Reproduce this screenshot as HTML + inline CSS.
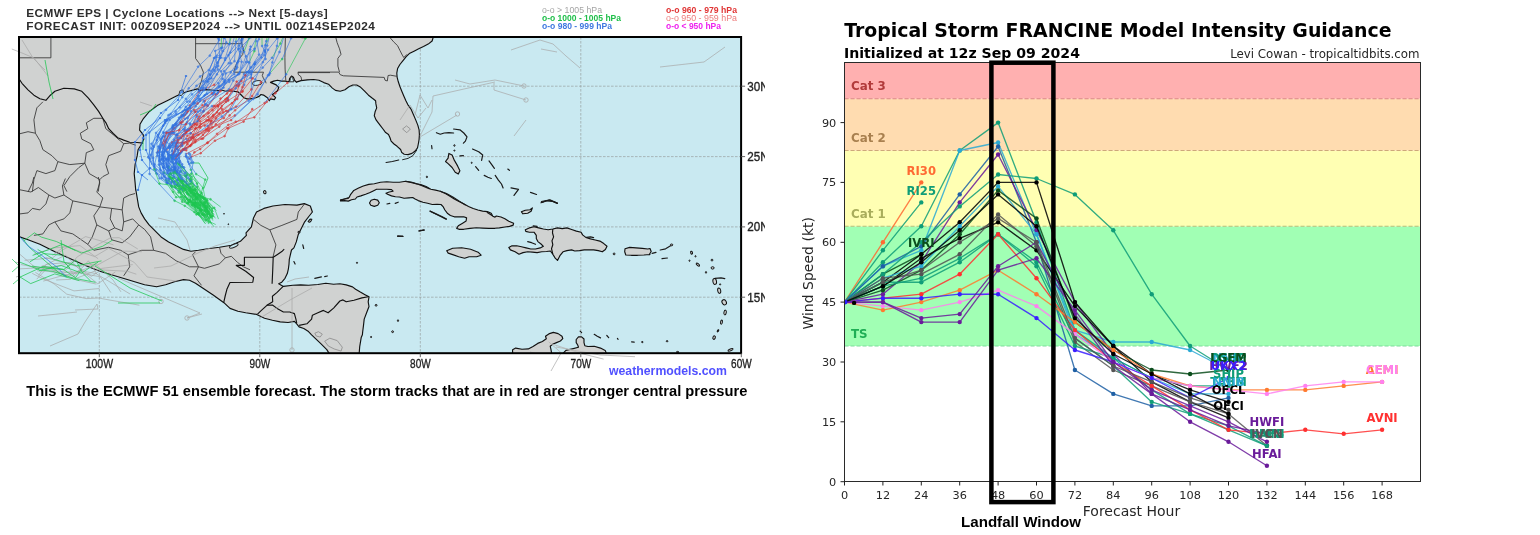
<!DOCTYPE html>
<html lang="en">
<head>
<meta charset="utf-8">
<title>Tropical Storm Francine - ECMWF ensemble tracks and model intensity guidance</title>
<style>
html,body{margin:0;padding:0;background:#fff;}
body{width:1540px;height:535px;overflow:hidden;position:relative;font-family:"Liberation Sans",sans-serif;}
.panel{position:absolute;top:0;margin:0;height:535px;overflow:hidden;}
#map-panel{left:0;width:765px;}
#chart-panel{left:0;width:1540px;pointer-events:none;}
svg{position:absolute;left:0;top:0;display:block;}
svg text{white-space:pre;}
</style>
</head>
<body>
<figure class="panel" id="map-panel">
<svg width="765" height="535" viewBox="0 0 765 535">
<clipPath id="mc"><rect x="19.0" y="37.0" width="722.1" height="316.2"/></clipPath>
<rect x="19.0" y="37.0" width="722.1" height="316.2" fill="#c9e9f1"/>
<g stroke="#959b9b" stroke-width="0.65" stroke-dasharray="2.6,1.4"><line x1="99.3" y1="37.0" x2="99.3" y2="353.2"/><line x1="259.8" y1="37.0" x2="259.8" y2="353.2"/><line x1="420.3" y1="37.0" x2="420.3" y2="353.2"/><line x1="580.8" y1="37.0" x2="580.8" y2="353.2"/><line x1="19.0" y1="86.2" x2="741.1" y2="86.2"/><line x1="19.0" y1="156.6" x2="741.1" y2="156.6"/><line x1="19.0" y1="226.9" x2="741.1" y2="226.9"/><line x1="19.0" y1="297.2" x2="741.1" y2="297.2"/></g>
<g clip-path="url(#mc)">
<g fill="#d0d2d1" stroke="#111" stroke-width="1.15" stroke-linejoin="round">
<path d="M17.0,35.0 L433.7,35.7 L432.1,41.0 L428.2,44.1 L423.5,46.5 L418.7,48.8 L414.0,51.2 L409.3,53.6 L406.2,56.7 L403.0,60.6 L399.9,64.5 L397.6,68.5 L396.8,73.2 L397.1,77.1 L398.3,81.8 L399.9,86.5 L401.8,91.2 L403.8,95.9 L405.9,100.7 L407.8,104.6 L411.2,109.4 L413.6,114.9 L415.9,120.4 L417.8,125.1 L419.1,129.8 L419.4,134.5 L419.1,139.3 L418.3,144.0 L417.5,147.9 L415.2,151.0 L412.0,153.4 L408.1,154.6 L404.2,154.2 L401.8,152.6 L400.6,149.5 L397.1,146.3 L394.0,144.0 L391.1,141.1 L390.0,137.7 L388.5,134.5 L385.3,132.2 L383.0,129.0 L380.6,125.9 L378.3,122.8 L375.9,119.6 L374.3,115.7 L375.1,111.8 L376.7,107.9 L375.9,103.9 L375.6,100.7 L372.4,98.3 L368.5,95.2 L364.6,91.2 L360.7,87.3 L356.7,85.0 L352.8,85.0 L348.9,86.8 L345.0,89.7 L340.2,91.2 L335.5,90.4 L332.4,88.1 L328.5,84.2 L323.8,82.6 L319.0,80.2 L313.6,79.5 L307.3,79.9 L301.0,80.6 L296.3,82.1 L296.6,82.4 L294.7,80.5 L293.4,77.3 L291.5,76.1 L289.6,78.6 L289.0,81.8 L285.1,81.1 L281.3,81.1 L277.5,80.2 L273.7,81.1 L270.5,82.4 L276.2,84.9 L278.8,87.5 L277.5,90.7 L274.3,93.2 L272.4,94.5 L275.6,97.7 L274.3,99.6 L270.5,98.9 L269.3,100.8 L267.4,97.7 L263.5,95.1 L261.0,94.5 L259.1,96.4 L255.9,97.7 L250.8,98.9 L247.0,98.9 L243.8,97.7 L240.7,94.5 L238.1,91.9 L233.0,91.3 L228.0,90.7 L225.4,91.3 L221.6,90.0 L216.5,90.7 L211.4,90.0 L206.4,89.6 L200.0,90.4 L197.5,88.9 L186.7,91.8 L176.9,95.8 L167.1,100.7 L157.3,105.6 L149.4,111.5 L143.6,118.3 L140.0,124.2 L139.6,130.1 L143.2,134.7 L143.8,139.2 L141.7,143.7 L138.1,149.7 L137.2,155.7 L135.1,164.6 L134.2,173.6 L135.1,182.6 L135.7,190.1 L135.7,189.0 L137.2,198.0 L138.7,206.9 L141.1,212.9 L144.6,218.9 L149.1,224.9 L155.1,230.9 L161.1,236.9 L168.6,241.9 L176.1,245.8 L183.5,249.4 L191.0,251.2 L198.5,250.3 L207.5,248.8 L219.5,247.3 L231.4,245.2 L240.4,241.3 L246.4,235.4 L246.0,232.9 L251.4,226.9 L253.5,218.0 L256.5,212.0 L263.9,208.4 L272.9,206.0 L284.9,204.5 L296.9,205.1 L304.3,203.6 L310.3,206.0 L312.4,212.0 L308.8,216.5 L304.3,222.4 L301.3,228.4 L298.3,234.4 L296.3,241.9 L293.9,247.9 L291.5,250.0 L290.4,254.7 L289.3,259.4 L289.0,264.1 L288.4,268.8 L287.3,273.6 L285.0,278.3 L281.8,282.2 L278.7,283.8 L283.4,286.4 L292.8,285.3 L300.7,284.9 L308.5,285.3 L317.9,284.5 L325.8,283.3 L333.6,284.2 L339.9,283.8 L346.2,284.9 L352.5,286.9 L355.6,289.3 L360.3,292.1 L365.0,294.7 L369.0,296.8 L368.2,301.8 L369.0,306.5 L366.6,312.8 L364.2,319.1 L363.5,325.4 L362.7,331.6 L362.4,334.8 L361.2,337.6 L359.7,346.6 L359.1,354.4 L329.8,354.4 L326.8,349.6 L320.8,343.6 L311.6,334.8 L308.5,331.6 L303.8,328.5 L299.1,326.9 L296.7,323.8 L294.4,321.4 L288.1,322.5 L280.2,321.9 L272.4,320.3 L264.5,318.3 L256.7,314.4 L245.7,312.8 L237.9,311.2 L230.0,308.4 L223.9,302.7 L213.5,295.2 L204.5,289.2 L195.5,283.2 L189.5,280.2 L183.5,279.6 L174.6,281.7 L165.6,284.7 L156.6,286.8 L144.6,284.7 L129.7,280.2 L114.7,275.8 L99.8,271.3 L84.8,265.3 L69.8,258.4 L54.9,251.8 L39.9,244.3 L28.0,239.8 L19.6,236.9 L17.0,236.5Z"/>
<path d="M340.5,200.1 L344.4,199.0 L349.1,197.5 L350.7,194.3 L353.8,190.4 L358.6,188.1 L363.3,186.0 L368.8,184.4 L374.3,183.8 L380.5,182.2 L386.8,181.8 L393.1,182.2 L399.4,182.2 L405.7,181.3 L411.9,182.2 L416.6,183.8 L421.4,184.9 L426.1,186.5 L430.8,189.2 L435.5,190.1 L440.2,191.2 L444.9,193.2 L449.6,195.9 L454.3,199.0 L459.0,201.4 L463.7,203.8 L468.5,206.4 L473.2,208.5 L477.9,210.0 L482.6,211.1 L487.3,211.6 L491.2,213.2 L492.8,216.3 L495.0,217.1 L496.3,216.0 L501.0,217.0 L504.9,218.8 L508.8,221.2 L513.6,223.2 L513.2,225.1 L509.6,226.4 L504.9,227.0 L499.4,227.9 L494.7,228.3 L495.0,228.4 L488.9,228.4 L482.6,228.1 L476.3,227.8 L470.0,228.4 L463.7,229.3 L459.0,229.3 L456.7,228.4 L458.3,225.7 L462.2,223.4 L466.1,221.0 L466.6,217.9 L463.7,216.8 L459.0,216.8 L454.3,216.8 L450.4,215.5 L447.3,213.2 L444.9,210.0 L443.3,206.9 L441.0,204.5 L437.1,204.2 L432.3,204.5 L427.6,203.3 L422.9,202.2 L418.2,200.6 L415.1,199.0 L412.7,197.5 L408.8,197.9 L404.1,198.3 L399.4,197.0 L395.4,196.7 L391.5,195.9 L387.6,194.3 L386.0,193.2 L389.2,192.0 L393.1,191.2 L391.5,189.6 L386.8,189.2 L382.1,189.2 L376.6,189.2 L372.7,191.2 L369.5,192.8 L365.6,194.3 L360.9,195.9 L357.0,197.0 L355.4,199.0 L351.5,199.8 L348.3,201.1 L344.4,200.6 L340.5,200.9Z"/>
<path d="M369.5,203.0 L371.1,200.3 L374.3,199.2 L377.7,200.1 L379.3,202.7 L377.7,205.3 L374.3,206.4 L370.8,205.3Z"/>
<path d="M446.7,250.7 L452.7,248.3 L461.7,247.7 L470.6,249.2 L478.1,252.2 L481.1,255.2 L476.6,256.7 L469.1,256.7 L464.6,258.2 L458.7,256.7 L452.7,254.6 L448.2,253.1Z"/>
<path d="M525.3,229.8 L529.3,227.9 L534.0,226.7 L538.7,227.9 L543.4,229.0 L548.1,229.8 L552.8,229.0 L557.5,227.9 L562.2,228.6 L566.9,227.9 L571.6,229.5 L576.4,231.1 L581.1,232.2 L582.6,234.9 L585.8,237.4 L590.5,238.9 L595.2,240.0 L599.9,241.1 L603.8,243.6 L607.0,246.3 L605.4,249.5 L602.3,251.8 L598.3,250.6 L593.6,249.9 L588.9,249.9 L584.2,249.9 L579.5,250.6 L574.8,251.0 L571.6,249.9 L566.9,250.6 L563.0,251.8 L559.9,255.7 L557.5,260.4 L555.2,258.1 L552.8,254.2 L550.4,251.0 L546.5,251.5 L541.8,251.8 L537.1,252.6 L532.4,252.1 L527.7,251.8 L523.0,252.6 L519.0,254.2 L515.1,251.8 L510.4,249.9 L508.8,247.4 L512.0,245.8 L516.7,245.8 L521.4,246.8 L526.1,247.9 L530.8,249.0 L535.5,249.0 L540.2,247.9 L543.4,246.3 L541.0,244.0 L537.9,241.6 L536.3,238.5 L536.3,235.3 L534.0,232.2 L529.3,232.2 L525.8,231.4Z"/>
<path d="M624.7,251.8 L625.0,248.7 L629.7,247.4 L636.0,247.9 L642.3,248.4 L647.8,249.0 L650.0,248.5 L651.2,251.5 L649.1,254.8 L650.0,254.5 L643.9,255.0 L637.6,255.3 L631.3,255.3 L625.8,255.0Z"/>
<path d="M512.6,354.4 L512.6,349.7 L515.7,348.1 L522.0,349.3 L528.3,348.9 L533.0,346.5 L537.7,343.4 L542.4,341.5 L546.3,338.7 L545.5,336.3 L549.5,333.6 L553.4,332.4 L558.1,333.6 L562.0,336.3 L562.8,338.7 L560.4,341.0 L556.5,342.6 L552.6,344.2 L550.2,346.2 L551.0,349.7 L551.8,354.4Z"/>
<path d="M562.0,354.4 L565.9,350.4 L572.2,348.9 L578.5,347.3 L577.7,345.0 L576.2,342.6 L576.2,339.5 L578.5,336.8 L581.6,336.8 L584.0,339.0 L584.0,342.6 L584.8,345.7 L587.9,346.5 L594.2,346.2 L600.5,348.1 L605.2,350.4 L606.8,354.4Z"/>
<path d="M448.9,153.4 L452.1,155.0 L454.4,160.4 L457.6,165.9 L459.9,170.7 L458.3,174.1 L455.2,172.2 L452.1,167.5 L448.1,163.6 L445.5,161.5 L448.1,158.1Z"/>
<path d="M521.4,211.8 L525.3,210.2 L530.0,209.7 L532.4,207.9 L531.1,211.3 L527.7,213.3 L523.0,213.8Z"/>
</g>
<g fill="none" stroke="#333" stroke-linejoin="round" stroke-width="0.85"><path d="M50.9,36.0 L50.9,57.8 L18.0,57.8"/><path d="M195.6,35.9 L195.6,58.5 L198.5,62.4 L200.5,65.3 L203.4,72.2 L202.4,77.1 L201.5,81.0 L198.5,88.9"/><path d="M195.6,43.7 L241.7,43.7"/><path d="M241.7,35.9 L241.3,41.8 L243.7,49.6 L242.7,54.5 L238.7,59.4 L235.8,65.3 L233.8,71.8"/><path d="M233.7,72.2 L263.5,72.2 L262.3,75.4 L263.5,78.6 L265.4,81.1 L266.1,83.3"/><path d="M285.4,36.0 L284.9,57.6 L285.1,69.1 L285.8,80.5"/><path d="M301.7,80.5 L301.0,76.7 L298.5,74.8 L297.9,72.6 L330.0,72.6"/><path d="M297.9,72.1 L338.7,72.1 L340.2,74.7 L343.4,75.8 L384.2,77.4 L385.0,80.2 L387.3,81.0 L388.1,75.5 L390.5,75.2 L396.8,76.3"/><path d="M335.5,36.3 L337.1,42.6 L339.5,48.8 L341.0,54.3 L337.9,58.3 L337.9,66.1 L339.5,72.1"/><path d="M388.9,36.3 L393.6,41.8 L397.6,45.7 L399.9,50.4 L402.3,55.1 L403.8,57.5 L407.0,54.3"/><path d="M16.0,134.7 L28.0,131.7 L35.4,133.2 L39.9,140.7 L42.9,149.7 L51.9,155.7 L57.9,161.7 L54.9,170.6 L45.9,173.6 L36.9,170.6 L33.9,179.6 L32.4,191.6"/><path d="M35.4,133.2 L33.9,119.8 L36.9,107.8 L42.9,101.8"/><path d="M57.9,161.7 L69.8,164.6 L84.8,163.2 L86.3,152.7 L93.8,149.7 L90.8,143.7 L81.8,139.2 L80.3,133.2 L87.8,128.7 L86.3,122.8 L93.8,118.3 L102.8,118.3"/><path d="M84.8,163.2 L78.8,167.6 L69.8,176.6 L63.9,185.6 L66.9,191.6"/><path d="M84.8,163.2 L89.3,173.6 L99.8,179.6 L98.3,191.6"/><path d="M102.8,118.3 L105.8,128.7 L113.2,134.7 L123.7,143.7 L120.7,151.2 L108.7,155.7 L105.8,164.6 L108.7,173.6 L102.8,176.6 L99.8,179.6"/><path d="M123.7,143.7 L129.7,143.1 L135.7,145.2"/><path d="M16.0,189.0 L30.9,192.0 L38.4,187.5 L48.9,195.0 L45.9,203.9 L39.9,209.9 L32.4,208.4 L28.0,212.9 L16.0,214.4"/><path d="M28.0,192.0 L32.4,183.0 L33.9,177.0"/><path d="M48.9,195.0 L54.9,198.0 L63.9,195.0 L72.8,200.9 L69.8,212.9 L63.9,218.9 L54.9,221.9 L48.9,224.9 L42.9,233.9 L33.9,235.4"/><path d="M63.9,195.0 L62.4,186.0 L65.4,178.5"/><path d="M72.8,200.9 L87.8,203.9 L99.8,206.9 L111.7,208.4 L122.2,209.9 L123.7,198.0 L129.7,195.0 L135.1,193.5"/><path d="M99.8,206.9 L93.8,215.9 L96.8,224.9 L92.3,236.9 L87.8,244.3 L93.8,250.3"/><path d="M99.8,206.9 L102.8,198.0 L96.8,192.0 L99.8,183.0 L98.3,177.0"/><path d="M122.2,209.9 L123.7,221.9 L132.7,218.9 L138.7,224.9 L144.6,229.4 L150.6,236.9 L153.6,250.3 L165.6,253.3 L176.1,260.8 L189.5,266.8 L198.5,266.8 L204.5,268.3"/><path d="M111.7,208.4 L110.2,218.9 L114.7,227.9 L122.2,230.9 L123.7,221.9"/><path d="M96.8,224.9 L108.7,230.9 L114.7,227.9"/><path d="M108.7,230.9 L111.7,239.8 L122.2,242.8 L129.7,236.9 L138.7,224.9"/><path d="M93.8,250.3 L108.7,247.3 L120.7,250.3 L128.2,254.8 L129.7,266.8 L123.7,275.8"/><path d="M54.9,221.9 L60.9,230.9 L72.8,233.9 L87.8,244.3"/><path d="M128.2,254.8 L141.7,250.3 L153.6,250.3"/><path d="M198.5,266.8 L192.5,254.8 L195.5,251.8"/><path d="M204.5,268.3 L219.5,263.8 L225.4,257.8 L231.4,256.3 L237.4,262.3 L243.4,266.8 L250.0,269.8"/><path d="M198.5,266.8 L194.0,275.8 L201.5,285.3"/><path d="M219.5,247.3 L221.0,253.3 L225.4,257.8"/><path d="M253.5,219.4 L260.9,225.4 L269.9,229.9 L281.9,225.4 L296.9,219.4"/><path d="M269.9,229.9 L273.5,238.9 L275.9,244.9 L272.9,257.5"/><path d="M296.9,219.4 L298.3,212.0 L304.3,204.2"/></g>
<g fill="none" stroke="#111" stroke-linejoin="round" stroke-width="1.15"><path d="M16.0,74.9 L18.4,77.9 L22.0,83.3 L28.0,89.8 L33.9,95.2 L39.9,98.8 L45.9,100.3 L50.4,95.2 L54.9,91.3 L63.9,88.3 L74.3,88.9 L81.8,91.3 L88.4,98.2 L93.8,104.8 L98.6,111.4 L102.8,118.3 L106.3,123.4 L108.7,128.7 L113.2,133.5 L117.7,137.7 L123.7,140.1 L129.7,142.2 L137.2,142.5 L143.2,143.1"/><path d="M223.7,302.6 L225.3,295.5 L226.9,289.3 L230.0,282.5 L252.8,282.2 L253.6,277.5 L245.7,271.2 L236.3,265.4 L244.4,265.4 L244.4,257.2 L273.2,257.2 L272.7,270.4 L272.1,283.8"/><path d="M273.2,257.2 L277.1,254.7 L281.8,251.6 L284.2,249.2"/><path d="M283.4,286.1 L277.1,292.4 L272.4,296.3 L272.7,301.8 L266.9,305.3 L261.4,310.4 L257.5,314.1"/><path d="M266.9,305.3 L272.4,305.0 L277.1,308.4 L283.4,312.0 L289.7,312.0 L294.4,313.6 L295.9,319.1 L296.7,323.0"/><path d="M299.1,325.4 L306.9,323.8 L311.6,319.1 L312.4,315.2 L317.9,312.8 L323.4,310.4 L328.1,312.8 L333.6,308.1 L339.9,301.0 L343.0,299.9 L346.2,301.8 L354.0,300.2 L361.9,297.9 L368.2,296.8"/><path d="M552.8,229.0 L552.5,233.0 L553.6,236.9 L552.0,240.8 L552.8,244.7 L551.5,248.7 L552.8,254.2"/></g>
<g fill="#c9e9f1" stroke="#222" stroke-width="0.9"><ellipse cx="257.2" cy="83.0" rx="4.8" ry="2.3" transform="rotate(-8 257.2 83.0)"/><path d="M289.6,81.8 L290.5,78.6 L291.5,76.1 L292.8,78.6 L293.8,81.8Z"/><path d="M178.9,94.8 L179.9,90.8 L182.8,89.9 L183.8,92.4 L181.2,95.8Z"/><ellipse cx="233.8" cy="245.9" rx="4.6" ry="1.5" transform="rotate(-22 233.8 245.9)"/></g>
<g fill="#d0d2d1" stroke="#8a8a8a" stroke-width="0.8"><path d="M324.7,341.2 L329.8,338.2 L337.2,340.6 L342.3,347.2 L341.1,351.1 L334.3,349.0 L328.3,346.0Z"/><path d="M314.8,333.2 L318.4,331.7 L322.3,334.1 L320.2,337.0 L316.3,336.1Z"/><path d="M402.6,129.0 L406.5,125.9 L410.4,129.0 L406.8,132.7Z"/></g>
<g fill="none" stroke="#1a1a1a" stroke-width="1.2" stroke-linecap="round" stroke-linejoin="round"><path d="M436.4,132.7 L440.3,134.2 L444.2,133.0 L448.9,132.7 L453.6,133.0"/><path d="M453.6,129.0 L459.9,129.8 L463.8,133.0 L467.0,136.9 L465.4,141.1 L463.4,143.2"/><path d="M472.5,149.0 L478.7,151.8 L482.7,155.0 L481.6,160.4"/><path d="M489.0,160.9 L492.1,165.2 L494.4,168.3"/><path d="M484.2,175.4 L487.9,177.2 L491.3,178.5"/><path d="M495.2,175.4 L498.4,180.1 L501.5,184.0 L503.1,187.9"/><path d="M459.9,155.9 L463.4,155.7"/><path d="M386.1,162.5 L392.4,161.5 L398.7,160.0"/><path d="M431.6,145.5 L432.0,148.7"/><path d="M475.6,166.7 L478.7,170.3"/><path d="M507.8,169.1 L509.4,170.3"/><path d="M511.0,187.9 L518.5,189.4 L514.0,195.4"/><path d="M530.5,192.4 L536.5,194.5"/><path d="M541.0,202.8 L549.9,199.8 L557.4,203.4"/><path d="M430.2,211.2 L436.2,214.2 L442.2,217.2 L446.1,219.3"/><path d="M386.9,204.0 L389.8,203.4"/><path d="M395.2,203.4 L398.2,202.2"/><path d="M419.2,231.0 L424.3,230.1"/><path d="M397.6,236.3 L402.7,236.1"/><path d="M397.7,235.9 L403.1,236.5"/><path d="M418.9,230.8 L424.0,229.9"/><path d="M308.2,221.5 L311.8,219.2"/><path d="M302.8,244.9 L303.7,248.5"/><path d="M293.9,261.6 L295.1,264.0"/><path d="M314.8,278.4 L321.4,276.9"/><path d="M324.7,276.6 L327.4,276.0"/><path d="M541.4,201.5 L548.9,200.0 L556.4,203.0"/><path d="M652.1,253.3 L656.0,252.4"/><path d="M660.2,250.0 L665.6,248.8 L671.0,245.5"/><path d="M662.0,258.6 L667.4,258.0"/><path d="M715.0,278.4 L721.0,277.8 L724.8,278.7"/><path d="M527.7,241.6 L531.6,242.7 L535.5,244.3"/><path d="M533.2,225.9 L537.1,226.4"/><path d="M586.6,237.4 L590.5,236.9 L593.6,237.7"/><path d="M541.8,202.4 L546.5,200.8 L552.8,201.3 L557.5,203.1"/><path d="M580.1,331.1 L581.6,332.7"/><path d="M594.2,334.3 L597.3,336.3 L600.5,337.9"/><path d="M606.8,335.5 L608.7,337.6"/><path d="M617.4,338.4 L618.1,339.3"/><path d="M631.6,341.8 L634.2,342.1"/><path d="M642.1,341.8 L642.6,342.0"/><path d="M405.7,181.3 L411.9,182.6 L416.6,183.8 L421.4,185.4 L429.2,188.8"/><path d="M440.2,191.2 L446.5,193.6 L452.8,197.0 L459.0,201.1 L465.3,204.9"/><path d="M430.0,211.1 L435.5,213.6 L441.8,216.5 L446.5,219.0"/><path d="M340.5,200.1 L344.4,199.0 L348.3,198.3"/><path d="M487.3,212.4 L492.0,215.5"/></g>
<g fill="none" stroke="#111" stroke-width="0.9" stroke-linecap="round" stroke-linejoin="round"><path d="M402.6,159.7 L408.1,158.4 L412.8,155.7 L416.7,150.2"/></g>
<g fill="#d0d2d1" stroke="#111" stroke-width="1"><ellipse cx="376.1" cy="305.3" rx="0.9" ry="0.9" transform="rotate(0 376.1 305.3)"/><ellipse cx="398.0" cy="320.6" rx="0.6" ry="0.9" transform="rotate(0 398.0 320.6)"/><ellipse cx="392.6" cy="331.7" rx="0.9" ry="0.9" transform="rotate(0 392.6 331.7)"/><ellipse cx="371.1" cy="337.0" rx="0.6" ry="0.6" transform="rotate(0 371.1 337.0)"/><ellipse cx="357.0" cy="262.8" rx="0.6" ry="0.6" transform="rotate(0 357.0 262.8)"/><ellipse cx="454.4" cy="145.5" rx="0.6" ry="0.8" transform="rotate(0 454.4 145.5)"/><ellipse cx="454.4" cy="150.6" rx="0.6" ry="0.5" transform="rotate(0 454.4 150.6)"/><ellipse cx="426.9" cy="176.9" rx="0.6" ry="0.8" transform="rotate(0 426.9 176.9)"/><ellipse cx="471.7" cy="162.8" rx="0.5" ry="0.6" transform="rotate(0 471.7 162.8)"/><ellipse cx="614.1" cy="253.9" rx="0.9" ry="0.9" transform="rotate(0 614.1 253.9)"/><ellipse cx="671.6" cy="244.9" rx="1.2" ry="0.9" transform="rotate(0 671.6 244.9)"/><ellipse cx="691.6" cy="252.7" rx="0.9" ry="1.5" transform="rotate(-20 691.6 252.7)"/><ellipse cx="695.5" cy="256.3" rx="0.6" ry="0.6" transform="rotate(0 695.5 256.3)"/><ellipse cx="697.9" cy="264.6" rx="2.1" ry="0.9" transform="rotate(40 697.9 264.6)"/><ellipse cx="706.0" cy="272.4" rx="0.6" ry="0.9" transform="rotate(0 706.0 272.4)"/><ellipse cx="712.0" cy="260.1" rx="0.9" ry="0.9" transform="rotate(0 712.0 260.1)"/><ellipse cx="712.6" cy="267.9" rx="1.5" ry="1.2" transform="rotate(0 712.6 267.9)"/><ellipse cx="714.7" cy="281.4" rx="1.8" ry="3.0" transform="rotate(-10 714.7 281.4)"/><ellipse cx="719.2" cy="290.7" rx="1.5" ry="2.7" transform="rotate(-10 719.2 290.7)"/><ellipse cx="720.1" cy="284.4" rx="0.6" ry="0.6" transform="rotate(0 720.1 284.4)"/><ellipse cx="724.2" cy="302.3" rx="2.1" ry="2.7" transform="rotate(-30 724.2 302.3)"/><ellipse cx="725.1" cy="312.5" rx="1.2" ry="2.4" transform="rotate(10 725.1 312.5)"/><ellipse cx="721.5" cy="322.1" rx="0.9" ry="2.1" transform="rotate(10 721.5 322.1)"/><ellipse cx="718.0" cy="330.8" rx="0.6" ry="1.2" transform="rotate(30 718.0 330.8)"/><ellipse cx="714.1" cy="337.6" rx="1.2" ry="1.8" transform="rotate(20 714.1 337.6)"/><ellipse cx="730.5" cy="349.9" rx="2.7" ry="0.9" transform="rotate(-20 730.5 349.9)"/><ellipse cx="689.5" cy="260.7" rx="0.6" ry="0.6" transform="rotate(0 689.5 260.7)"/><ellipse cx="642.3" cy="342.1" rx="0.6" ry="0.6" transform="rotate(0 642.3 342.1)"/><ellipse cx="667.1" cy="341.2" rx="0.9" ry="0.6" transform="rotate(0 667.1 341.2)"/><ellipse cx="677.6" cy="352.0" rx="1.2" ry="0.6" transform="rotate(0 677.6 352.0)"/><ellipse cx="264.8" cy="192.2" rx="1.2" ry="1.6" transform="rotate(-20 264.8 192.2)"/><ellipse cx="310.0" cy="220.7" rx="1.8" ry="1.0" transform="rotate(-50 310.0 220.7)"/><ellipse cx="299.0" cy="232.1" rx="1.2" ry="0.8" transform="rotate(0 299.0 232.1)"/><ellipse cx="224.0" cy="213.8" rx="0.4" ry="0.4" transform="rotate(0 224.0 213.8)"/><ellipse cx="228.3" cy="224.2" rx="0.4" ry="0.4" transform="rotate(0 228.3 224.2)"/></g>
<path d="M35.4,272.4L54.2,284.0L66.8,294.2L86.2,298.6L98.6,298.0L110.0,300.1L139.4,305.2M41.8,265.8L65.5,270.3L77.3,256.8L97.9,244.5L110.5,237.8L119.2,237.7L137.8,249.0M38.4,275.6L46.5,264.2L70.2,262.4L91.4,276.3L101.4,269.9L127.6,271.3L136.3,274.2M19.9,254.3L37.1,269.1L65.5,255.1L78.5,268.4L97.8,283.8L115.3,272.0M43.3,281.1L59.4,276.5L67.8,274.8L97.9,264.8L122.9,251.1L142.0,251.7M45.7,257.5L77.3,266.6L95.4,264.1L112.9,279.8L120.9,291.8M58.9,273.7L71.9,271.5L100.4,276.8L110.8,292.5M24.6,260.3L52.5,257.9L62.3,250.2L85.6,236.6L102.4,241.3L113.5,244.9M52.5,255.4L64.8,246.1L94.6,256.6L108.6,248.3L134.4,262.5L147.1,277.0L176.3,281.1M34.0,254.2L54.3,247.8L80.0,245.6L98.1,258.7M37.1,270.8L48.1,271.2L71.8,275.7L81.6,268.0M56.2,280.0L70.6,279.3L80.1,270.6L96.9,273.8M20.9,264.5L52.5,270.2L77.0,273.7L88.4,260.8L96.8,274.1L121.7,289.0L130.2,294.1M36.7,279.2L48.0,267.4L66.9,264.4L75.9,278.5L101.6,268.4L132.7,264.6M18.8,268.9L47.7,267.4L74.7,279.3L96.4,284.1M32.2,273.3L42.1,278.5L74.0,290.9L99.4,288.5M158,218L175,222L187,240L190,250M118,278L160,296L200,313L187,318L202,314M38,316L58,314L77,312M75,310L98,309L97,304L85,322L78,334L50,346M154,268L171,266L200,252L215,246L235,240M287,282L295,279L309,277M292,288L292,350M260,318L290,300L312,288M10,48L34,58L48,76M22,40L33,58L45,70M140,102L152,106M511,50L540,40L553,44L566,56L580,68M541,49L557,52M455,80L470,84L495,80L524,86M494,83L494,90L510,95L526,100M420,136L432,112L433,96L495,82M514,136L526,120M660,67L704,62L725,47M415,115L420,95L428,108L432,100M420,137L457,115M400,120L410,105L418,118L426,108M530,352L552,358L575,356M555,353L580,362L610,366M547,366L552,355" fill="none" stroke="#a9a9a9" stroke-width="0.8" opacity="0.9" stroke-linejoin="round"/>
<g fill="none" stroke="#a9a9a9" stroke-width="0.8"><circle cx="524" cy="86" r="2.2"/><circle cx="526" cy="100" r="2.2"/><circle cx="457.5" cy="114" r="2.2"/><circle cx="292" cy="350" r="2.2"/><circle cx="187" cy="318" r="2.2"/><circle cx="161" cy="301.5" r="2.2"/><circle cx="303" cy="36.5" r="2.2"/></g>
<path d="M190,163L199,163L208,178L204,188M45,60L49,82L53,99M143,140L143,150M268,37L300,36L317,28M140,115L152,110L156,104M32.1,266.1L47.3,268.2L63.7,269.6L75.9,259.9L82.3,272.8L90.6,281.0M29.8,261.9L43.2,253.6L61.4,255.1M32.6,255.4L48.6,249.7L62.7,244.2L81.4,253.1L102.5,246.3L112.7,240.0M37.6,249.4L53.6,259.2L76.5,265.7L101.5,260.9M15.1,260.3L39.6,269.9L53.2,271.4L72.7,278.0L95.5,282.3M19.6,277.3L43.1,266.4L63.2,269.2L75.4,277.8L81.8,269.3M23.6,241.1L34.4,232.8L41.3,237.1L56.3,241.5L75.4,250.5M38.8,270.8L61.2,265.5L81.5,273.1L98.2,262.0M16.8,275.0L30.7,283.6L54.8,273.9L79.4,280.7M61,240L64,262L70,268M95,266L130,288L162,301M118,303L160,303M22,238L30,248L58,272L67,277" fill="none" stroke="#1fc652" stroke-width="0.9" opacity="0.85" stroke-linejoin="round"/>
<path d="M212.5,217.5L205.0,207.6M204.1,207.6a0.9,0.9 0 1,0 1.8,0a0.9,0.9 0 1,0 -1.8,0zM205.0,207.6L206.8,199.7M205.9,199.7a0.9,0.9 0 1,0 1.8,0a0.9,0.9 0 1,0 -1.8,0zM206.8,199.7L187.3,185.7M186.4,185.7a0.9,0.9 0 1,0 1.8,0a0.9,0.9 0 1,0 -1.8,0z" fill="#1fc652" stroke="#1fc652" stroke-width="0.75" opacity="0.82" stroke-linejoin="round"/>
<path d="M187.3,185.7L185.8,176.0M184.9,176.0a0.9,0.9 0 1,0 1.8,0a0.9,0.9 0 1,0 -1.8,0zM185.8,176.0L180.4,166.2M179.5,166.2a0.9,0.9 0 1,0 1.8,0a0.9,0.9 0 1,0 -1.8,0zM180.4,166.2L176.5,155.7M175.6,155.7a0.9,0.9 0 1,0 1.8,0a0.9,0.9 0 1,0 -1.8,0zM176.5,155.7L181.3,152.2M180.4,152.2a0.9,0.9 0 1,0 1.8,0a0.9,0.9 0 1,0 -1.8,0zM251.4,89.4L251.5,71.2M250.6,71.2a0.9,0.9 0 1,0 1.8,0a0.9,0.9 0 1,0 -1.8,0zM251.5,71.2L264.4,55.1M263.5,55.1a0.9,0.9 0 1,0 1.8,0a0.9,0.9 0 1,0 -1.8,0zM264.4,55.1L267.2,45.6M266.3,45.6a0.9,0.9 0 1,0 1.8,0a0.9,0.9 0 1,0 -1.8,0zM267.2,45.6L271.8,26.4M270.9,26.4a0.9,0.9 0 1,0 1.8,0a0.9,0.9 0 1,0 -1.8,0z" fill="#3273e0" stroke="#3273e0" stroke-width="0.75" opacity="0.82" stroke-linejoin="round"/>
<path d="M181.3,152.2L189.9,146.1M189.0,146.1a0.9,0.9 0 1,0 1.8,0a0.9,0.9 0 1,0 -1.8,0zM189.9,146.1L200.4,127.6M199.5,127.6a0.9,0.9 0 1,0 1.8,0a0.9,0.9 0 1,0 -1.8,0zM200.4,127.6L208.3,120.4M207.4,120.4a0.9,0.9 0 1,0 1.8,0a0.9,0.9 0 1,0 -1.8,0zM208.3,120.4L223.1,112.3M222.2,112.3a0.9,0.9 0 1,0 1.8,0a0.9,0.9 0 1,0 -1.8,0zM223.1,112.3L236.0,106.6M235.1,106.6a0.9,0.9 0 1,0 1.8,0a0.9,0.9 0 1,0 -1.8,0zM236.0,106.6L251.4,89.4M250.5,89.4a0.9,0.9 0 1,0 1.8,0a0.9,0.9 0 1,0 -1.8,0z" fill="#d63636" stroke="#d63636" stroke-width="0.75" opacity="0.82" stroke-linejoin="round"/>
<path d="M206.1,212.9L205.6,208.0M204.7,208.0a0.9,0.9 0 1,0 1.8,0a0.9,0.9 0 1,0 -1.8,0zM205.6,208.0L196.4,198.0M195.5,198.0a0.9,0.9 0 1,0 1.8,0a0.9,0.9 0 1,0 -1.8,0zM196.4,198.0L196.5,199.2M195.6,199.2a0.9,0.9 0 1,0 1.8,0a0.9,0.9 0 1,0 -1.8,0zM196.5,199.2L192.5,186.8M191.6,186.8a0.9,0.9 0 1,0 1.8,0a0.9,0.9 0 1,0 -1.8,0zM192.5,186.8L185.9,175.8M185.0,175.8a0.9,0.9 0 1,0 1.8,0a0.9,0.9 0 1,0 -1.8,0zM185.9,175.8L181.1,171.4M180.2,171.4a0.9,0.9 0 1,0 1.8,0a0.9,0.9 0 1,0 -1.8,0z" fill="#1fc652" stroke="#1fc652" stroke-width="0.75" opacity="0.82" stroke-linejoin="round"/>
<path d="M181.1,171.4L179.7,162.6M178.8,162.6a0.9,0.9 0 1,0 1.8,0a0.9,0.9 0 1,0 -1.8,0zM179.7,162.6L170.6,155.8M169.7,155.8a0.9,0.9 0 1,0 1.8,0a0.9,0.9 0 1,0 -1.8,0zM170.6,155.8L169.3,155.6M168.4,155.6a0.9,0.9 0 1,0 1.8,0a0.9,0.9 0 1,0 -1.8,0zM169.3,155.6L175.3,151.4M174.4,151.4a0.9,0.9 0 1,0 1.8,0a0.9,0.9 0 1,0 -1.8,0zM175.3,151.4L177.4,142.5M176.5,142.5a0.9,0.9 0 1,0 1.8,0a0.9,0.9 0 1,0 -1.8,0z" fill="#3273e0" stroke="#3273e0" stroke-width="0.75" opacity="0.82" stroke-linejoin="round"/>
<path d="M177.4,142.5L186.7,142.3M185.8,142.3a0.9,0.9 0 1,0 1.8,0a0.9,0.9 0 1,0 -1.8,0zM186.7,142.3L190.8,133.3M189.9,133.3a0.9,0.9 0 1,0 1.8,0a0.9,0.9 0 1,0 -1.8,0zM190.8,133.3L195.6,128.3M194.7,128.3a0.9,0.9 0 1,0 1.8,0a0.9,0.9 0 1,0 -1.8,0zM195.6,128.3L198.4,119.0M197.5,119.0a0.9,0.9 0 1,0 1.8,0a0.9,0.9 0 1,0 -1.8,0zM198.4,119.0L208.4,113.2M207.5,113.2a0.9,0.9 0 1,0 1.8,0a0.9,0.9 0 1,0 -1.8,0zM208.4,113.2L217.5,105.5M216.6,105.5a0.9,0.9 0 1,0 1.8,0a0.9,0.9 0 1,0 -1.8,0zM217.5,105.5L227.8,100.1M226.9,100.1a0.9,0.9 0 1,0 1.8,0a0.9,0.9 0 1,0 -1.8,0z" fill="#d63636" stroke="#d63636" stroke-width="0.75" opacity="0.82" stroke-linejoin="round"/>
<path d="M210.6,216.3L197.9,203.4M197.0,203.4a0.9,0.9 0 1,0 1.8,0a0.9,0.9 0 1,0 -1.8,0zM197.9,203.4L186.7,192.9M185.8,192.9a0.9,0.9 0 1,0 1.8,0a0.9,0.9 0 1,0 -1.8,0zM186.7,192.9L175.7,187.5M174.8,187.5a0.9,0.9 0 1,0 1.8,0a0.9,0.9 0 1,0 -1.8,0zM235.9,41.7L236.7,32.3M235.8,32.3a0.9,0.9 0 1,0 1.8,0a0.9,0.9 0 1,0 -1.8,0z" fill="#1fc652" stroke="#1fc652" stroke-width="0.75" opacity="0.82" stroke-linejoin="round"/>
<path d="M175.7,187.5L169.8,170.4M168.9,170.4a0.9,0.9 0 1,0 1.8,0a0.9,0.9 0 1,0 -1.8,0zM169.8,170.4L161.5,158.9M160.6,158.9a0.9,0.9 0 1,0 1.8,0a0.9,0.9 0 1,0 -1.8,0zM161.5,158.9L163.1,144.8M162.2,144.8a0.9,0.9 0 1,0 1.8,0a0.9,0.9 0 1,0 -1.8,0zM214.2,84.8L224.2,71.1M223.3,71.1a0.9,0.9 0 1,0 1.8,0a0.9,0.9 0 1,0 -1.8,0zM224.2,71.1L234.5,61.1M233.6,61.1a0.9,0.9 0 1,0 1.8,0a0.9,0.9 0 1,0 -1.8,0zM234.5,61.1L235.9,41.7M235.0,41.7a0.9,0.9 0 1,0 1.8,0a0.9,0.9 0 1,0 -1.8,0zM236.7,32.3L240.8,18.4M239.9,18.4a0.9,0.9 0 1,0 1.8,0a0.9,0.9 0 1,0 -1.8,0z" fill="#3273e0" stroke="#3273e0" stroke-width="0.75" opacity="0.82" stroke-linejoin="round"/>
<path d="M163.1,144.8L172.9,127.5M172.0,127.5a0.9,0.9 0 1,0 1.8,0a0.9,0.9 0 1,0 -1.8,0zM172.9,127.5L182.0,115.3M181.1,115.3a0.9,0.9 0 1,0 1.8,0a0.9,0.9 0 1,0 -1.8,0zM182.0,115.3L190.0,105.6M189.1,105.6a0.9,0.9 0 1,0 1.8,0a0.9,0.9 0 1,0 -1.8,0zM190.0,105.6L199.0,91.6M198.1,91.6a0.9,0.9 0 1,0 1.8,0a0.9,0.9 0 1,0 -1.8,0zM199.0,91.6L214.2,84.8M213.3,84.8a0.9,0.9 0 1,0 1.8,0a0.9,0.9 0 1,0 -1.8,0z" fill="#d63636" stroke="#d63636" stroke-width="0.75" opacity="0.82" stroke-linejoin="round"/>
<path d="M201.5,217.2L184.8,205.8M183.9,205.8a0.9,0.9 0 1,0 1.8,0a0.9,0.9 0 1,0 -1.8,0zM184.8,205.8L174.6,200.7M173.7,200.7a0.9,0.9 0 1,0 1.8,0a0.9,0.9 0 1,0 -1.8,0z" fill="#1fc652" stroke="#1fc652" stroke-width="0.75" opacity="0.82" stroke-linejoin="round"/>
<path d="M174.6,200.7L149.6,173.9M148.7,173.9a0.9,0.9 0 1,0 1.8,0a0.9,0.9 0 1,0 -1.8,0zM149.6,173.9L149.3,132.6M148.4,132.6a0.9,0.9 0 1,0 1.8,0a0.9,0.9 0 1,0 -1.8,0zM149.3,132.6L166.0,109.8M165.1,109.8a0.9,0.9 0 1,0 1.8,0a0.9,0.9 0 1,0 -1.8,0zM166.0,109.8L182.1,92.1M181.2,92.1a0.9,0.9 0 1,0 1.8,0a0.9,0.9 0 1,0 -1.8,0zM182.1,92.1L198.1,66.7M197.2,66.7a0.9,0.9 0 1,0 1.8,0a0.9,0.9 0 1,0 -1.8,0zM198.1,66.7L209.8,55.6M208.9,55.6a0.9,0.9 0 1,0 1.8,0a0.9,0.9 0 1,0 -1.8,0zM209.8,55.6L219.1,40.0M218.2,40.0a0.9,0.9 0 1,0 1.8,0a0.9,0.9 0 1,0 -1.8,0zM219.1,40.0L219.0,27.3M218.1,27.3a0.9,0.9 0 1,0 1.8,0a0.9,0.9 0 1,0 -1.8,0zM219.0,27.3L217.2,8.5M216.3,8.5a0.9,0.9 0 1,0 1.8,0a0.9,0.9 0 1,0 -1.8,0z" fill="#3273e0" stroke="#3273e0" stroke-width="0.75" opacity="0.82" stroke-linejoin="round"/>
<path d="M207.4,222.7L194.5,212.1M193.6,212.1a0.9,0.9 0 1,0 1.8,0a0.9,0.9 0 1,0 -1.8,0zM194.5,212.1L182.6,199.5M181.7,199.5a0.9,0.9 0 1,0 1.8,0a0.9,0.9 0 1,0 -1.8,0zM182.6,199.5L173.2,191.8M172.3,191.8a0.9,0.9 0 1,0 1.8,0a0.9,0.9 0 1,0 -1.8,0zM173.2,191.8L168.8,180.5M167.9,180.5a0.9,0.9 0 1,0 1.8,0a0.9,0.9 0 1,0 -1.8,0z" fill="#1fc652" stroke="#1fc652" stroke-width="0.75" opacity="0.82" stroke-linejoin="round"/>
<path d="M168.8,180.5L154.4,166.5M153.5,166.5a0.9,0.9 0 1,0 1.8,0a0.9,0.9 0 1,0 -1.8,0zM154.4,166.5L151.7,148.5M150.8,148.5a0.9,0.9 0 1,0 1.8,0a0.9,0.9 0 1,0 -1.8,0zM151.7,148.5L156.1,132.9M155.2,132.9a0.9,0.9 0 1,0 1.8,0a0.9,0.9 0 1,0 -1.8,0zM156.1,132.9L166.8,120.7M165.9,120.7a0.9,0.9 0 1,0 1.8,0a0.9,0.9 0 1,0 -1.8,0zM166.8,120.7L175.6,111.4M174.7,111.4a0.9,0.9 0 1,0 1.8,0a0.9,0.9 0 1,0 -1.8,0zM175.6,111.4L185.9,98.9M185.0,98.9a0.9,0.9 0 1,0 1.8,0a0.9,0.9 0 1,0 -1.8,0zM185.9,98.9L196.5,85.8M195.6,85.8a0.9,0.9 0 1,0 1.8,0a0.9,0.9 0 1,0 -1.8,0zM196.5,85.8L210.1,74.8M209.2,74.8a0.9,0.9 0 1,0 1.8,0a0.9,0.9 0 1,0 -1.8,0zM210.1,74.8L218.2,66.0M217.3,66.0a0.9,0.9 0 1,0 1.8,0a0.9,0.9 0 1,0 -1.8,0zM218.2,66.0L219.6,55.6M218.7,55.6a0.9,0.9 0 1,0 1.8,0a0.9,0.9 0 1,0 -1.8,0zM219.6,55.6L218.3,38.5M217.4,38.5a0.9,0.9 0 1,0 1.8,0a0.9,0.9 0 1,0 -1.8,0zM218.3,38.5L224.1,34.9M223.2,34.9a0.9,0.9 0 1,0 1.8,0a0.9,0.9 0 1,0 -1.8,0zM224.1,34.9L224.0,26.2M223.1,26.2a0.9,0.9 0 1,0 1.8,0a0.9,0.9 0 1,0 -1.8,0zM224.0,26.2L225.8,13.0M224.9,13.0a0.9,0.9 0 1,0 1.8,0a0.9,0.9 0 1,0 -1.8,0z" fill="#3273e0" stroke="#3273e0" stroke-width="0.75" opacity="0.82" stroke-linejoin="round"/>
<path d="M220.7,207.0L210.5,199.3M209.6,199.3a0.9,0.9 0 1,0 1.8,0a0.9,0.9 0 1,0 -1.8,0zM210.5,199.3L200.2,196.3M199.3,196.3a0.9,0.9 0 1,0 1.8,0a0.9,0.9 0 1,0 -1.8,0zM200.2,196.3L205.2,179.6M204.3,179.6a0.9,0.9 0 1,0 1.8,0a0.9,0.9 0 1,0 -1.8,0zM205.2,179.6L196.2,174.1M195.3,174.1a0.9,0.9 0 1,0 1.8,0a0.9,0.9 0 1,0 -1.8,0z" fill="#1fc652" stroke="#1fc652" stroke-width="0.75" opacity="0.82" stroke-linejoin="round"/>
<path d="M196.2,174.1L189.3,163.9M188.4,163.9a0.9,0.9 0 1,0 1.8,0a0.9,0.9 0 1,0 -1.8,0zM189.3,163.9L188.2,161.8M187.3,161.8a0.9,0.9 0 1,0 1.8,0a0.9,0.9 0 1,0 -1.8,0zM188.2,161.8L185.8,156.4M184.9,156.4a0.9,0.9 0 1,0 1.8,0a0.9,0.9 0 1,0 -1.8,0zM185.8,156.4L188.0,157.6M187.1,157.6a0.9,0.9 0 1,0 1.8,0a0.9,0.9 0 1,0 -1.8,0zM188.0,157.6L189.3,159.0M188.4,159.0a0.9,0.9 0 1,0 1.8,0a0.9,0.9 0 1,0 -1.8,0z" fill="#3273e0" stroke="#3273e0" stroke-width="0.75" opacity="0.82" stroke-linejoin="round"/>
<path d="M189.3,159.0L194.4,152.3M193.5,152.3a0.9,0.9 0 1,0 1.8,0a0.9,0.9 0 1,0 -1.8,0zM194.4,152.3L200.2,149.0M199.3,149.0a0.9,0.9 0 1,0 1.8,0a0.9,0.9 0 1,0 -1.8,0zM200.2,149.0L207.9,142.5M207.0,142.5a0.9,0.9 0 1,0 1.8,0a0.9,0.9 0 1,0 -1.8,0zM207.9,142.5L217.1,133.8M216.2,133.8a0.9,0.9 0 1,0 1.8,0a0.9,0.9 0 1,0 -1.8,0zM217.1,133.8L228.3,124.9M227.4,124.9a0.9,0.9 0 1,0 1.8,0a0.9,0.9 0 1,0 -1.8,0zM228.3,124.9L235.8,121.7M234.9,121.7a0.9,0.9 0 1,0 1.8,0a0.9,0.9 0 1,0 -1.8,0zM235.8,121.7L254.3,117.3M253.4,117.3a0.9,0.9 0 1,0 1.8,0a0.9,0.9 0 1,0 -1.8,0zM254.3,117.3L266.7,101.8M265.8,101.8a0.9,0.9 0 1,0 1.8,0a0.9,0.9 0 1,0 -1.8,0zM266.7,101.8L275.4,93.3M274.5,93.3a0.9,0.9 0 1,0 1.8,0a0.9,0.9 0 1,0 -1.8,0zM275.4,93.3L287.4,82.9M286.5,82.9a0.9,0.9 0 1,0 1.8,0a0.9,0.9 0 1,0 -1.8,0z" fill="#d63636" stroke="#d63636" stroke-width="0.75" opacity="0.82" stroke-linejoin="round"/>
<path d="M210.4,213.8L197.9,207.8M197.0,207.8a0.9,0.9 0 1,0 1.8,0a0.9,0.9 0 1,0 -1.8,0zM197.9,207.8L191.1,192.2M190.2,192.2a0.9,0.9 0 1,0 1.8,0a0.9,0.9 0 1,0 -1.8,0zM191.1,192.2L177.9,183.7M177.0,183.7a0.9,0.9 0 1,0 1.8,0a0.9,0.9 0 1,0 -1.8,0z" fill="#1fc652" stroke="#1fc652" stroke-width="0.75" opacity="0.82" stroke-linejoin="round"/>
<path d="M177.9,183.7L169.6,178.8M168.7,178.8a0.9,0.9 0 1,0 1.8,0a0.9,0.9 0 1,0 -1.8,0zM169.6,178.8L163.5,163.6M162.6,163.6a0.9,0.9 0 1,0 1.8,0a0.9,0.9 0 1,0 -1.8,0zM163.5,163.6L162.4,155.4M161.5,155.4a0.9,0.9 0 1,0 1.8,0a0.9,0.9 0 1,0 -1.8,0zM162.4,155.4L164.7,141.1M163.8,141.1a0.9,0.9 0 1,0 1.8,0a0.9,0.9 0 1,0 -1.8,0zM164.7,141.1L172.6,132.7M171.7,132.7a0.9,0.9 0 1,0 1.8,0a0.9,0.9 0 1,0 -1.8,0zM172.6,132.7L180.8,122.8M179.9,122.8a0.9,0.9 0 1,0 1.8,0a0.9,0.9 0 1,0 -1.8,0zM180.8,122.8L187.4,117.9M186.5,117.9a0.9,0.9 0 1,0 1.8,0a0.9,0.9 0 1,0 -1.8,0zM187.4,117.9L195.8,106.3M194.9,106.3a0.9,0.9 0 1,0 1.8,0a0.9,0.9 0 1,0 -1.8,0zM195.8,106.3L204.0,96.1M203.1,96.1a0.9,0.9 0 1,0 1.8,0a0.9,0.9 0 1,0 -1.8,0zM204.0,96.1L218.1,83.1M217.2,83.1a0.9,0.9 0 1,0 1.8,0a0.9,0.9 0 1,0 -1.8,0zM218.1,83.1L223.1,74.5M222.2,74.5a0.9,0.9 0 1,0 1.8,0a0.9,0.9 0 1,0 -1.8,0zM223.1,74.5L230.8,63.2M229.9,63.2a0.9,0.9 0 1,0 1.8,0a0.9,0.9 0 1,0 -1.8,0zM230.8,63.2L228.5,55.1M227.6,55.1a0.9,0.9 0 1,0 1.8,0a0.9,0.9 0 1,0 -1.8,0zM228.5,55.1L238.8,45.6M237.9,45.6a0.9,0.9 0 1,0 1.8,0a0.9,0.9 0 1,0 -1.8,0zM238.8,45.6L239.2,37.2M238.3,37.2a0.9,0.9 0 1,0 1.8,0a0.9,0.9 0 1,0 -1.8,0zM239.2,37.2L238.5,25.9M237.6,25.9a0.9,0.9 0 1,0 1.8,0a0.9,0.9 0 1,0 -1.8,0zM238.5,25.9L248.8,13.3M247.9,13.3a0.9,0.9 0 1,0 1.8,0a0.9,0.9 0 1,0 -1.8,0z" fill="#3273e0" stroke="#3273e0" stroke-width="0.75" opacity="0.82" stroke-linejoin="round"/>
<path d="M214.2,214.3L208.3,211.1M207.4,211.1a0.9,0.9 0 1,0 1.8,0a0.9,0.9 0 1,0 -1.8,0zM208.3,211.1L199.0,195.0M198.1,195.0a0.9,0.9 0 1,0 1.8,0a0.9,0.9 0 1,0 -1.8,0zM199.0,195.0L191.6,179.3M190.7,179.3a0.9,0.9 0 1,0 1.8,0a0.9,0.9 0 1,0 -1.8,0zM191.6,179.3L182.6,166.8M181.7,166.8a0.9,0.9 0 1,0 1.8,0a0.9,0.9 0 1,0 -1.8,0z" fill="#1fc652" stroke="#1fc652" stroke-width="0.75" opacity="0.82" stroke-linejoin="round"/>
<path d="M182.6,166.8L171.9,158.2M171.0,158.2a0.9,0.9 0 1,0 1.8,0a0.9,0.9 0 1,0 -1.8,0zM171.9,158.2L174.2,156.8M173.3,156.8a0.9,0.9 0 1,0 1.8,0a0.9,0.9 0 1,0 -1.8,0zM174.2,156.8L175.6,144.4M174.7,144.4a0.9,0.9 0 1,0 1.8,0a0.9,0.9 0 1,0 -1.8,0zM228.1,111.5L248.7,100.6M247.8,100.6a0.9,0.9 0 1,0 1.8,0a0.9,0.9 0 1,0 -1.8,0zM248.7,100.6L255.3,79.3M254.4,79.3a0.9,0.9 0 1,0 1.8,0a0.9,0.9 0 1,0 -1.8,0zM255.3,79.3L262.9,62.1M262.0,62.1a0.9,0.9 0 1,0 1.8,0a0.9,0.9 0 1,0 -1.8,0zM262.9,62.1L268.0,49.8M267.1,49.8a0.9,0.9 0 1,0 1.8,0a0.9,0.9 0 1,0 -1.8,0zM268.0,49.8L277.2,38.4M276.3,38.4a0.9,0.9 0 1,0 1.8,0a0.9,0.9 0 1,0 -1.8,0zM277.2,38.4L281.9,24.5M281.0,24.5a0.9,0.9 0 1,0 1.8,0a0.9,0.9 0 1,0 -1.8,0z" fill="#3273e0" stroke="#3273e0" stroke-width="0.75" opacity="0.82" stroke-linejoin="round"/>
<path d="M175.6,144.4L189.0,140.5M188.1,140.5a0.9,0.9 0 1,0 1.8,0a0.9,0.9 0 1,0 -1.8,0zM189.0,140.5L203.0,138.5M202.1,138.5a0.9,0.9 0 1,0 1.8,0a0.9,0.9 0 1,0 -1.8,0zM203.0,138.5L215.8,124.3M214.9,124.3a0.9,0.9 0 1,0 1.8,0a0.9,0.9 0 1,0 -1.8,0zM215.8,124.3L228.1,111.5M227.2,111.5a0.9,0.9 0 1,0 1.8,0a0.9,0.9 0 1,0 -1.8,0z" fill="#d63636" stroke="#d63636" stroke-width="0.75" opacity="0.82" stroke-linejoin="round"/>
<path d="M205.6,223.9L190.1,201.0M189.2,201.0a0.9,0.9 0 1,0 1.8,0a0.9,0.9 0 1,0 -1.8,0zM190.1,201.0L170.2,178.1M169.3,178.1a0.9,0.9 0 1,0 1.8,0a0.9,0.9 0 1,0 -1.8,0z" fill="#1fc652" stroke="#1fc652" stroke-width="0.75" opacity="0.82" stroke-linejoin="round"/>
<path d="M170.2,178.1L158.2,152.0M157.3,152.0a0.9,0.9 0 1,0 1.8,0a0.9,0.9 0 1,0 -1.8,0zM158.2,152.0L173.6,132.1M172.7,132.1a0.9,0.9 0 1,0 1.8,0a0.9,0.9 0 1,0 -1.8,0zM173.6,132.1L183.5,115.5M182.6,115.5a0.9,0.9 0 1,0 1.8,0a0.9,0.9 0 1,0 -1.8,0zM183.5,115.5L204.2,90.1M203.3,90.1a0.9,0.9 0 1,0 1.8,0a0.9,0.9 0 1,0 -1.8,0zM204.2,90.1L216.9,74.3M216.0,74.3a0.9,0.9 0 1,0 1.8,0a0.9,0.9 0 1,0 -1.8,0zM216.9,74.3L230.3,52.4M229.4,52.4a0.9,0.9 0 1,0 1.8,0a0.9,0.9 0 1,0 -1.8,0zM230.3,52.4L236.2,30.2M235.3,30.2a0.9,0.9 0 1,0 1.8,0a0.9,0.9 0 1,0 -1.8,0z" fill="#3273e0" stroke="#3273e0" stroke-width="0.75" opacity="0.82" stroke-linejoin="round"/>
<path d="M208.5,224.1L207.2,210.4M206.3,210.4a0.9,0.9 0 1,0 1.8,0a0.9,0.9 0 1,0 -1.8,0zM207.2,210.4L202.6,204.3M201.7,204.3a0.9,0.9 0 1,0 1.8,0a0.9,0.9 0 1,0 -1.8,0zM202.6,204.3L195.2,189.3M194.3,189.3a0.9,0.9 0 1,0 1.8,0a0.9,0.9 0 1,0 -1.8,0zM195.2,189.3L183.2,186.9M182.3,186.9a0.9,0.9 0 1,0 1.8,0a0.9,0.9 0 1,0 -1.8,0zM183.2,186.9L174.7,169.8M173.8,169.8a0.9,0.9 0 1,0 1.8,0a0.9,0.9 0 1,0 -1.8,0zM174.7,169.8L170.9,157.4M170.0,157.4a0.9,0.9 0 1,0 1.8,0a0.9,0.9 0 1,0 -1.8,0zM262.1,46.0L261.8,28.3M260.9,28.3a0.9,0.9 0 1,0 1.8,0a0.9,0.9 0 1,0 -1.8,0z" fill="#1fc652" stroke="#1fc652" stroke-width="0.75" opacity="0.82" stroke-linejoin="round"/>
<path d="M170.9,157.4L172.2,158.5M171.3,158.5a0.9,0.9 0 1,0 1.8,0a0.9,0.9 0 1,0 -1.8,0zM172.2,158.5L179.8,153.5M178.9,153.5a0.9,0.9 0 1,0 1.8,0a0.9,0.9 0 1,0 -1.8,0zM179.8,153.5L184.3,149.0M183.4,149.0a0.9,0.9 0 1,0 1.8,0a0.9,0.9 0 1,0 -1.8,0zM239.2,84.7L250.6,77.7M249.7,77.7a0.9,0.9 0 1,0 1.8,0a0.9,0.9 0 1,0 -1.8,0zM250.6,77.7L254.8,64.1M253.9,64.1a0.9,0.9 0 1,0 1.8,0a0.9,0.9 0 1,0 -1.8,0zM254.8,64.1L265.2,51.9M264.3,51.9a0.9,0.9 0 1,0 1.8,0a0.9,0.9 0 1,0 -1.8,0zM265.2,51.9L262.1,46.0M261.2,46.0a0.9,0.9 0 1,0 1.8,0a0.9,0.9 0 1,0 -1.8,0z" fill="#3273e0" stroke="#3273e0" stroke-width="0.75" opacity="0.82" stroke-linejoin="round"/>
<path d="M184.3,149.0L195.1,142.2M194.2,142.2a0.9,0.9 0 1,0 1.8,0a0.9,0.9 0 1,0 -1.8,0zM195.1,142.2L203.0,135.0M202.1,135.0a0.9,0.9 0 1,0 1.8,0a0.9,0.9 0 1,0 -1.8,0zM203.0,135.0L210.9,123.5M210.0,123.5a0.9,0.9 0 1,0 1.8,0a0.9,0.9 0 1,0 -1.8,0zM210.9,123.5L223.9,118.1M223.0,118.1a0.9,0.9 0 1,0 1.8,0a0.9,0.9 0 1,0 -1.8,0zM223.9,118.1L234.9,99.9M234.0,99.9a0.9,0.9 0 1,0 1.8,0a0.9,0.9 0 1,0 -1.8,0zM234.9,99.9L239.2,84.7M238.3,84.7a0.9,0.9 0 1,0 1.8,0a0.9,0.9 0 1,0 -1.8,0z" fill="#d63636" stroke="#d63636" stroke-width="0.75" opacity="0.82" stroke-linejoin="round"/>
<path d="M211.3,217.9L211.7,211.2M210.8,211.2a0.9,0.9 0 1,0 1.8,0a0.9,0.9 0 1,0 -1.8,0zM211.7,211.2L197.6,198.5M196.7,198.5a0.9,0.9 0 1,0 1.8,0a0.9,0.9 0 1,0 -1.8,0zM197.6,198.5L192.9,199.9M192.0,199.9a0.9,0.9 0 1,0 1.8,0a0.9,0.9 0 1,0 -1.8,0zM192.9,199.9L189.3,188.6M188.4,188.6a0.9,0.9 0 1,0 1.8,0a0.9,0.9 0 1,0 -1.8,0zM189.3,188.6L182.5,188.9M181.6,188.9a0.9,0.9 0 1,0 1.8,0a0.9,0.9 0 1,0 -1.8,0zM182.5,188.9L178.7,179.8M177.8,179.8a0.9,0.9 0 1,0 1.8,0a0.9,0.9 0 1,0 -1.8,0z" fill="#1fc652" stroke="#1fc652" stroke-width="0.75" opacity="0.82" stroke-linejoin="round"/>
<path d="M178.7,179.8L168.8,168.5M167.9,168.5a0.9,0.9 0 1,0 1.8,0a0.9,0.9 0 1,0 -1.8,0zM168.8,168.5L164.3,161.0M163.4,161.0a0.9,0.9 0 1,0 1.8,0a0.9,0.9 0 1,0 -1.8,0zM164.3,161.0L161.7,154.8M160.8,154.8a0.9,0.9 0 1,0 1.8,0a0.9,0.9 0 1,0 -1.8,0zM161.7,154.8L168.7,146.3M167.8,146.3a0.9,0.9 0 1,0 1.8,0a0.9,0.9 0 1,0 -1.8,0zM168.7,146.3L174.2,139.9M173.3,139.9a0.9,0.9 0 1,0 1.8,0a0.9,0.9 0 1,0 -1.8,0zM215.6,94.4L223.5,87.6M222.6,87.6a0.9,0.9 0 1,0 1.8,0a0.9,0.9 0 1,0 -1.8,0zM223.5,87.6L225.8,73.4M224.9,73.4a0.9,0.9 0 1,0 1.8,0a0.9,0.9 0 1,0 -1.8,0zM225.8,73.4L236.4,68.8M235.5,68.8a0.9,0.9 0 1,0 1.8,0a0.9,0.9 0 1,0 -1.8,0zM236.4,68.8L237.3,62.7M236.4,62.7a0.9,0.9 0 1,0 1.8,0a0.9,0.9 0 1,0 -1.8,0z" fill="#3273e0" stroke="#3273e0" stroke-width="0.75" opacity="0.82" stroke-linejoin="round"/>
<path d="M174.2,139.9L184.8,130.5M183.9,130.5a0.9,0.9 0 1,0 1.8,0a0.9,0.9 0 1,0 -1.8,0zM184.8,130.5L191.7,126.7M190.8,126.7a0.9,0.9 0 1,0 1.8,0a0.9,0.9 0 1,0 -1.8,0zM191.7,126.7L196.5,115.2M195.6,115.2a0.9,0.9 0 1,0 1.8,0a0.9,0.9 0 1,0 -1.8,0zM196.5,115.2L203.6,111.0M202.7,111.0a0.9,0.9 0 1,0 1.8,0a0.9,0.9 0 1,0 -1.8,0zM203.6,111.0L204.7,100.9M203.8,100.9a0.9,0.9 0 1,0 1.8,0a0.9,0.9 0 1,0 -1.8,0zM204.7,100.9L215.6,94.4M214.7,94.4a0.9,0.9 0 1,0 1.8,0a0.9,0.9 0 1,0 -1.8,0z" fill="#d63636" stroke="#d63636" stroke-width="0.75" opacity="0.82" stroke-linejoin="round"/>
<path d="M213.1,214.8L210.1,217.3M209.2,217.3a0.9,0.9 0 1,0 1.8,0a0.9,0.9 0 1,0 -1.8,0zM210.1,217.3L209.2,206.1M208.3,206.1a0.9,0.9 0 1,0 1.8,0a0.9,0.9 0 1,0 -1.8,0zM209.2,206.1L193.7,202.9M192.8,202.9a0.9,0.9 0 1,0 1.8,0a0.9,0.9 0 1,0 -1.8,0zM193.7,202.9L197.6,197.1M196.7,197.1a0.9,0.9 0 1,0 1.8,0a0.9,0.9 0 1,0 -1.8,0zM197.6,197.1L193.0,190.2M192.1,190.2a0.9,0.9 0 1,0 1.8,0a0.9,0.9 0 1,0 -1.8,0zM193.0,190.2L185.0,185.9M184.1,185.9a0.9,0.9 0 1,0 1.8,0a0.9,0.9 0 1,0 -1.8,0zM185.0,185.9L181.1,180.2M180.2,180.2a0.9,0.9 0 1,0 1.8,0a0.9,0.9 0 1,0 -1.8,0z" fill="#1fc652" stroke="#1fc652" stroke-width="0.75" opacity="0.82" stroke-linejoin="round"/>
<path d="M181.1,180.2L179.2,173.0M178.3,173.0a0.9,0.9 0 1,0 1.8,0a0.9,0.9 0 1,0 -1.8,0zM179.2,173.0L174.8,169.4M173.9,169.4a0.9,0.9 0 1,0 1.8,0a0.9,0.9 0 1,0 -1.8,0zM174.8,169.4L174.0,163.9M173.1,163.9a0.9,0.9 0 1,0 1.8,0a0.9,0.9 0 1,0 -1.8,0zM174.0,163.9L167.2,159.2M166.3,159.2a0.9,0.9 0 1,0 1.8,0a0.9,0.9 0 1,0 -1.8,0zM167.2,159.2L167.8,154.0M166.9,154.0a0.9,0.9 0 1,0 1.8,0a0.9,0.9 0 1,0 -1.8,0zM167.8,154.0L172.3,150.8M171.4,150.8a0.9,0.9 0 1,0 1.8,0a0.9,0.9 0 1,0 -1.8,0zM172.3,150.8L174.3,145.9M173.4,145.9a0.9,0.9 0 1,0 1.8,0a0.9,0.9 0 1,0 -1.8,0zM174.3,145.9L177.6,141.1M176.7,141.1a0.9,0.9 0 1,0 1.8,0a0.9,0.9 0 1,0 -1.8,0z" fill="#3273e0" stroke="#3273e0" stroke-width="0.75" opacity="0.82" stroke-linejoin="round"/>
<path d="M177.6,141.1L183.4,135.5M182.5,135.5a0.9,0.9 0 1,0 1.8,0a0.9,0.9 0 1,0 -1.8,0z" fill="#d63636" stroke="#d63636" stroke-width="0.75" opacity="0.82" stroke-linejoin="round"/>
<path d="M205.0,223.4L197.8,213.4M196.9,213.4a0.9,0.9 0 1,0 1.8,0a0.9,0.9 0 1,0 -1.8,0zM197.8,213.4L185.1,200.9M184.2,200.9a0.9,0.9 0 1,0 1.8,0a0.9,0.9 0 1,0 -1.8,0zM185.1,200.9L176.7,184.7M175.8,184.7a0.9,0.9 0 1,0 1.8,0a0.9,0.9 0 1,0 -1.8,0z" fill="#1fc652" stroke="#1fc652" stroke-width="0.75" opacity="0.82" stroke-linejoin="round"/>
<path d="M176.7,184.7L161.8,178.0M160.9,178.0a0.9,0.9 0 1,0 1.8,0a0.9,0.9 0 1,0 -1.8,0zM161.8,178.0L157.8,155.6M156.9,155.6a0.9,0.9 0 1,0 1.8,0a0.9,0.9 0 1,0 -1.8,0zM157.8,155.6L156.7,140.0M155.8,140.0a0.9,0.9 0 1,0 1.8,0a0.9,0.9 0 1,0 -1.8,0zM156.7,140.0L163.4,125.5M162.5,125.5a0.9,0.9 0 1,0 1.8,0a0.9,0.9 0 1,0 -1.8,0zM163.4,125.5L168.5,115.2M167.6,115.2a0.9,0.9 0 1,0 1.8,0a0.9,0.9 0 1,0 -1.8,0zM168.5,115.2L179.8,107.3M178.9,107.3a0.9,0.9 0 1,0 1.8,0a0.9,0.9 0 1,0 -1.8,0zM179.8,107.3L192.0,94.4M191.1,94.4a0.9,0.9 0 1,0 1.8,0a0.9,0.9 0 1,0 -1.8,0zM192.0,94.4L207.5,81.2M206.6,81.2a0.9,0.9 0 1,0 1.8,0a0.9,0.9 0 1,0 -1.8,0zM207.5,81.2L213.3,69.3M212.4,69.3a0.9,0.9 0 1,0 1.8,0a0.9,0.9 0 1,0 -1.8,0zM213.3,69.3L216.6,55.9M215.7,55.9a0.9,0.9 0 1,0 1.8,0a0.9,0.9 0 1,0 -1.8,0zM216.6,55.9L222.1,47.5M221.2,47.5a0.9,0.9 0 1,0 1.8,0a0.9,0.9 0 1,0 -1.8,0z" fill="#3273e0" stroke="#3273e0" stroke-width="0.75" opacity="0.82" stroke-linejoin="round"/>
<path d="M206.9,221.0L198.5,213.4M197.6,213.4a0.9,0.9 0 1,0 1.8,0a0.9,0.9 0 1,0 -1.8,0zM198.5,213.4L187.3,203.2M186.4,203.2a0.9,0.9 0 1,0 1.8,0a0.9,0.9 0 1,0 -1.8,0zM187.3,203.2L178.4,190.6M177.5,190.6a0.9,0.9 0 1,0 1.8,0a0.9,0.9 0 1,0 -1.8,0zM178.4,190.6L166.0,180.5M165.1,180.5a0.9,0.9 0 1,0 1.8,0a0.9,0.9 0 1,0 -1.8,0zM221.0,48.2L222.0,31.0M221.1,31.0a0.9,0.9 0 1,0 1.8,0a0.9,0.9 0 1,0 -1.8,0z" fill="#1fc652" stroke="#1fc652" stroke-width="0.75" opacity="0.82" stroke-linejoin="round"/>
<path d="M166.0,180.5L158.9,164.7M158.0,164.7a0.9,0.9 0 1,0 1.8,0a0.9,0.9 0 1,0 -1.8,0zM158.9,164.7L160.1,148.7M159.2,148.7a0.9,0.9 0 1,0 1.8,0a0.9,0.9 0 1,0 -1.8,0zM160.1,148.7L164.7,136.7M163.8,136.7a0.9,0.9 0 1,0 1.8,0a0.9,0.9 0 1,0 -1.8,0zM164.7,136.7L175.4,124.2M174.5,124.2a0.9,0.9 0 1,0 1.8,0a0.9,0.9 0 1,0 -1.8,0zM175.4,124.2L185.7,107.0M184.8,107.0a0.9,0.9 0 1,0 1.8,0a0.9,0.9 0 1,0 -1.8,0zM185.7,107.0L198.5,98.6M197.6,98.6a0.9,0.9 0 1,0 1.8,0a0.9,0.9 0 1,0 -1.8,0zM198.5,98.6L207.5,81.8M206.6,81.8a0.9,0.9 0 1,0 1.8,0a0.9,0.9 0 1,0 -1.8,0zM207.5,81.8L217.8,69.5M216.9,69.5a0.9,0.9 0 1,0 1.8,0a0.9,0.9 0 1,0 -1.8,0zM217.8,69.5L215.2,50.9M214.3,50.9a0.9,0.9 0 1,0 1.8,0a0.9,0.9 0 1,0 -1.8,0zM215.2,50.9L221.0,48.2M220.1,48.2a0.9,0.9 0 1,0 1.8,0a0.9,0.9 0 1,0 -1.8,0zM222.0,31.0L229.3,20.9M228.4,20.9a0.9,0.9 0 1,0 1.8,0a0.9,0.9 0 1,0 -1.8,0z" fill="#3273e0" stroke="#3273e0" stroke-width="0.75" opacity="0.82" stroke-linejoin="round"/>
<path d="M212.6,210.7L207.8,203.5M206.9,203.5a0.9,0.9 0 1,0 1.8,0a0.9,0.9 0 1,0 -1.8,0zM207.8,203.5L201.6,193.0M200.7,193.0a0.9,0.9 0 1,0 1.8,0a0.9,0.9 0 1,0 -1.8,0zM201.6,193.0L190.2,181.0M189.3,181.0a0.9,0.9 0 1,0 1.8,0a0.9,0.9 0 1,0 -1.8,0zM272.0,57.8L280.4,43.5M279.5,43.5a0.9,0.9 0 1,0 1.8,0a0.9,0.9 0 1,0 -1.8,0zM280.4,43.5L285.6,30.1M284.7,30.1a0.9,0.9 0 1,0 1.8,0a0.9,0.9 0 1,0 -1.8,0z" fill="#1fc652" stroke="#1fc652" stroke-width="0.75" opacity="0.82" stroke-linejoin="round"/>
<path d="M190.2,181.0L183.9,167.6M183.0,167.6a0.9,0.9 0 1,0 1.8,0a0.9,0.9 0 1,0 -1.8,0zM183.9,167.6L183.9,167.5M183.0,167.5a0.9,0.9 0 1,0 1.8,0a0.9,0.9 0 1,0 -1.8,0zM183.9,167.5L175.3,156.6M174.4,156.6a0.9,0.9 0 1,0 1.8,0a0.9,0.9 0 1,0 -1.8,0zM175.3,156.6L178.5,150.3M177.6,150.3a0.9,0.9 0 1,0 1.8,0a0.9,0.9 0 1,0 -1.8,0zM252.6,78.4L262.7,67.6M261.8,67.6a0.9,0.9 0 1,0 1.8,0a0.9,0.9 0 1,0 -1.8,0zM262.7,67.6L272.0,57.8M271.1,57.8a0.9,0.9 0 1,0 1.8,0a0.9,0.9 0 1,0 -1.8,0z" fill="#3273e0" stroke="#3273e0" stroke-width="0.75" opacity="0.82" stroke-linejoin="round"/>
<path d="M178.5,150.3L181.5,146.0M180.6,146.0a0.9,0.9 0 1,0 1.8,0a0.9,0.9 0 1,0 -1.8,0zM181.5,146.0L193.6,137.6M192.7,137.6a0.9,0.9 0 1,0 1.8,0a0.9,0.9 0 1,0 -1.8,0zM193.6,137.6L208.7,127.8M207.8,127.8a0.9,0.9 0 1,0 1.8,0a0.9,0.9 0 1,0 -1.8,0zM208.7,127.8L219.5,113.6M218.6,113.6a0.9,0.9 0 1,0 1.8,0a0.9,0.9 0 1,0 -1.8,0zM219.5,113.6L232.0,103.2M231.1,103.2a0.9,0.9 0 1,0 1.8,0a0.9,0.9 0 1,0 -1.8,0zM232.0,103.2L242.5,90.9M241.6,90.9a0.9,0.9 0 1,0 1.8,0a0.9,0.9 0 1,0 -1.8,0zM242.5,90.9L252.6,78.4M251.7,78.4a0.9,0.9 0 1,0 1.8,0a0.9,0.9 0 1,0 -1.8,0z" fill="#d63636" stroke="#d63636" stroke-width="0.75" opacity="0.82" stroke-linejoin="round"/>
<path d="M206.5,220.0L212.7,216.1M211.8,216.1a0.9,0.9 0 1,0 1.8,0a0.9,0.9 0 1,0 -1.8,0zM212.7,216.1L203.2,205.6M202.3,205.6a0.9,0.9 0 1,0 1.8,0a0.9,0.9 0 1,0 -1.8,0zM203.2,205.6L194.3,193.7M193.4,193.7a0.9,0.9 0 1,0 1.8,0a0.9,0.9 0 1,0 -1.8,0zM194.3,193.7L192.6,190.1M191.7,190.1a0.9,0.9 0 1,0 1.8,0a0.9,0.9 0 1,0 -1.8,0zM192.6,190.1L181.5,177.5M180.6,177.5a0.9,0.9 0 1,0 1.8,0a0.9,0.9 0 1,0 -1.8,0zM181.5,177.5L176.5,171.6M175.6,171.6a0.9,0.9 0 1,0 1.8,0a0.9,0.9 0 1,0 -1.8,0z" fill="#1fc652" stroke="#1fc652" stroke-width="0.75" opacity="0.82" stroke-linejoin="round"/>
<path d="M176.5,171.6L168.9,159.7M168.0,159.7a0.9,0.9 0 1,0 1.8,0a0.9,0.9 0 1,0 -1.8,0zM168.9,159.7L172.5,154.4M171.6,154.4a0.9,0.9 0 1,0 1.8,0a0.9,0.9 0 1,0 -1.8,0zM172.5,154.4L170.4,147.0M169.5,147.0a0.9,0.9 0 1,0 1.8,0a0.9,0.9 0 1,0 -1.8,0zM170.4,147.0L177.2,137.9M176.3,137.9a0.9,0.9 0 1,0 1.8,0a0.9,0.9 0 1,0 -1.8,0z" fill="#3273e0" stroke="#3273e0" stroke-width="0.75" opacity="0.82" stroke-linejoin="round"/>
<path d="M177.2,137.9L188.9,130.4M188.0,130.4a0.9,0.9 0 1,0 1.8,0a0.9,0.9 0 1,0 -1.8,0zM188.9,130.4L204.8,125.5M203.9,125.5a0.9,0.9 0 1,0 1.8,0a0.9,0.9 0 1,0 -1.8,0zM204.8,125.5L210.6,121.0M209.7,121.0a0.9,0.9 0 1,0 1.8,0a0.9,0.9 0 1,0 -1.8,0zM210.6,121.0L221.8,105.8M220.9,105.8a0.9,0.9 0 1,0 1.8,0a0.9,0.9 0 1,0 -1.8,0zM221.8,105.8L228.2,100.5M227.3,100.5a0.9,0.9 0 1,0 1.8,0a0.9,0.9 0 1,0 -1.8,0zM228.2,100.5L242.4,91.7M241.5,91.7a0.9,0.9 0 1,0 1.8,0a0.9,0.9 0 1,0 -1.8,0z" fill="#d63636" stroke="#d63636" stroke-width="0.75" opacity="0.82" stroke-linejoin="round"/>
<path d="M206.1,218.2L204.8,206.4M203.9,206.4a0.9,0.9 0 1,0 1.8,0a0.9,0.9 0 1,0 -1.8,0zM204.8,206.4L190.9,190.1M190.0,190.1a0.9,0.9 0 1,0 1.8,0a0.9,0.9 0 1,0 -1.8,0zM190.9,190.1L189.9,184.0M189.0,184.0a0.9,0.9 0 1,0 1.8,0a0.9,0.9 0 1,0 -1.8,0zM265.5,45.2L269.3,35.8M268.4,35.8a0.9,0.9 0 1,0 1.8,0a0.9,0.9 0 1,0 -1.8,0z" fill="#1fc652" stroke="#1fc652" stroke-width="0.75" opacity="0.82" stroke-linejoin="round"/>
<path d="M189.9,184.0L180.4,175.0M179.5,175.0a0.9,0.9 0 1,0 1.8,0a0.9,0.9 0 1,0 -1.8,0zM180.4,175.0L172.5,159.7M171.6,159.7a0.9,0.9 0 1,0 1.8,0a0.9,0.9 0 1,0 -1.8,0zM172.5,159.7L173.5,153.3M172.6,153.3a0.9,0.9 0 1,0 1.8,0a0.9,0.9 0 1,0 -1.8,0zM236.7,81.7L250.9,74.3M250.0,74.3a0.9,0.9 0 1,0 1.8,0a0.9,0.9 0 1,0 -1.8,0zM250.9,74.3L265.5,59.0M264.6,59.0a0.9,0.9 0 1,0 1.8,0a0.9,0.9 0 1,0 -1.8,0zM265.5,59.0L265.5,45.2M264.6,45.2a0.9,0.9 0 1,0 1.8,0a0.9,0.9 0 1,0 -1.8,0zM269.3,35.8L274.7,21.0M273.8,21.0a0.9,0.9 0 1,0 1.8,0a0.9,0.9 0 1,0 -1.8,0z" fill="#3273e0" stroke="#3273e0" stroke-width="0.75" opacity="0.82" stroke-linejoin="round"/>
<path d="M173.5,153.3L181.9,142.7M181.0,142.7a0.9,0.9 0 1,0 1.8,0a0.9,0.9 0 1,0 -1.8,0zM181.9,142.7L186.2,132.9M185.3,132.9a0.9,0.9 0 1,0 1.8,0a0.9,0.9 0 1,0 -1.8,0zM186.2,132.9L197.2,124.7M196.3,124.7a0.9,0.9 0 1,0 1.8,0a0.9,0.9 0 1,0 -1.8,0zM197.2,124.7L208.3,116.8M207.4,116.8a0.9,0.9 0 1,0 1.8,0a0.9,0.9 0 1,0 -1.8,0zM208.3,116.8L218.2,106.3M217.3,106.3a0.9,0.9 0 1,0 1.8,0a0.9,0.9 0 1,0 -1.8,0zM218.2,106.3L227.7,98.1M226.8,98.1a0.9,0.9 0 1,0 1.8,0a0.9,0.9 0 1,0 -1.8,0zM227.7,98.1L236.7,81.7M235.8,81.7a0.9,0.9 0 1,0 1.8,0a0.9,0.9 0 1,0 -1.8,0z" fill="#d63636" stroke="#d63636" stroke-width="0.75" opacity="0.82" stroke-linejoin="round"/>
<path d="M209.1,223.5L192.2,201.7M191.3,201.7a0.9,0.9 0 1,0 1.8,0a0.9,0.9 0 1,0 -1.8,0zM192.2,201.7L184.9,196.9M184.0,196.9a0.9,0.9 0 1,0 1.8,0a0.9,0.9 0 1,0 -1.8,0zM184.9,196.9L176.1,197.2M175.2,197.2a0.9,0.9 0 1,0 1.8,0a0.9,0.9 0 1,0 -1.8,0zM176.1,197.2L166.7,183.4M165.8,183.4a0.9,0.9 0 1,0 1.8,0a0.9,0.9 0 1,0 -1.8,0z" fill="#1fc652" stroke="#1fc652" stroke-width="0.75" opacity="0.82" stroke-linejoin="round"/>
<path d="M166.7,183.4L159.6,178.3M158.7,178.3a0.9,0.9 0 1,0 1.8,0a0.9,0.9 0 1,0 -1.8,0zM159.6,178.3L148.2,157.3M147.3,157.3a0.9,0.9 0 1,0 1.8,0a0.9,0.9 0 1,0 -1.8,0zM148.2,157.3L151.5,143.8M150.6,143.8a0.9,0.9 0 1,0 1.8,0a0.9,0.9 0 1,0 -1.8,0zM151.5,143.8L165.3,123.1M164.4,123.1a0.9,0.9 0 1,0 1.8,0a0.9,0.9 0 1,0 -1.8,0zM165.3,123.1L170.6,114.0M169.7,114.0a0.9,0.9 0 1,0 1.8,0a0.9,0.9 0 1,0 -1.8,0zM170.6,114.0L182.3,97.2M181.4,97.2a0.9,0.9 0 1,0 1.8,0a0.9,0.9 0 1,0 -1.8,0zM182.3,97.2L188.7,88.3M187.8,88.3a0.9,0.9 0 1,0 1.8,0a0.9,0.9 0 1,0 -1.8,0zM188.7,88.3L200.1,76.5M199.2,76.5a0.9,0.9 0 1,0 1.8,0a0.9,0.9 0 1,0 -1.8,0zM200.1,76.5L208.7,70.1M207.8,70.1a0.9,0.9 0 1,0 1.8,0a0.9,0.9 0 1,0 -1.8,0zM208.7,70.1L215.1,57.4M214.2,57.4a0.9,0.9 0 1,0 1.8,0a0.9,0.9 0 1,0 -1.8,0zM215.1,57.4L225.3,58.2M224.4,58.2a0.9,0.9 0 1,0 1.8,0a0.9,0.9 0 1,0 -1.8,0zM225.3,58.2L229.8,43.5M228.9,43.5a0.9,0.9 0 1,0 1.8,0a0.9,0.9 0 1,0 -1.8,0zM229.8,43.5L230.0,32.1M229.1,32.1a0.9,0.9 0 1,0 1.8,0a0.9,0.9 0 1,0 -1.8,0zM230.0,32.1L235.8,21.7M234.9,21.7a0.9,0.9 0 1,0 1.8,0a0.9,0.9 0 1,0 -1.8,0z" fill="#3273e0" stroke="#3273e0" stroke-width="0.75" opacity="0.82" stroke-linejoin="round"/>
<path d="M211.7,224.3L204.6,210.4M203.7,210.4a0.9,0.9 0 1,0 1.8,0a0.9,0.9 0 1,0 -1.8,0zM204.6,210.4L197.4,206.3M196.5,206.3a0.9,0.9 0 1,0 1.8,0a0.9,0.9 0 1,0 -1.8,0zM197.4,206.3L185.5,190.3M184.6,190.3a0.9,0.9 0 1,0 1.8,0a0.9,0.9 0 1,0 -1.8,0z" fill="#1fc652" stroke="#1fc652" stroke-width="0.75" opacity="0.82" stroke-linejoin="round"/>
<path d="M185.5,190.3L178.1,185.7M177.2,185.7a0.9,0.9 0 1,0 1.8,0a0.9,0.9 0 1,0 -1.8,0zM178.1,185.7L168.6,178.1M167.7,178.1a0.9,0.9 0 1,0 1.8,0a0.9,0.9 0 1,0 -1.8,0zM168.6,178.1L161.0,164.1M160.1,164.1a0.9,0.9 0 1,0 1.8,0a0.9,0.9 0 1,0 -1.8,0zM161.0,164.1L157.0,152.6M156.1,152.6a0.9,0.9 0 1,0 1.8,0a0.9,0.9 0 1,0 -1.8,0zM207.3,105.5L217.3,93.5M216.4,93.5a0.9,0.9 0 1,0 1.8,0a0.9,0.9 0 1,0 -1.8,0zM217.3,93.5L229.0,80.0M228.1,80.0a0.9,0.9 0 1,0 1.8,0a0.9,0.9 0 1,0 -1.8,0zM229.0,80.0L239.3,73.9M238.4,73.9a0.9,0.9 0 1,0 1.8,0a0.9,0.9 0 1,0 -1.8,0zM239.3,73.9L241.6,61.8M240.7,61.8a0.9,0.9 0 1,0 1.8,0a0.9,0.9 0 1,0 -1.8,0zM241.6,61.8L238.5,49.3M237.6,49.3a0.9,0.9 0 1,0 1.8,0a0.9,0.9 0 1,0 -1.8,0zM238.5,49.3L250.9,37.3M250.0,37.3a0.9,0.9 0 1,0 1.8,0a0.9,0.9 0 1,0 -1.8,0z" fill="#3273e0" stroke="#3273e0" stroke-width="0.75" opacity="0.82" stroke-linejoin="round"/>
<path d="M157.0,152.6L170.2,133.6M169.3,133.6a0.9,0.9 0 1,0 1.8,0a0.9,0.9 0 1,0 -1.8,0zM170.2,133.6L177.2,135.2M176.3,135.2a0.9,0.9 0 1,0 1.8,0a0.9,0.9 0 1,0 -1.8,0zM177.2,135.2L182.5,121.7M181.6,121.7a0.9,0.9 0 1,0 1.8,0a0.9,0.9 0 1,0 -1.8,0zM182.5,121.7L194.2,110.2M193.3,110.2a0.9,0.9 0 1,0 1.8,0a0.9,0.9 0 1,0 -1.8,0zM194.2,110.2L207.3,105.5M206.4,105.5a0.9,0.9 0 1,0 1.8,0a0.9,0.9 0 1,0 -1.8,0z" fill="#d63636" stroke="#d63636" stroke-width="0.75" opacity="0.82" stroke-linejoin="round"/>
<path d="M212.9,220.6L203.4,204.7M202.5,204.7a0.9,0.9 0 1,0 1.8,0a0.9,0.9 0 1,0 -1.8,0zM203.4,204.7L188.4,194.5M187.5,194.5a0.9,0.9 0 1,0 1.8,0a0.9,0.9 0 1,0 -1.8,0zM249.1,62.6L254.4,51.0M253.5,51.0a0.9,0.9 0 1,0 1.8,0a0.9,0.9 0 1,0 -1.8,0z" fill="#1fc652" stroke="#1fc652" stroke-width="0.75" opacity="0.82" stroke-linejoin="round"/>
<path d="M188.4,194.5L182.9,185.1M182.0,185.1a0.9,0.9 0 1,0 1.8,0a0.9,0.9 0 1,0 -1.8,0zM182.9,185.1L175.3,168.4M174.4,168.4a0.9,0.9 0 1,0 1.8,0a0.9,0.9 0 1,0 -1.8,0zM175.3,168.4L172.0,161.7M171.1,161.7a0.9,0.9 0 1,0 1.8,0a0.9,0.9 0 1,0 -1.8,0zM172.0,161.7L166.4,151.5M165.5,151.5a0.9,0.9 0 1,0 1.8,0a0.9,0.9 0 1,0 -1.8,0zM238.4,86.1L244.0,73.9M243.1,73.9a0.9,0.9 0 1,0 1.8,0a0.9,0.9 0 1,0 -1.8,0zM244.0,73.9L249.1,62.6M248.2,62.6a0.9,0.9 0 1,0 1.8,0a0.9,0.9 0 1,0 -1.8,0zM254.4,51.0L259.0,39.1M258.1,39.1a0.9,0.9 0 1,0 1.8,0a0.9,0.9 0 1,0 -1.8,0z" fill="#3273e0" stroke="#3273e0" stroke-width="0.75" opacity="0.82" stroke-linejoin="round"/>
<path d="M166.4,151.5L172.0,142.3M171.1,142.3a0.9,0.9 0 1,0 1.8,0a0.9,0.9 0 1,0 -1.8,0zM172.0,142.3L181.3,137.9M180.4,137.9a0.9,0.9 0 1,0 1.8,0a0.9,0.9 0 1,0 -1.8,0zM181.3,137.9L186.6,131.5M185.7,131.5a0.9,0.9 0 1,0 1.8,0a0.9,0.9 0 1,0 -1.8,0zM186.6,131.5L200.0,121.1M199.1,121.1a0.9,0.9 0 1,0 1.8,0a0.9,0.9 0 1,0 -1.8,0zM200.0,121.1L212.5,110.2M211.6,110.2a0.9,0.9 0 1,0 1.8,0a0.9,0.9 0 1,0 -1.8,0zM212.5,110.2L225.5,99.3M224.6,99.3a0.9,0.9 0 1,0 1.8,0a0.9,0.9 0 1,0 -1.8,0zM225.5,99.3L238.4,86.1M237.5,86.1a0.9,0.9 0 1,0 1.8,0a0.9,0.9 0 1,0 -1.8,0z" fill="#d63636" stroke="#d63636" stroke-width="0.75" opacity="0.82" stroke-linejoin="round"/>
<path d="M211.3,215.4L205.0,202.7M204.1,202.7a0.9,0.9 0 1,0 1.8,0a0.9,0.9 0 1,0 -1.8,0zM205.0,202.7L197.1,197.0M196.2,197.0a0.9,0.9 0 1,0 1.8,0a0.9,0.9 0 1,0 -1.8,0zM197.1,197.0L185.5,188.0M184.6,188.0a0.9,0.9 0 1,0 1.8,0a0.9,0.9 0 1,0 -1.8,0zM185.5,188.0L187.0,174.6M186.1,174.6a0.9,0.9 0 1,0 1.8,0a0.9,0.9 0 1,0 -1.8,0zM187.0,174.6L177.5,163.4M176.6,163.4a0.9,0.9 0 1,0 1.8,0a0.9,0.9 0 1,0 -1.8,0z" fill="#1fc652" stroke="#1fc652" stroke-width="0.75" opacity="0.82" stroke-linejoin="round"/>
<path d="M177.5,163.4L172.0,155.3M171.1,155.3a0.9,0.9 0 1,0 1.8,0a0.9,0.9 0 1,0 -1.8,0zM172.0,155.3L173.1,143.5M172.2,143.5a0.9,0.9 0 1,0 1.8,0a0.9,0.9 0 1,0 -1.8,0zM173.1,143.5L180.7,137.9M179.8,137.9a0.9,0.9 0 1,0 1.8,0a0.9,0.9 0 1,0 -1.8,0zM236.6,85.5L246.9,72.3M246.0,72.3a0.9,0.9 0 1,0 1.8,0a0.9,0.9 0 1,0 -1.8,0zM246.9,72.3L254.5,64.1M253.6,64.1a0.9,0.9 0 1,0 1.8,0a0.9,0.9 0 1,0 -1.8,0z" fill="#3273e0" stroke="#3273e0" stroke-width="0.75" opacity="0.82" stroke-linejoin="round"/>
<path d="M180.7,137.9L194.5,124.4M193.6,124.4a0.9,0.9 0 1,0 1.8,0a0.9,0.9 0 1,0 -1.8,0zM194.5,124.4L203.6,115.9M202.7,115.9a0.9,0.9 0 1,0 1.8,0a0.9,0.9 0 1,0 -1.8,0zM203.6,115.9L214.9,106.2M214.0,106.2a0.9,0.9 0 1,0 1.8,0a0.9,0.9 0 1,0 -1.8,0zM214.9,106.2L227.0,98.2M226.1,98.2a0.9,0.9 0 1,0 1.8,0a0.9,0.9 0 1,0 -1.8,0zM227.0,98.2L236.6,85.5M235.7,85.5a0.9,0.9 0 1,0 1.8,0a0.9,0.9 0 1,0 -1.8,0z" fill="#d63636" stroke="#d63636" stroke-width="0.75" opacity="0.82" stroke-linejoin="round"/>
<path d="M205.0,216.2L199.4,212.9M198.5,212.9a0.9,0.9 0 1,0 1.8,0a0.9,0.9 0 1,0 -1.8,0zM199.4,212.9L189.9,200.1M189.0,200.1a0.9,0.9 0 1,0 1.8,0a0.9,0.9 0 1,0 -1.8,0zM189.9,200.1L188.8,201.1M187.9,201.1a0.9,0.9 0 1,0 1.8,0a0.9,0.9 0 1,0 -1.8,0zM188.8,201.1L174.9,186.3M174.0,186.3a0.9,0.9 0 1,0 1.8,0a0.9,0.9 0 1,0 -1.8,0zM174.9,186.3L169.1,174.2M168.2,174.2a0.9,0.9 0 1,0 1.8,0a0.9,0.9 0 1,0 -1.8,0z" fill="#1fc652" stroke="#1fc652" stroke-width="0.75" opacity="0.82" stroke-linejoin="round"/>
<path d="M169.1,174.2L164.0,167.7M163.1,167.7a0.9,0.9 0 1,0 1.8,0a0.9,0.9 0 1,0 -1.8,0zM164.0,167.7L162.7,156.1M161.8,156.1a0.9,0.9 0 1,0 1.8,0a0.9,0.9 0 1,0 -1.8,0zM162.7,156.1L169.5,143.9M168.6,143.9a0.9,0.9 0 1,0 1.8,0a0.9,0.9 0 1,0 -1.8,0zM169.5,143.9L176.8,134.3M175.9,134.3a0.9,0.9 0 1,0 1.8,0a0.9,0.9 0 1,0 -1.8,0zM176.8,134.3L189.8,129.1M188.9,129.1a0.9,0.9 0 1,0 1.8,0a0.9,0.9 0 1,0 -1.8,0zM189.8,129.1L197.1,116.7M196.2,116.7a0.9,0.9 0 1,0 1.8,0a0.9,0.9 0 1,0 -1.8,0zM197.1,116.7L207.8,105.8M206.9,105.8a0.9,0.9 0 1,0 1.8,0a0.9,0.9 0 1,0 -1.8,0zM207.8,105.8L218.2,92.2M217.3,92.2a0.9,0.9 0 1,0 1.8,0a0.9,0.9 0 1,0 -1.8,0zM218.2,92.2L225.2,80.2M224.3,80.2a0.9,0.9 0 1,0 1.8,0a0.9,0.9 0 1,0 -1.8,0zM225.2,80.2L230.7,72.4M229.8,72.4a0.9,0.9 0 1,0 1.8,0a0.9,0.9 0 1,0 -1.8,0zM230.7,72.4L238.5,61.3M237.6,61.3a0.9,0.9 0 1,0 1.8,0a0.9,0.9 0 1,0 -1.8,0zM238.5,61.3L242.9,48.9M242.0,48.9a0.9,0.9 0 1,0 1.8,0a0.9,0.9 0 1,0 -1.8,0zM242.9,48.9L249.1,38.2M248.2,38.2a0.9,0.9 0 1,0 1.8,0a0.9,0.9 0 1,0 -1.8,0zM249.1,38.2L253.8,27.0M252.9,27.0a0.9,0.9 0 1,0 1.8,0a0.9,0.9 0 1,0 -1.8,0z" fill="#3273e0" stroke="#3273e0" stroke-width="0.75" opacity="0.82" stroke-linejoin="round"/>
<path d="M210.9,218.5L205.8,207.9M204.9,207.9a0.9,0.9 0 1,0 1.8,0a0.9,0.9 0 1,0 -1.8,0zM205.8,207.9L195.9,197.7M195.0,197.7a0.9,0.9 0 1,0 1.8,0a0.9,0.9 0 1,0 -1.8,0zM195.9,197.7L189.6,189.7M188.7,189.7a0.9,0.9 0 1,0 1.8,0a0.9,0.9 0 1,0 -1.8,0z" fill="#1fc652" stroke="#1fc652" stroke-width="0.75" opacity="0.82" stroke-linejoin="round"/>
<path d="M189.6,189.7L174.0,177.3M173.1,177.3a0.9,0.9 0 1,0 1.8,0a0.9,0.9 0 1,0 -1.8,0zM174.0,177.3L174.1,167.5M173.2,167.5a0.9,0.9 0 1,0 1.8,0a0.9,0.9 0 1,0 -1.8,0zM174.1,167.5L171.9,155.3M171.0,155.3a0.9,0.9 0 1,0 1.8,0a0.9,0.9 0 1,0 -1.8,0zM171.9,155.3L177.3,148.7M176.4,148.7a0.9,0.9 0 1,0 1.8,0a0.9,0.9 0 1,0 -1.8,0zM226.0,101.8L235.7,88.3M234.8,88.3a0.9,0.9 0 1,0 1.8,0a0.9,0.9 0 1,0 -1.8,0zM235.7,88.3L247.2,72.0M246.3,72.0a0.9,0.9 0 1,0 1.8,0a0.9,0.9 0 1,0 -1.8,0zM247.2,72.0L255.3,62.3M254.4,62.3a0.9,0.9 0 1,0 1.8,0a0.9,0.9 0 1,0 -1.8,0zM255.3,62.3L264.7,50.5M263.8,50.5a0.9,0.9 0 1,0 1.8,0a0.9,0.9 0 1,0 -1.8,0z" fill="#3273e0" stroke="#3273e0" stroke-width="0.75" opacity="0.82" stroke-linejoin="round"/>
<path d="M177.3,148.7L187.4,135.8M186.5,135.8a0.9,0.9 0 1,0 1.8,0a0.9,0.9 0 1,0 -1.8,0zM187.4,135.8L199.6,126.1M198.7,126.1a0.9,0.9 0 1,0 1.8,0a0.9,0.9 0 1,0 -1.8,0zM199.6,126.1L212.7,116.2M211.8,116.2a0.9,0.9 0 1,0 1.8,0a0.9,0.9 0 1,0 -1.8,0zM212.7,116.2L226.0,101.8M225.1,101.8a0.9,0.9 0 1,0 1.8,0a0.9,0.9 0 1,0 -1.8,0z" fill="#d63636" stroke="#d63636" stroke-width="0.75" opacity="0.82" stroke-linejoin="round"/>
<path d="M212.7,218.5L206.6,208.9M205.7,208.9a0.9,0.9 0 1,0 1.8,0a0.9,0.9 0 1,0 -1.8,0zM206.6,208.9L194.9,203.0M194.0,203.0a0.9,0.9 0 1,0 1.8,0a0.9,0.9 0 1,0 -1.8,0zM194.9,203.0L195.4,194.6M194.5,194.6a0.9,0.9 0 1,0 1.8,0a0.9,0.9 0 1,0 -1.8,0zM195.4,194.6L180.3,180.9M179.4,180.9a0.9,0.9 0 1,0 1.8,0a0.9,0.9 0 1,0 -1.8,0zM180.3,180.9L169.5,176.5M168.6,176.5a0.9,0.9 0 1,0 1.8,0a0.9,0.9 0 1,0 -1.8,0z" fill="#1fc652" stroke="#1fc652" stroke-width="0.75" opacity="0.82" stroke-linejoin="round"/>
<path d="M169.5,176.5L167.0,165.1M166.1,165.1a0.9,0.9 0 1,0 1.8,0a0.9,0.9 0 1,0 -1.8,0zM167.0,165.1L163.5,158.8M162.6,158.8a0.9,0.9 0 1,0 1.8,0a0.9,0.9 0 1,0 -1.8,0zM163.5,158.8L165.2,146.5M164.3,146.5a0.9,0.9 0 1,0 1.8,0a0.9,0.9 0 1,0 -1.8,0zM165.2,146.5L166.4,139.4M165.5,139.4a0.9,0.9 0 1,0 1.8,0a0.9,0.9 0 1,0 -1.8,0zM166.4,139.4L174.6,128.3M173.7,128.3a0.9,0.9 0 1,0 1.8,0a0.9,0.9 0 1,0 -1.8,0zM174.6,128.3L185.1,118.8M184.2,118.8a0.9,0.9 0 1,0 1.8,0a0.9,0.9 0 1,0 -1.8,0zM185.1,118.8L194.9,111.8M194.0,111.8a0.9,0.9 0 1,0 1.8,0a0.9,0.9 0 1,0 -1.8,0zM194.9,111.8L203.7,101.3M202.8,101.3a0.9,0.9 0 1,0 1.8,0a0.9,0.9 0 1,0 -1.8,0zM203.7,101.3L213.7,92.1M212.8,92.1a0.9,0.9 0 1,0 1.8,0a0.9,0.9 0 1,0 -1.8,0zM213.7,92.1L222.4,78.8M221.5,78.8a0.9,0.9 0 1,0 1.8,0a0.9,0.9 0 1,0 -1.8,0z" fill="#3273e0" stroke="#3273e0" stroke-width="0.75" opacity="0.82" stroke-linejoin="round"/>
<path d="M207.9,214.0L194.9,206.5M194.0,206.5a0.9,0.9 0 1,0 1.8,0a0.9,0.9 0 1,0 -1.8,0zM194.9,206.5L188.2,185.0M187.3,185.0a0.9,0.9 0 1,0 1.8,0a0.9,0.9 0 1,0 -1.8,0z" fill="#1fc652" stroke="#1fc652" stroke-width="0.75" opacity="0.82" stroke-linejoin="round"/>
<path d="M188.2,185.0L172.2,170.1M171.3,170.1a0.9,0.9 0 1,0 1.8,0a0.9,0.9 0 1,0 -1.8,0zM172.2,170.1L162.9,153.9M162.0,153.9a0.9,0.9 0 1,0 1.8,0a0.9,0.9 0 1,0 -1.8,0zM162.9,153.9L173.1,128.9M172.2,128.9a0.9,0.9 0 1,0 1.8,0a0.9,0.9 0 1,0 -1.8,0zM173.1,128.9L186.8,113.0M185.9,113.0a0.9,0.9 0 1,0 1.8,0a0.9,0.9 0 1,0 -1.8,0zM186.8,113.0L200.2,99.0M199.3,99.0a0.9,0.9 0 1,0 1.8,0a0.9,0.9 0 1,0 -1.8,0zM200.2,99.0L219.5,85.8M218.6,85.8a0.9,0.9 0 1,0 1.8,0a0.9,0.9 0 1,0 -1.8,0zM219.5,85.8L234.3,74.1M233.4,74.1a0.9,0.9 0 1,0 1.8,0a0.9,0.9 0 1,0 -1.8,0zM234.3,74.1L240.3,51.4M239.4,51.4a0.9,0.9 0 1,0 1.8,0a0.9,0.9 0 1,0 -1.8,0zM240.3,51.4L242.2,38.8M241.3,38.8a0.9,0.9 0 1,0 1.8,0a0.9,0.9 0 1,0 -1.8,0zM242.2,38.8L252.1,18.3M251.2,18.3a0.9,0.9 0 1,0 1.8,0a0.9,0.9 0 1,0 -1.8,0z" fill="#3273e0" stroke="#3273e0" stroke-width="0.75" opacity="0.82" stroke-linejoin="round"/>
<path d="M216.5,210.5L203.9,198.8M203.0,198.8a0.9,0.9 0 1,0 1.8,0a0.9,0.9 0 1,0 -1.8,0zM203.9,198.8L190.9,169.7M190.0,169.7a0.9,0.9 0 1,0 1.8,0a0.9,0.9 0 1,0 -1.8,0zM286.2,74.3L305.4,38.4M304.5,38.4a0.9,0.9 0 1,0 1.8,0a0.9,0.9 0 1,0 -1.8,0z" fill="#1fc652" stroke="#1fc652" stroke-width="0.75" opacity="0.82" stroke-linejoin="round"/>
<path d="M190.9,169.7L186.2,156.0M185.3,156.0a0.9,0.9 0 1,0 1.8,0a0.9,0.9 0 1,0 -1.8,0zM186.2,156.0L186.0,154.0M185.1,154.0a0.9,0.9 0 1,0 1.8,0a0.9,0.9 0 1,0 -1.8,0zM264.6,103.1L286.2,74.3M285.3,74.3a0.9,0.9 0 1,0 1.8,0a0.9,0.9 0 1,0 -1.8,0z" fill="#3273e0" stroke="#3273e0" stroke-width="0.75" opacity="0.82" stroke-linejoin="round"/>
<path d="M186.0,154.0L207.2,143.0M206.3,143.0a0.9,0.9 0 1,0 1.8,0a0.9,0.9 0 1,0 -1.8,0zM207.2,143.0L227.2,128.2M226.3,128.2a0.9,0.9 0 1,0 1.8,0a0.9,0.9 0 1,0 -1.8,0zM227.2,128.2L264.6,103.1M263.7,103.1a0.9,0.9 0 1,0 1.8,0a0.9,0.9 0 1,0 -1.8,0z" fill="#d63636" stroke="#d63636" stroke-width="0.75" opacity="0.82" stroke-linejoin="round"/>
<path d="M215.7,224.5L205.8,220.0M204.9,220.0a0.9,0.9 0 1,0 1.8,0a0.9,0.9 0 1,0 -1.8,0zM205.8,220.0L200.4,210.0M199.5,210.0a0.9,0.9 0 1,0 1.8,0a0.9,0.9 0 1,0 -1.8,0zM200.4,210.0L193.2,204.2M192.3,204.2a0.9,0.9 0 1,0 1.8,0a0.9,0.9 0 1,0 -1.8,0zM193.2,204.2L187.4,192.2M186.5,192.2a0.9,0.9 0 1,0 1.8,0a0.9,0.9 0 1,0 -1.8,0zM187.4,192.2L185.1,189.5M184.2,189.5a0.9,0.9 0 1,0 1.8,0a0.9,0.9 0 1,0 -1.8,0zM185.1,189.5L183.1,183.7M182.2,183.7a0.9,0.9 0 1,0 1.8,0a0.9,0.9 0 1,0 -1.8,0zM183.1,183.7L172.2,181.4M171.3,181.4a0.9,0.9 0 1,0 1.8,0a0.9,0.9 0 1,0 -1.8,0zM172.2,181.4L170.6,173.9M169.7,173.9a0.9,0.9 0 1,0 1.8,0a0.9,0.9 0 1,0 -1.8,0z" fill="#1fc652" stroke="#1fc652" stroke-width="0.75" opacity="0.82" stroke-linejoin="round"/>
<path d="M170.6,173.9L166.8,166.9M165.9,166.9a0.9,0.9 0 1,0 1.8,0a0.9,0.9 0 1,0 -1.8,0zM166.8,166.9L166.1,159.6M165.2,159.6a0.9,0.9 0 1,0 1.8,0a0.9,0.9 0 1,0 -1.8,0zM166.1,159.6L164.3,151.6M163.4,151.6a0.9,0.9 0 1,0 1.8,0a0.9,0.9 0 1,0 -1.8,0zM164.3,151.6L169.8,145.8M168.9,145.8a0.9,0.9 0 1,0 1.8,0a0.9,0.9 0 1,0 -1.8,0zM169.8,145.8L177.4,135.2M176.5,135.2a0.9,0.9 0 1,0 1.8,0a0.9,0.9 0 1,0 -1.8,0zM177.4,135.2L183.2,129.4M182.3,129.4a0.9,0.9 0 1,0 1.8,0a0.9,0.9 0 1,0 -1.8,0zM183.2,129.4L184.6,129.1M183.7,129.1a0.9,0.9 0 1,0 1.8,0a0.9,0.9 0 1,0 -1.8,0z" fill="#3273e0" stroke="#3273e0" stroke-width="0.75" opacity="0.82" stroke-linejoin="round"/>
<path d="M218.5,219.1L214.3,208.0M213.4,208.0a0.9,0.9 0 1,0 1.8,0a0.9,0.9 0 1,0 -1.8,0zM214.3,208.0L205.2,198.6M204.3,198.6a0.9,0.9 0 1,0 1.8,0a0.9,0.9 0 1,0 -1.8,0zM205.2,198.6L203.1,188.1M202.2,188.1a0.9,0.9 0 1,0 1.8,0a0.9,0.9 0 1,0 -1.8,0zM203.1,188.1L191.3,173.6M190.4,173.6a0.9,0.9 0 1,0 1.8,0a0.9,0.9 0 1,0 -1.8,0z" fill="#1fc652" stroke="#1fc652" stroke-width="0.75" opacity="0.82" stroke-linejoin="round"/>
<path d="M191.3,173.6L193.1,162.4M192.2,162.4a0.9,0.9 0 1,0 1.8,0a0.9,0.9 0 1,0 -1.8,0zM193.1,162.4L190.1,154.4M189.2,154.4a0.9,0.9 0 1,0 1.8,0a0.9,0.9 0 1,0 -1.8,0zM190.1,154.4L188.9,153.5M188.0,153.5a0.9,0.9 0 1,0 1.8,0a0.9,0.9 0 1,0 -1.8,0zM188.9,153.5L191.5,162.8M190.6,162.8a0.9,0.9 0 1,0 1.8,0a0.9,0.9 0 1,0 -1.8,0zM191.5,162.8L191.0,157.0M190.1,157.0a0.9,0.9 0 1,0 1.8,0a0.9,0.9 0 1,0 -1.8,0z" fill="#3273e0" stroke="#3273e0" stroke-width="0.75" opacity="0.82" stroke-linejoin="round"/>
<path d="M191.0,157.0L200.7,153.2M199.8,153.2a0.9,0.9 0 1,0 1.8,0a0.9,0.9 0 1,0 -1.8,0zM200.7,153.2L215.0,140.7M214.1,140.7a0.9,0.9 0 1,0 1.8,0a0.9,0.9 0 1,0 -1.8,0zM215.0,140.7L224.6,136.1M223.7,136.1a0.9,0.9 0 1,0 1.8,0a0.9,0.9 0 1,0 -1.8,0zM224.6,136.1L228.4,128.3M227.5,128.3a0.9,0.9 0 1,0 1.8,0a0.9,0.9 0 1,0 -1.8,0zM228.4,128.3L243.6,121.6M242.7,121.6a0.9,0.9 0 1,0 1.8,0a0.9,0.9 0 1,0 -1.8,0zM243.6,121.6L252.3,109.2M251.4,109.2a0.9,0.9 0 1,0 1.8,0a0.9,0.9 0 1,0 -1.8,0z" fill="#d63636" stroke="#d63636" stroke-width="0.75" opacity="0.82" stroke-linejoin="round"/>
<path d="M210.3,219.2L200.0,210.2M199.1,210.2a0.9,0.9 0 1,0 1.8,0a0.9,0.9 0 1,0 -1.8,0zM200.0,210.2L196.0,196.5M195.1,196.5a0.9,0.9 0 1,0 1.8,0a0.9,0.9 0 1,0 -1.8,0zM196.0,196.5L184.4,189.5M183.5,189.5a0.9,0.9 0 1,0 1.8,0a0.9,0.9 0 1,0 -1.8,0zM184.4,189.5L170.6,173.4M169.7,173.4a0.9,0.9 0 1,0 1.8,0a0.9,0.9 0 1,0 -1.8,0zM254.5,48.8L256.2,36.7M255.3,36.7a0.9,0.9 0 1,0 1.8,0a0.9,0.9 0 1,0 -1.8,0zM256.2,36.7L260.2,24.8M259.3,24.8a0.9,0.9 0 1,0 1.8,0a0.9,0.9 0 1,0 -1.8,0z" fill="#1fc652" stroke="#1fc652" stroke-width="0.75" opacity="0.82" stroke-linejoin="round"/>
<path d="M170.6,173.4L163.5,167.3M162.6,167.3a0.9,0.9 0 1,0 1.8,0a0.9,0.9 0 1,0 -1.8,0zM163.5,167.3L163.7,157.8M162.8,157.8a0.9,0.9 0 1,0 1.8,0a0.9,0.9 0 1,0 -1.8,0zM163.7,157.8L159.5,148.9M158.6,148.9a0.9,0.9 0 1,0 1.8,0a0.9,0.9 0 1,0 -1.8,0zM159.5,148.9L163.7,133.1M162.8,133.1a0.9,0.9 0 1,0 1.8,0a0.9,0.9 0 1,0 -1.8,0zM163.7,133.1L172.3,126.9M171.4,126.9a0.9,0.9 0 1,0 1.8,0a0.9,0.9 0 1,0 -1.8,0zM172.3,126.9L179.1,117.7M178.2,117.7a0.9,0.9 0 1,0 1.8,0a0.9,0.9 0 1,0 -1.8,0zM179.1,117.7L185.4,114.6M184.5,114.6a0.9,0.9 0 1,0 1.8,0a0.9,0.9 0 1,0 -1.8,0zM185.4,114.6L194.9,103.2M194.0,103.2a0.9,0.9 0 1,0 1.8,0a0.9,0.9 0 1,0 -1.8,0zM194.9,103.2L207.0,93.9M206.1,93.9a0.9,0.9 0 1,0 1.8,0a0.9,0.9 0 1,0 -1.8,0zM207.0,93.9L218.9,87.1M218.0,87.1a0.9,0.9 0 1,0 1.8,0a0.9,0.9 0 1,0 -1.8,0zM218.9,87.1L229.3,81.8M228.4,81.8a0.9,0.9 0 1,0 1.8,0a0.9,0.9 0 1,0 -1.8,0zM229.3,81.8L239.8,72.5M238.9,72.5a0.9,0.9 0 1,0 1.8,0a0.9,0.9 0 1,0 -1.8,0zM239.8,72.5L245.9,56.3M245.0,56.3a0.9,0.9 0 1,0 1.8,0a0.9,0.9 0 1,0 -1.8,0zM245.9,56.3L254.5,48.8M253.6,48.8a0.9,0.9 0 1,0 1.8,0a0.9,0.9 0 1,0 -1.8,0z" fill="#3273e0" stroke="#3273e0" stroke-width="0.75" opacity="0.82" stroke-linejoin="round"/>
<path d="M208.9,214.6L189.4,190.8M188.5,190.8a0.9,0.9 0 1,0 1.8,0a0.9,0.9 0 1,0 -1.8,0zM189.4,190.8L168.5,166.7M167.6,166.7a0.9,0.9 0 1,0 1.8,0a0.9,0.9 0 1,0 -1.8,0z" fill="#1fc652" stroke="#1fc652" stroke-width="0.75" opacity="0.82" stroke-linejoin="round"/>
<path d="M168.5,166.7L177.0,143.0M176.1,143.0a0.9,0.9 0 1,0 1.8,0a0.9,0.9 0 1,0 -1.8,0zM220.5,91.0L237.3,67.2M236.4,67.2a0.9,0.9 0 1,0 1.8,0a0.9,0.9 0 1,0 -1.8,0zM237.3,67.2L245.2,29.2M244.3,29.2a0.9,0.9 0 1,0 1.8,0a0.9,0.9 0 1,0 -1.8,0z" fill="#3273e0" stroke="#3273e0" stroke-width="0.75" opacity="0.82" stroke-linejoin="round"/>
<path d="M177.0,143.0L199.3,116.6M198.4,116.6a0.9,0.9 0 1,0 1.8,0a0.9,0.9 0 1,0 -1.8,0zM199.3,116.6L220.5,91.0M219.6,91.0a0.9,0.9 0 1,0 1.8,0a0.9,0.9 0 1,0 -1.8,0z" fill="#d63636" stroke="#d63636" stroke-width="0.75" opacity="0.82" stroke-linejoin="round"/>
<path d="M213.7,214.4L204.5,202.4M203.6,202.4a0.9,0.9 0 1,0 1.8,0a0.9,0.9 0 1,0 -1.8,0zM204.5,202.4L197.1,186.9M196.2,186.9a0.9,0.9 0 1,0 1.8,0a0.9,0.9 0 1,0 -1.8,0z" fill="#1fc652" stroke="#1fc652" stroke-width="0.75" opacity="0.82" stroke-linejoin="round"/>
<path d="M197.1,186.9L177.7,169.8M176.8,169.8a0.9,0.9 0 1,0 1.8,0a0.9,0.9 0 1,0 -1.8,0zM177.7,169.8L180.0,153.4M179.1,153.4a0.9,0.9 0 1,0 1.8,0a0.9,0.9 0 1,0 -1.8,0zM180.0,153.4L178.4,155.3M177.5,155.3a0.9,0.9 0 1,0 1.8,0a0.9,0.9 0 1,0 -1.8,0zM178.4,155.3L185.8,148.4M184.9,148.4a0.9,0.9 0 1,0 1.8,0a0.9,0.9 0 1,0 -1.8,0zM234.8,115.5L257.6,94.3M256.7,94.3a0.9,0.9 0 1,0 1.8,0a0.9,0.9 0 1,0 -1.8,0zM257.6,94.3L268.0,75.3M267.1,75.3a0.9,0.9 0 1,0 1.8,0a0.9,0.9 0 1,0 -1.8,0zM268.0,75.3L279.5,52.0M278.6,52.0a0.9,0.9 0 1,0 1.8,0a0.9,0.9 0 1,0 -1.8,0zM279.5,52.0L285.8,29.8M284.9,29.8a0.9,0.9 0 1,0 1.8,0a0.9,0.9 0 1,0 -1.8,0z" fill="#3273e0" stroke="#3273e0" stroke-width="0.75" opacity="0.82" stroke-linejoin="round"/>
<path d="M185.8,148.4L195.6,140.8M194.7,140.8a0.9,0.9 0 1,0 1.8,0a0.9,0.9 0 1,0 -1.8,0zM195.6,140.8L212.4,127.3M211.5,127.3a0.9,0.9 0 1,0 1.8,0a0.9,0.9 0 1,0 -1.8,0zM212.4,127.3L234.8,115.5M233.9,115.5a0.9,0.9 0 1,0 1.8,0a0.9,0.9 0 1,0 -1.8,0z" fill="#d63636" stroke="#d63636" stroke-width="0.75" opacity="0.82" stroke-linejoin="round"/>
<path d="M214.2,226.9L203.7,214.1M202.8,214.1a0.9,0.9 0 1,0 1.8,0a0.9,0.9 0 1,0 -1.8,0zM203.7,214.1L196.2,205.7M195.3,205.7a0.9,0.9 0 1,0 1.8,0a0.9,0.9 0 1,0 -1.8,0zM196.2,205.7L191.7,204.8M190.8,204.8a0.9,0.9 0 1,0 1.8,0a0.9,0.9 0 1,0 -1.8,0zM191.7,204.8L187.4,194.0M186.5,194.0a0.9,0.9 0 1,0 1.8,0a0.9,0.9 0 1,0 -1.8,0zM187.4,194.0L177.2,185.1M176.3,185.1a0.9,0.9 0 1,0 1.8,0a0.9,0.9 0 1,0 -1.8,0z" fill="#1fc652" stroke="#1fc652" stroke-width="0.75" opacity="0.82" stroke-linejoin="round"/>
<path d="M177.2,185.1L167.7,183.0M166.8,183.0a0.9,0.9 0 1,0 1.8,0a0.9,0.9 0 1,0 -1.8,0zM167.7,183.0L163.0,167.0M162.1,167.0a0.9,0.9 0 1,0 1.8,0a0.9,0.9 0 1,0 -1.8,0zM163.0,167.0L159.9,160.3M159.0,160.3a0.9,0.9 0 1,0 1.8,0a0.9,0.9 0 1,0 -1.8,0zM159.9,160.3L159.6,147.9M158.7,147.9a0.9,0.9 0 1,0 1.8,0a0.9,0.9 0 1,0 -1.8,0zM159.6,147.9L161.0,139.2M160.1,139.2a0.9,0.9 0 1,0 1.8,0a0.9,0.9 0 1,0 -1.8,0zM161.0,139.2L166.5,132.5M165.6,132.5a0.9,0.9 0 1,0 1.8,0a0.9,0.9 0 1,0 -1.8,0zM166.5,132.5L176.5,123.8M175.6,123.8a0.9,0.9 0 1,0 1.8,0a0.9,0.9 0 1,0 -1.8,0zM176.5,123.8L181.2,116.7M180.3,116.7a0.9,0.9 0 1,0 1.8,0a0.9,0.9 0 1,0 -1.8,0zM181.2,116.7L187.7,108.9M186.8,108.9a0.9,0.9 0 1,0 1.8,0a0.9,0.9 0 1,0 -1.8,0zM187.7,108.9L197.8,95.9M196.9,95.9a0.9,0.9 0 1,0 1.8,0a0.9,0.9 0 1,0 -1.8,0zM197.8,95.9L203.4,81.4M202.5,81.4a0.9,0.9 0 1,0 1.8,0a0.9,0.9 0 1,0 -1.8,0zM203.4,81.4L211.4,78.2M210.5,78.2a0.9,0.9 0 1,0 1.8,0a0.9,0.9 0 1,0 -1.8,0z" fill="#3273e0" stroke="#3273e0" stroke-width="0.75" opacity="0.82" stroke-linejoin="round"/>
<path d="M213.7,216.6L207.6,214.1M206.7,214.1a0.9,0.9 0 1,0 1.8,0a0.9,0.9 0 1,0 -1.8,0zM207.6,214.1L207.3,200.7M206.4,200.7a0.9,0.9 0 1,0 1.8,0a0.9,0.9 0 1,0 -1.8,0zM207.3,200.7L197.7,195.0M196.8,195.0a0.9,0.9 0 1,0 1.8,0a0.9,0.9 0 1,0 -1.8,0zM197.7,195.0L197.0,183.5M196.1,183.5a0.9,0.9 0 1,0 1.8,0a0.9,0.9 0 1,0 -1.8,0zM197.0,183.5L191.6,176.8M190.7,176.8a0.9,0.9 0 1,0 1.8,0a0.9,0.9 0 1,0 -1.8,0z" fill="#1fc652" stroke="#1fc652" stroke-width="0.75" opacity="0.82" stroke-linejoin="round"/>
<path d="M191.6,176.8L182.1,166.8M181.2,166.8a0.9,0.9 0 1,0 1.8,0a0.9,0.9 0 1,0 -1.8,0zM182.1,166.8L182.2,164.3M181.3,164.3a0.9,0.9 0 1,0 1.8,0a0.9,0.9 0 1,0 -1.8,0zM182.2,164.3L179.0,157.9M178.1,157.9a0.9,0.9 0 1,0 1.8,0a0.9,0.9 0 1,0 -1.8,0zM179.0,157.9L176.9,156.2M176.0,156.2a0.9,0.9 0 1,0 1.8,0a0.9,0.9 0 1,0 -1.8,0zM176.9,156.2L184.0,149.1M183.1,149.1a0.9,0.9 0 1,0 1.8,0a0.9,0.9 0 1,0 -1.8,0z" fill="#3273e0" stroke="#3273e0" stroke-width="0.75" opacity="0.82" stroke-linejoin="round"/>
<path d="M184.0,149.1L187.5,144.2M186.6,144.2a0.9,0.9 0 1,0 1.8,0a0.9,0.9 0 1,0 -1.8,0zM187.5,144.2L192.8,137.9M191.9,137.9a0.9,0.9 0 1,0 1.8,0a0.9,0.9 0 1,0 -1.8,0zM192.8,137.9L200.6,124.0M199.7,124.0a0.9,0.9 0 1,0 1.8,0a0.9,0.9 0 1,0 -1.8,0zM200.6,124.0L208.8,119.9M207.9,119.9a0.9,0.9 0 1,0 1.8,0a0.9,0.9 0 1,0 -1.8,0zM208.8,119.9L217.1,112.3M216.2,112.3a0.9,0.9 0 1,0 1.8,0a0.9,0.9 0 1,0 -1.8,0zM217.1,112.3L220.5,98.6M219.6,98.6a0.9,0.9 0 1,0 1.8,0a0.9,0.9 0 1,0 -1.8,0zM220.5,98.6L227.0,93.5M226.1,93.5a0.9,0.9 0 1,0 1.8,0a0.9,0.9 0 1,0 -1.8,0zM227.0,93.5L231.2,89.6M230.3,89.6a0.9,0.9 0 1,0 1.8,0a0.9,0.9 0 1,0 -1.8,0zM231.2,89.6L241.4,80.9M240.5,80.9a0.9,0.9 0 1,0 1.8,0a0.9,0.9 0 1,0 -1.8,0z" fill="#d63636" stroke="#d63636" stroke-width="0.75" opacity="0.82" stroke-linejoin="round"/>
<path d="M210.1,223.2L199.5,205.2M198.6,205.2a0.9,0.9 0 1,0 1.8,0a0.9,0.9 0 1,0 -1.8,0zM199.5,205.2L193.5,194.8M192.6,194.8a0.9,0.9 0 1,0 1.8,0a0.9,0.9 0 1,0 -1.8,0zM193.5,194.8L183.0,181.0M182.1,181.0a0.9,0.9 0 1,0 1.8,0a0.9,0.9 0 1,0 -1.8,0zM244.1,51.9L249.5,37.2M248.6,37.2a0.9,0.9 0 1,0 1.8,0a0.9,0.9 0 1,0 -1.8,0zM249.5,37.2L255.6,21.0M254.7,21.0a0.9,0.9 0 1,0 1.8,0a0.9,0.9 0 1,0 -1.8,0z" fill="#1fc652" stroke="#1fc652" stroke-width="0.75" opacity="0.82" stroke-linejoin="round"/>
<path d="M183.0,181.0L171.2,169.3M170.3,169.3a0.9,0.9 0 1,0 1.8,0a0.9,0.9 0 1,0 -1.8,0zM171.2,169.3L167.0,163.5M166.1,163.5a0.9,0.9 0 1,0 1.8,0a0.9,0.9 0 1,0 -1.8,0zM167.0,163.5L162.0,151.9M161.1,151.9a0.9,0.9 0 1,0 1.8,0a0.9,0.9 0 1,0 -1.8,0zM162.0,151.9L166.4,142.4M165.5,142.4a0.9,0.9 0 1,0 1.8,0a0.9,0.9 0 1,0 -1.8,0zM166.4,142.4L174.2,133.2M173.3,133.2a0.9,0.9 0 1,0 1.8,0a0.9,0.9 0 1,0 -1.8,0zM174.2,133.2L186.9,122.4M186.0,122.4a0.9,0.9 0 1,0 1.8,0a0.9,0.9 0 1,0 -1.8,0zM186.9,122.4L200.4,110.5M199.5,110.5a0.9,0.9 0 1,0 1.8,0a0.9,0.9 0 1,0 -1.8,0zM200.4,110.5L205.7,104.1M204.8,104.1a0.9,0.9 0 1,0 1.8,0a0.9,0.9 0 1,0 -1.8,0zM205.7,104.1L228.8,89.4M227.9,89.4a0.9,0.9 0 1,0 1.8,0a0.9,0.9 0 1,0 -1.8,0zM228.8,89.4L233.3,80.5M232.4,80.5a0.9,0.9 0 1,0 1.8,0a0.9,0.9 0 1,0 -1.8,0zM233.3,80.5L247.8,61.8M246.9,61.8a0.9,0.9 0 1,0 1.8,0a0.9,0.9 0 1,0 -1.8,0zM247.8,61.8L244.1,51.9M243.2,51.9a0.9,0.9 0 1,0 1.8,0a0.9,0.9 0 1,0 -1.8,0z" fill="#3273e0" stroke="#3273e0" stroke-width="0.75" opacity="0.82" stroke-linejoin="round"/>
<path d="M210.3,223.2L201.9,214.2M201.0,214.2a0.9,0.9 0 1,0 1.8,0a0.9,0.9 0 1,0 -1.8,0zM201.9,214.2L195.8,202.4M194.9,202.4a0.9,0.9 0 1,0 1.8,0a0.9,0.9 0 1,0 -1.8,0zM195.8,202.4L189.1,193.9M188.2,193.9a0.9,0.9 0 1,0 1.8,0a0.9,0.9 0 1,0 -1.8,0zM189.1,193.9L176.0,181.2M175.1,181.2a0.9,0.9 0 1,0 1.8,0a0.9,0.9 0 1,0 -1.8,0zM176.0,181.2L163.9,172.6M163.0,172.6a0.9,0.9 0 1,0 1.8,0a0.9,0.9 0 1,0 -1.8,0zM229.0,44.2L231.8,35.5M230.9,35.5a0.9,0.9 0 1,0 1.8,0a0.9,0.9 0 1,0 -1.8,0z" fill="#1fc652" stroke="#1fc652" stroke-width="0.75" opacity="0.82" stroke-linejoin="round"/>
<path d="M163.9,172.6L154.7,164.4M153.8,164.4a0.9,0.9 0 1,0 1.8,0a0.9,0.9 0 1,0 -1.8,0zM154.7,164.4L158.6,146.6M157.7,146.6a0.9,0.9 0 1,0 1.8,0a0.9,0.9 0 1,0 -1.8,0zM158.6,146.6L163.2,136.2M162.3,136.2a0.9,0.9 0 1,0 1.8,0a0.9,0.9 0 1,0 -1.8,0zM163.2,136.2L173.5,125.9M172.6,125.9a0.9,0.9 0 1,0 1.8,0a0.9,0.9 0 1,0 -1.8,0zM173.5,125.9L182.8,115.1M181.9,115.1a0.9,0.9 0 1,0 1.8,0a0.9,0.9 0 1,0 -1.8,0zM182.8,115.1L194.1,101.8M193.2,101.8a0.9,0.9 0 1,0 1.8,0a0.9,0.9 0 1,0 -1.8,0zM194.1,101.8L205.9,88.1M205.0,88.1a0.9,0.9 0 1,0 1.8,0a0.9,0.9 0 1,0 -1.8,0zM205.9,88.1L214.8,70.9M213.9,70.9a0.9,0.9 0 1,0 1.8,0a0.9,0.9 0 1,0 -1.8,0zM214.8,70.9L217.5,62.7M216.6,62.7a0.9,0.9 0 1,0 1.8,0a0.9,0.9 0 1,0 -1.8,0zM217.5,62.7L223.1,51.0M222.2,51.0a0.9,0.9 0 1,0 1.8,0a0.9,0.9 0 1,0 -1.8,0zM223.1,51.0L229.0,44.2M228.1,44.2a0.9,0.9 0 1,0 1.8,0a0.9,0.9 0 1,0 -1.8,0zM231.8,35.5L233.5,19.4M232.6,19.4a0.9,0.9 0 1,0 1.8,0a0.9,0.9 0 1,0 -1.8,0z" fill="#3273e0" stroke="#3273e0" stroke-width="0.75" opacity="0.82" stroke-linejoin="round"/>
<path d="M205.2,217.9L200.6,210.6M199.7,210.6a0.9,0.9 0 1,0 1.8,0a0.9,0.9 0 1,0 -1.8,0zM200.6,210.6L194.6,204.8M193.7,204.8a0.9,0.9 0 1,0 1.8,0a0.9,0.9 0 1,0 -1.8,0zM194.6,204.8L180.6,192.6M179.7,192.6a0.9,0.9 0 1,0 1.8,0a0.9,0.9 0 1,0 -1.8,0z" fill="#1fc652" stroke="#1fc652" stroke-width="0.75" opacity="0.82" stroke-linejoin="round"/>
<path d="M180.6,192.6L166.9,182.4M166.0,182.4a0.9,0.9 0 1,0 1.8,0a0.9,0.9 0 1,0 -1.8,0zM166.9,182.4L163.7,173.4M162.8,173.4a0.9,0.9 0 1,0 1.8,0a0.9,0.9 0 1,0 -1.8,0zM163.7,173.4L161.7,159.3M160.8,159.3a0.9,0.9 0 1,0 1.8,0a0.9,0.9 0 1,0 -1.8,0zM161.7,159.3L163.4,148.2M162.5,148.2a0.9,0.9 0 1,0 1.8,0a0.9,0.9 0 1,0 -1.8,0zM212.0,93.3L225.0,82.5M224.1,82.5a0.9,0.9 0 1,0 1.8,0a0.9,0.9 0 1,0 -1.8,0zM225.0,82.5L237.9,74.5M237.0,74.5a0.9,0.9 0 1,0 1.8,0a0.9,0.9 0 1,0 -1.8,0zM237.9,74.5L245.8,62.2M244.9,62.2a0.9,0.9 0 1,0 1.8,0a0.9,0.9 0 1,0 -1.8,0zM245.8,62.2L250.6,46.6M249.7,46.6a0.9,0.9 0 1,0 1.8,0a0.9,0.9 0 1,0 -1.8,0z" fill="#3273e0" stroke="#3273e0" stroke-width="0.75" opacity="0.82" stroke-linejoin="round"/>
<path d="M163.4,148.2L169.0,133.2M168.1,133.2a0.9,0.9 0 1,0 1.8,0a0.9,0.9 0 1,0 -1.8,0zM169.0,133.2L180.7,122.7M179.8,122.7a0.9,0.9 0 1,0 1.8,0a0.9,0.9 0 1,0 -1.8,0zM180.7,122.7L187.7,111.5M186.8,111.5a0.9,0.9 0 1,0 1.8,0a0.9,0.9 0 1,0 -1.8,0zM187.7,111.5L197.6,103.5M196.7,103.5a0.9,0.9 0 1,0 1.8,0a0.9,0.9 0 1,0 -1.8,0zM197.6,103.5L212.0,93.3M211.1,93.3a0.9,0.9 0 1,0 1.8,0a0.9,0.9 0 1,0 -1.8,0z" fill="#d63636" stroke="#d63636" stroke-width="0.75" opacity="0.82" stroke-linejoin="round"/>
<path d="M208.3,213.9L203.0,214.8M202.1,214.8a0.9,0.9 0 1,0 1.8,0a0.9,0.9 0 1,0 -1.8,0zM203.0,214.8L200.0,207.7M199.1,207.7a0.9,0.9 0 1,0 1.8,0a0.9,0.9 0 1,0 -1.8,0zM200.0,207.7L201.1,197.8M200.2,197.8a0.9,0.9 0 1,0 1.8,0a0.9,0.9 0 1,0 -1.8,0zM201.1,197.8L195.7,197.0M194.8,197.0a0.9,0.9 0 1,0 1.8,0a0.9,0.9 0 1,0 -1.8,0zM195.7,197.0L189.3,187.7M188.4,187.7a0.9,0.9 0 1,0 1.8,0a0.9,0.9 0 1,0 -1.8,0zM189.3,187.7L184.5,181.7M183.6,181.7a0.9,0.9 0 1,0 1.8,0a0.9,0.9 0 1,0 -1.8,0z" fill="#1fc652" stroke="#1fc652" stroke-width="0.75" opacity="0.82" stroke-linejoin="round"/>
<path d="M184.5,181.7L182.1,179.6M181.2,179.6a0.9,0.9 0 1,0 1.8,0a0.9,0.9 0 1,0 -1.8,0zM182.1,179.6L176.7,173.0M175.8,173.0a0.9,0.9 0 1,0 1.8,0a0.9,0.9 0 1,0 -1.8,0zM176.7,173.0L168.4,170.1M167.5,170.1a0.9,0.9 0 1,0 1.8,0a0.9,0.9 0 1,0 -1.8,0zM168.4,170.1L172.1,167.2M171.2,167.2a0.9,0.9 0 1,0 1.8,0a0.9,0.9 0 1,0 -1.8,0zM172.1,167.2L166.2,158.7M165.3,158.7a0.9,0.9 0 1,0 1.8,0a0.9,0.9 0 1,0 -1.8,0zM166.2,158.7L169.6,155.0M168.7,155.0a0.9,0.9 0 1,0 1.8,0a0.9,0.9 0 1,0 -1.8,0zM169.6,155.0L169.4,148.0M168.5,148.0a0.9,0.9 0 1,0 1.8,0a0.9,0.9 0 1,0 -1.8,0zM169.4,148.0L178.1,146.5M177.2,146.5a0.9,0.9 0 1,0 1.8,0a0.9,0.9 0 1,0 -1.8,0zM178.1,146.5L182.3,145.5M181.4,145.5a0.9,0.9 0 1,0 1.8,0a0.9,0.9 0 1,0 -1.8,0zM182.3,145.5L183.5,134.7M182.6,134.7a0.9,0.9 0 1,0 1.8,0a0.9,0.9 0 1,0 -1.8,0zM183.5,134.7L190.6,133.2M189.7,133.2a0.9,0.9 0 1,0 1.8,0a0.9,0.9 0 1,0 -1.8,0z" fill="#3273e0" stroke="#3273e0" stroke-width="0.75" opacity="0.82" stroke-linejoin="round"/>
<path d="M206.9,218.7L192.6,205.5M191.7,205.5a0.9,0.9 0 1,0 1.8,0a0.9,0.9 0 1,0 -1.8,0zM192.6,205.5L182.3,201.7M181.4,201.7a0.9,0.9 0 1,0 1.8,0a0.9,0.9 0 1,0 -1.8,0zM182.3,201.7L170.9,185.9M170.0,185.9a0.9,0.9 0 1,0 1.8,0a0.9,0.9 0 1,0 -1.8,0z" fill="#1fc652" stroke="#1fc652" stroke-width="0.75" opacity="0.82" stroke-linejoin="round"/>
<path d="M170.9,185.9L156.5,173.5M155.6,173.5a0.9,0.9 0 1,0 1.8,0a0.9,0.9 0 1,0 -1.8,0zM156.5,173.5L150.8,154.9M149.9,154.9a0.9,0.9 0 1,0 1.8,0a0.9,0.9 0 1,0 -1.8,0zM150.8,154.9L157.7,137.0M156.8,137.0a0.9,0.9 0 1,0 1.8,0a0.9,0.9 0 1,0 -1.8,0zM157.7,137.0L166.5,120.0M165.6,120.0a0.9,0.9 0 1,0 1.8,0a0.9,0.9 0 1,0 -1.8,0zM166.5,120.0L176.1,113.6M175.2,113.6a0.9,0.9 0 1,0 1.8,0a0.9,0.9 0 1,0 -1.8,0zM176.1,113.6L187.3,101.7M186.4,101.7a0.9,0.9 0 1,0 1.8,0a0.9,0.9 0 1,0 -1.8,0zM187.3,101.7L198.9,90.9M198.0,90.9a0.9,0.9 0 1,0 1.8,0a0.9,0.9 0 1,0 -1.8,0zM198.9,90.9L208.7,78.9M207.8,78.9a0.9,0.9 0 1,0 1.8,0a0.9,0.9 0 1,0 -1.8,0zM208.7,78.9L215.7,67.2M214.8,67.2a0.9,0.9 0 1,0 1.8,0a0.9,0.9 0 1,0 -1.8,0zM215.7,67.2L220.1,58.0M219.2,58.0a0.9,0.9 0 1,0 1.8,0a0.9,0.9 0 1,0 -1.8,0zM220.1,58.0L224.0,38.1M223.1,38.1a0.9,0.9 0 1,0 1.8,0a0.9,0.9 0 1,0 -1.8,0zM224.0,38.1L230.4,23.1M229.5,23.1a0.9,0.9 0 1,0 1.8,0a0.9,0.9 0 1,0 -1.8,0zM230.4,23.1L231.6,16.4M230.7,16.4a0.9,0.9 0 1,0 1.8,0a0.9,0.9 0 1,0 -1.8,0z" fill="#3273e0" stroke="#3273e0" stroke-width="0.75" opacity="0.82" stroke-linejoin="round"/>
<path d="M211.0,222.6L205.3,211.0M204.4,211.0a0.9,0.9 0 1,0 1.8,0a0.9,0.9 0 1,0 -1.8,0zM205.3,211.0L199.6,202.6M198.7,202.6a0.9,0.9 0 1,0 1.8,0a0.9,0.9 0 1,0 -1.8,0zM199.6,202.6L188.5,202.6M187.6,202.6a0.9,0.9 0 1,0 1.8,0a0.9,0.9 0 1,0 -1.8,0zM188.5,202.6L181.3,188.1M180.4,188.1a0.9,0.9 0 1,0 1.8,0a0.9,0.9 0 1,0 -1.8,0zM181.3,188.1L172.5,178.3M171.6,178.3a0.9,0.9 0 1,0 1.8,0a0.9,0.9 0 1,0 -1.8,0zM245.8,31.7L248.6,22.4M247.7,22.4a0.9,0.9 0 1,0 1.8,0a0.9,0.9 0 1,0 -1.8,0z" fill="#1fc652" stroke="#1fc652" stroke-width="0.75" opacity="0.82" stroke-linejoin="round"/>
<path d="M172.5,178.3L174.4,170.4M173.5,170.4a0.9,0.9 0 1,0 1.8,0a0.9,0.9 0 1,0 -1.8,0zM174.4,170.4L168.3,161.2M167.4,161.2a0.9,0.9 0 1,0 1.8,0a0.9,0.9 0 1,0 -1.8,0zM168.3,161.2L168.1,152.0M167.2,152.0a0.9,0.9 0 1,0 1.8,0a0.9,0.9 0 1,0 -1.8,0zM168.1,152.0L172.1,145.4M171.2,145.4a0.9,0.9 0 1,0 1.8,0a0.9,0.9 0 1,0 -1.8,0zM172.1,145.4L176.1,135.3M175.2,135.3a0.9,0.9 0 1,0 1.8,0a0.9,0.9 0 1,0 -1.8,0zM176.1,135.3L184.9,127.4M184.0,127.4a0.9,0.9 0 1,0 1.8,0a0.9,0.9 0 1,0 -1.8,0zM184.9,127.4L190.9,111.2M190.0,111.2a0.9,0.9 0 1,0 1.8,0a0.9,0.9 0 1,0 -1.8,0zM190.9,111.2L199.8,101.1M198.9,101.1a0.9,0.9 0 1,0 1.8,0a0.9,0.9 0 1,0 -1.8,0zM199.8,101.1L214.3,92.8M213.4,92.8a0.9,0.9 0 1,0 1.8,0a0.9,0.9 0 1,0 -1.8,0zM214.3,92.8L224.0,81.7M223.1,81.7a0.9,0.9 0 1,0 1.8,0a0.9,0.9 0 1,0 -1.8,0zM224.0,81.7L221.0,71.3M220.1,71.3a0.9,0.9 0 1,0 1.8,0a0.9,0.9 0 1,0 -1.8,0zM221.0,71.3L228.7,63.2M227.8,63.2a0.9,0.9 0 1,0 1.8,0a0.9,0.9 0 1,0 -1.8,0zM228.7,63.2L238.6,48.4M237.7,48.4a0.9,0.9 0 1,0 1.8,0a0.9,0.9 0 1,0 -1.8,0zM238.6,48.4L241.3,40.2M240.4,40.2a0.9,0.9 0 1,0 1.8,0a0.9,0.9 0 1,0 -1.8,0zM241.3,40.2L245.8,31.7M244.9,31.7a0.9,0.9 0 1,0 1.8,0a0.9,0.9 0 1,0 -1.8,0z" fill="#3273e0" stroke="#3273e0" stroke-width="0.75" opacity="0.82" stroke-linejoin="round"/>
<path d="M210.6,216.8L204.2,204.4M203.3,204.4a0.9,0.9 0 1,0 1.8,0a0.9,0.9 0 1,0 -1.8,0zM204.2,204.4L192.2,191.7M191.3,191.7a0.9,0.9 0 1,0 1.8,0a0.9,0.9 0 1,0 -1.8,0zM192.2,191.7L181.7,182.2M180.8,182.2a0.9,0.9 0 1,0 1.8,0a0.9,0.9 0 1,0 -1.8,0zM181.7,182.2L174.8,171.4M173.9,171.4a0.9,0.9 0 1,0 1.8,0a0.9,0.9 0 1,0 -1.8,0zM266.3,41.2L268.4,28.9M267.5,28.9a0.9,0.9 0 1,0 1.8,0a0.9,0.9 0 1,0 -1.8,0z" fill="#1fc652" stroke="#1fc652" stroke-width="0.75" opacity="0.82" stroke-linejoin="round"/>
<path d="M174.8,171.4L176.8,161.6M175.9,161.6a0.9,0.9 0 1,0 1.8,0a0.9,0.9 0 1,0 -1.8,0zM176.8,161.6L175.9,154.7M175.0,154.7a0.9,0.9 0 1,0 1.8,0a0.9,0.9 0 1,0 -1.8,0zM175.9,154.7L182.0,144.4M181.1,144.4a0.9,0.9 0 1,0 1.8,0a0.9,0.9 0 1,0 -1.8,0zM182.0,144.4L191.1,137.6M190.2,137.6a0.9,0.9 0 1,0 1.8,0a0.9,0.9 0 1,0 -1.8,0zM191.1,137.6L207.7,125.8M206.8,125.8a0.9,0.9 0 1,0 1.8,0a0.9,0.9 0 1,0 -1.8,0zM207.7,125.8L221.9,116.5M221.0,116.5a0.9,0.9 0 1,0 1.8,0a0.9,0.9 0 1,0 -1.8,0zM221.9,116.5L231.1,109.1M230.2,109.1a0.9,0.9 0 1,0 1.8,0a0.9,0.9 0 1,0 -1.8,0zM231.1,109.1L244.2,84.9M243.3,84.9a0.9,0.9 0 1,0 1.8,0a0.9,0.9 0 1,0 -1.8,0zM244.2,84.9L249.3,71.8M248.4,71.8a0.9,0.9 0 1,0 1.8,0a0.9,0.9 0 1,0 -1.8,0zM249.3,71.8L261.4,57.3M260.5,57.3a0.9,0.9 0 1,0 1.8,0a0.9,0.9 0 1,0 -1.8,0zM261.4,57.3L266.3,41.2M265.4,41.2a0.9,0.9 0 1,0 1.8,0a0.9,0.9 0 1,0 -1.8,0z" fill="#3273e0" stroke="#3273e0" stroke-width="0.75" opacity="0.82" stroke-linejoin="round"/>
<path d="M205.4,216.4L200.2,210.0M199.3,210.0a0.9,0.9 0 1,0 1.8,0a0.9,0.9 0 1,0 -1.8,0zM200.2,210.0L190.1,200.4M189.2,200.4a0.9,0.9 0 1,0 1.8,0a0.9,0.9 0 1,0 -1.8,0zM190.1,200.4L190.9,192.4M190.0,192.4a0.9,0.9 0 1,0 1.8,0a0.9,0.9 0 1,0 -1.8,0zM190.9,192.4L180.0,186.0M179.1,186.0a0.9,0.9 0 1,0 1.8,0a0.9,0.9 0 1,0 -1.8,0z" fill="#1fc652" stroke="#1fc652" stroke-width="0.75" opacity="0.82" stroke-linejoin="round"/>
<path d="M180.0,186.0L177.3,180.2M176.4,180.2a0.9,0.9 0 1,0 1.8,0a0.9,0.9 0 1,0 -1.8,0zM177.3,180.2L167.5,167.6M166.6,167.6a0.9,0.9 0 1,0 1.8,0a0.9,0.9 0 1,0 -1.8,0zM167.5,167.6L159.4,161.0M158.5,161.0a0.9,0.9 0 1,0 1.8,0a0.9,0.9 0 1,0 -1.8,0zM159.4,161.0L159.5,146.6M158.6,146.6a0.9,0.9 0 1,0 1.8,0a0.9,0.9 0 1,0 -1.8,0zM159.5,146.6L169.3,132.9M168.4,132.9a0.9,0.9 0 1,0 1.8,0a0.9,0.9 0 1,0 -1.8,0zM169.3,132.9L176.2,125.4M175.3,125.4a0.9,0.9 0 1,0 1.8,0a0.9,0.9 0 1,0 -1.8,0zM176.2,125.4L189.9,123.5M189.0,123.5a0.9,0.9 0 1,0 1.8,0a0.9,0.9 0 1,0 -1.8,0zM189.9,123.5L197.9,111.6M197.0,111.6a0.9,0.9 0 1,0 1.8,0a0.9,0.9 0 1,0 -1.8,0zM197.9,111.6L205.2,104.7M204.3,104.7a0.9,0.9 0 1,0 1.8,0a0.9,0.9 0 1,0 -1.8,0zM205.2,104.7L213.0,94.4M212.1,94.4a0.9,0.9 0 1,0 1.8,0a0.9,0.9 0 1,0 -1.8,0z" fill="#3273e0" stroke="#3273e0" stroke-width="0.75" opacity="0.82" stroke-linejoin="round"/>
<path d="M212.6,217.1L212.2,208.5M211.3,208.5a0.9,0.9 0 1,0 1.8,0a0.9,0.9 0 1,0 -1.8,0zM212.2,208.5L200.4,195.6M199.5,195.6a0.9,0.9 0 1,0 1.8,0a0.9,0.9 0 1,0 -1.8,0zM200.4,195.6L191.9,191.7M191.0,191.7a0.9,0.9 0 1,0 1.8,0a0.9,0.9 0 1,0 -1.8,0zM191.9,191.7L185.3,176.1M184.4,176.1a0.9,0.9 0 1,0 1.8,0a0.9,0.9 0 1,0 -1.8,0zM185.3,176.1L173.1,172.8M172.2,172.8a0.9,0.9 0 1,0 1.8,0a0.9,0.9 0 1,0 -1.8,0z" fill="#1fc652" stroke="#1fc652" stroke-width="0.75" opacity="0.82" stroke-linejoin="round"/>
<path d="M173.1,172.8L175.2,166.9M174.3,166.9a0.9,0.9 0 1,0 1.8,0a0.9,0.9 0 1,0 -1.8,0zM175.2,166.9L168.7,157.7M167.8,157.7a0.9,0.9 0 1,0 1.8,0a0.9,0.9 0 1,0 -1.8,0zM168.7,157.7L176.1,149.0M175.2,149.0a0.9,0.9 0 1,0 1.8,0a0.9,0.9 0 1,0 -1.8,0zM245.5,75.4L250.9,67.4M250.0,67.4a0.9,0.9 0 1,0 1.8,0a0.9,0.9 0 1,0 -1.8,0zM250.9,67.4L259.1,54.6M258.2,54.6a0.9,0.9 0 1,0 1.8,0a0.9,0.9 0 1,0 -1.8,0zM259.1,54.6L256.8,41.1M255.9,41.1a0.9,0.9 0 1,0 1.8,0a0.9,0.9 0 1,0 -1.8,0z" fill="#3273e0" stroke="#3273e0" stroke-width="0.75" opacity="0.82" stroke-linejoin="round"/>
<path d="M176.1,149.0L184.1,143.0M183.2,143.0a0.9,0.9 0 1,0 1.8,0a0.9,0.9 0 1,0 -1.8,0zM184.1,143.0L193.0,134.6M192.1,134.6a0.9,0.9 0 1,0 1.8,0a0.9,0.9 0 1,0 -1.8,0zM193.0,134.6L206.0,129.4M205.1,129.4a0.9,0.9 0 1,0 1.8,0a0.9,0.9 0 1,0 -1.8,0zM206.0,129.4L211.6,121.1M210.7,121.1a0.9,0.9 0 1,0 1.8,0a0.9,0.9 0 1,0 -1.8,0zM211.6,121.1L222.4,109.6M221.5,109.6a0.9,0.9 0 1,0 1.8,0a0.9,0.9 0 1,0 -1.8,0zM222.4,109.6L237.3,98.9M236.4,98.9a0.9,0.9 0 1,0 1.8,0a0.9,0.9 0 1,0 -1.8,0zM237.3,98.9L242.5,87.1M241.6,87.1a0.9,0.9 0 1,0 1.8,0a0.9,0.9 0 1,0 -1.8,0zM242.5,87.1L245.5,75.4M244.6,75.4a0.9,0.9 0 1,0 1.8,0a0.9,0.9 0 1,0 -1.8,0z" fill="#d63636" stroke="#d63636" stroke-width="0.75" opacity="0.82" stroke-linejoin="round"/>
<path d="M210.8,216.1L203.9,203.1M203.0,203.1a0.9,0.9 0 1,0 1.8,0a0.9,0.9 0 1,0 -1.8,0zM203.9,203.1L196.6,193.2M195.7,193.2a0.9,0.9 0 1,0 1.8,0a0.9,0.9 0 1,0 -1.8,0zM196.6,193.2L195.1,190.2M194.2,190.2a0.9,0.9 0 1,0 1.8,0a0.9,0.9 0 1,0 -1.8,0zM195.1,190.2L189.7,175.2M188.8,175.2a0.9,0.9 0 1,0 1.8,0a0.9,0.9 0 1,0 -1.8,0zM189.7,175.2L179.3,164.6M178.4,164.6a0.9,0.9 0 1,0 1.8,0a0.9,0.9 0 1,0 -1.8,0z" fill="#1fc652" stroke="#1fc652" stroke-width="0.75" opacity="0.82" stroke-linejoin="round"/>
<path d="M179.3,164.6L179.8,161.1M178.9,161.1a0.9,0.9 0 1,0 1.8,0a0.9,0.9 0 1,0 -1.8,0zM179.8,161.1L177.6,155.5M176.7,155.5a0.9,0.9 0 1,0 1.8,0a0.9,0.9 0 1,0 -1.8,0z" fill="#3273e0" stroke="#3273e0" stroke-width="0.75" opacity="0.82" stroke-linejoin="round"/>
<path d="M177.6,155.5L181.0,150.7M180.1,150.7a0.9,0.9 0 1,0 1.8,0a0.9,0.9 0 1,0 -1.8,0zM181.0,150.7L186.2,150.3M185.3,150.3a0.9,0.9 0 1,0 1.8,0a0.9,0.9 0 1,0 -1.8,0zM186.2,150.3L190.2,145.8M189.3,145.8a0.9,0.9 0 1,0 1.8,0a0.9,0.9 0 1,0 -1.8,0zM190.2,145.8L198.5,134.8M197.6,134.8a0.9,0.9 0 1,0 1.8,0a0.9,0.9 0 1,0 -1.8,0zM198.5,134.8L208.7,130.7M207.8,130.7a0.9,0.9 0 1,0 1.8,0a0.9,0.9 0 1,0 -1.8,0zM208.7,130.7L216.0,118.4M215.1,118.4a0.9,0.9 0 1,0 1.8,0a0.9,0.9 0 1,0 -1.8,0zM216.0,118.4L226.1,110.9M225.2,110.9a0.9,0.9 0 1,0 1.8,0a0.9,0.9 0 1,0 -1.8,0z" fill="#d63636" stroke="#d63636" stroke-width="0.75" opacity="0.82" stroke-linejoin="round"/>
<path d="M211.2,208.6L205.7,201.3M204.8,201.3a0.9,0.9 0 1,0 1.8,0a0.9,0.9 0 1,0 -1.8,0zM205.7,201.3L202.9,197.6M202.0,197.6a0.9,0.9 0 1,0 1.8,0a0.9,0.9 0 1,0 -1.8,0zM202.9,197.6L195.2,193.6M194.3,193.6a0.9,0.9 0 1,0 1.8,0a0.9,0.9 0 1,0 -1.8,0zM195.2,193.6L191.3,183.3M190.4,183.3a0.9,0.9 0 1,0 1.8,0a0.9,0.9 0 1,0 -1.8,0z" fill="#1fc652" stroke="#1fc652" stroke-width="0.75" opacity="0.82" stroke-linejoin="round"/>
<path d="M191.3,183.3L191.0,180.9M190.1,180.9a0.9,0.9 0 1,0 1.8,0a0.9,0.9 0 1,0 -1.8,0zM191.0,180.9L180.2,171.2M179.3,171.2a0.9,0.9 0 1,0 1.8,0a0.9,0.9 0 1,0 -1.8,0zM180.2,171.2L175.5,163.0M174.6,163.0a0.9,0.9 0 1,0 1.8,0a0.9,0.9 0 1,0 -1.8,0zM175.5,163.0L177.0,159.4M176.1,159.4a0.9,0.9 0 1,0 1.8,0a0.9,0.9 0 1,0 -1.8,0zM177.0,159.4L173.6,154.7M172.7,154.7a0.9,0.9 0 1,0 1.8,0a0.9,0.9 0 1,0 -1.8,0zM173.6,154.7L178.8,153.2M177.9,153.2a0.9,0.9 0 1,0 1.8,0a0.9,0.9 0 1,0 -1.8,0zM178.8,153.2L176.3,146.3M175.4,146.3a0.9,0.9 0 1,0 1.8,0a0.9,0.9 0 1,0 -1.8,0zM176.3,146.3L186.2,138.9M185.3,138.9a0.9,0.9 0 1,0 1.8,0a0.9,0.9 0 1,0 -1.8,0z" fill="#3273e0" stroke="#3273e0" stroke-width="0.75" opacity="0.82" stroke-linejoin="round"/>
<path d="M186.2,138.9L192.6,136.7M191.7,136.7a0.9,0.9 0 1,0 1.8,0a0.9,0.9 0 1,0 -1.8,0zM192.6,136.7L195.6,128.6M194.7,128.6a0.9,0.9 0 1,0 1.8,0a0.9,0.9 0 1,0 -1.8,0zM195.6,128.6L206.5,120.3M205.6,120.3a0.9,0.9 0 1,0 1.8,0a0.9,0.9 0 1,0 -1.8,0zM206.5,120.3L213.4,114.9M212.5,114.9a0.9,0.9 0 1,0 1.8,0a0.9,0.9 0 1,0 -1.8,0zM213.4,114.9L221.3,108.1M220.4,108.1a0.9,0.9 0 1,0 1.8,0a0.9,0.9 0 1,0 -1.8,0z" fill="#d63636" stroke="#d63636" stroke-width="0.75" opacity="0.82" stroke-linejoin="round"/>
<path d="M214.2,211.7L206.7,206.7M205.8,206.7a0.9,0.9 0 1,0 1.8,0a0.9,0.9 0 1,0 -1.8,0zM206.7,206.7L201.6,202.8M200.7,202.8a0.9,0.9 0 1,0 1.8,0a0.9,0.9 0 1,0 -1.8,0zM201.6,202.8L195.4,189.8M194.5,189.8a0.9,0.9 0 1,0 1.8,0a0.9,0.9 0 1,0 -1.8,0zM195.4,189.8L190.0,179.0M189.1,179.0a0.9,0.9 0 1,0 1.8,0a0.9,0.9 0 1,0 -1.8,0z" fill="#1fc652" stroke="#1fc652" stroke-width="0.75" opacity="0.82" stroke-linejoin="round"/>
<path d="M190.0,179.0L185.2,172.9M184.3,172.9a0.9,0.9 0 1,0 1.8,0a0.9,0.9 0 1,0 -1.8,0zM185.2,172.9L178.7,167.7M177.8,167.7a0.9,0.9 0 1,0 1.8,0a0.9,0.9 0 1,0 -1.8,0zM178.7,167.7L172.4,156.4M171.5,156.4a0.9,0.9 0 1,0 1.8,0a0.9,0.9 0 1,0 -1.8,0zM172.4,156.4L178.6,154.9M177.7,154.9a0.9,0.9 0 1,0 1.8,0a0.9,0.9 0 1,0 -1.8,0zM178.6,154.9L182.5,150.1M181.6,150.1a0.9,0.9 0 1,0 1.8,0a0.9,0.9 0 1,0 -1.8,0zM260.8,82.2L269.1,74.9M268.2,74.9a0.9,0.9 0 1,0 1.8,0a0.9,0.9 0 1,0 -1.8,0zM269.1,74.9L272.4,62.4M271.5,62.4a0.9,0.9 0 1,0 1.8,0a0.9,0.9 0 1,0 -1.8,0zM272.4,62.4L277.0,45.9M276.1,45.9a0.9,0.9 0 1,0 1.8,0a0.9,0.9 0 1,0 -1.8,0zM277.0,45.9L278.6,34.4M277.7,34.4a0.9,0.9 0 1,0 1.8,0a0.9,0.9 0 1,0 -1.8,0z" fill="#3273e0" stroke="#3273e0" stroke-width="0.75" opacity="0.82" stroke-linejoin="round"/>
<path d="M182.5,150.1L191.3,144.9M190.4,144.9a0.9,0.9 0 1,0 1.8,0a0.9,0.9 0 1,0 -1.8,0zM191.3,144.9L201.7,138.7M200.8,138.7a0.9,0.9 0 1,0 1.8,0a0.9,0.9 0 1,0 -1.8,0zM201.7,138.7L219.3,126.7M218.4,126.7a0.9,0.9 0 1,0 1.8,0a0.9,0.9 0 1,0 -1.8,0zM219.3,126.7L229.6,115.4M228.7,115.4a0.9,0.9 0 1,0 1.8,0a0.9,0.9 0 1,0 -1.8,0zM229.6,115.4L235.1,110.3M234.2,110.3a0.9,0.9 0 1,0 1.8,0a0.9,0.9 0 1,0 -1.8,0zM235.1,110.3L252.1,96.1M251.2,96.1a0.9,0.9 0 1,0 1.8,0a0.9,0.9 0 1,0 -1.8,0zM252.1,96.1L260.8,82.2M259.9,82.2a0.9,0.9 0 1,0 1.8,0a0.9,0.9 0 1,0 -1.8,0z" fill="#d63636" stroke="#d63636" stroke-width="0.75" opacity="0.82" stroke-linejoin="round"/>
<path d="M209.6,216.2L196.5,214.4M195.6,214.4a0.9,0.9 0 1,0 1.8,0a0.9,0.9 0 1,0 -1.8,0zM196.5,214.4L195.1,204.4M194.2,204.4a0.9,0.9 0 1,0 1.8,0a0.9,0.9 0 1,0 -1.8,0zM195.1,204.4L186.8,198.6M185.9,198.6a0.9,0.9 0 1,0 1.8,0a0.9,0.9 0 1,0 -1.8,0zM186.8,198.6L178.6,192.4M177.7,192.4a0.9,0.9 0 1,0 1.8,0a0.9,0.9 0 1,0 -1.8,0zM178.6,192.4L180.6,189.0M179.7,189.0a0.9,0.9 0 1,0 1.8,0a0.9,0.9 0 1,0 -1.8,0zM180.6,189.0L171.8,186.8M170.9,186.8a0.9,0.9 0 1,0 1.8,0a0.9,0.9 0 1,0 -1.8,0z" fill="#1fc652" stroke="#1fc652" stroke-width="0.75" opacity="0.82" stroke-linejoin="round"/>
<path d="M171.8,186.8L171.3,182.5M170.4,182.5a0.9,0.9 0 1,0 1.8,0a0.9,0.9 0 1,0 -1.8,0zM171.3,182.5L156.1,169.8M155.2,169.8a0.9,0.9 0 1,0 1.8,0a0.9,0.9 0 1,0 -1.8,0zM156.1,169.8L149.9,158.7M149.0,158.7a0.9,0.9 0 1,0 1.8,0a0.9,0.9 0 1,0 -1.8,0zM149.9,158.7L153.8,146.9M152.9,146.9a0.9,0.9 0 1,0 1.8,0a0.9,0.9 0 1,0 -1.8,0zM153.8,146.9L161.8,137.6M160.9,137.6a0.9,0.9 0 1,0 1.8,0a0.9,0.9 0 1,0 -1.8,0zM161.8,137.6L171.7,132.6M170.8,132.6a0.9,0.9 0 1,0 1.8,0a0.9,0.9 0 1,0 -1.8,0zM171.7,132.6L172.8,125.3M171.9,125.3a0.9,0.9 0 1,0 1.8,0a0.9,0.9 0 1,0 -1.8,0zM172.8,125.3L183.2,115.3M182.3,115.3a0.9,0.9 0 1,0 1.8,0a0.9,0.9 0 1,0 -1.8,0zM183.2,115.3L187.1,109.6M186.2,109.6a0.9,0.9 0 1,0 1.8,0a0.9,0.9 0 1,0 -1.8,0zM187.1,109.6L193.7,103.6M192.8,103.6a0.9,0.9 0 1,0 1.8,0a0.9,0.9 0 1,0 -1.8,0z" fill="#3273e0" stroke="#3273e0" stroke-width="0.75" opacity="0.82" stroke-linejoin="round"/>
<path d="M213.0,219.2L204.4,206.8M203.5,206.8a0.9,0.9 0 1,0 1.8,0a0.9,0.9 0 1,0 -1.8,0zM204.4,206.8L186.9,184.6M186.0,184.6a0.9,0.9 0 1,0 1.8,0a0.9,0.9 0 1,0 -1.8,0z" fill="#1fc652" stroke="#1fc652" stroke-width="0.75" opacity="0.82" stroke-linejoin="round"/>
<path d="M186.9,184.6L174.1,169.4M173.2,169.4a0.9,0.9 0 1,0 1.8,0a0.9,0.9 0 1,0 -1.8,0zM174.1,169.4L172.7,154.6M171.8,154.6a0.9,0.9 0 1,0 1.8,0a0.9,0.9 0 1,0 -1.8,0zM229.9,90.2L249.7,72.6M248.8,72.6a0.9,0.9 0 1,0 1.8,0a0.9,0.9 0 1,0 -1.8,0zM249.7,72.6L250.1,49.5M249.2,49.5a0.9,0.9 0 1,0 1.8,0a0.9,0.9 0 1,0 -1.8,0zM250.1,49.5L262.2,27.7M261.3,27.7a0.9,0.9 0 1,0 1.8,0a0.9,0.9 0 1,0 -1.8,0z" fill="#3273e0" stroke="#3273e0" stroke-width="0.75" opacity="0.82" stroke-linejoin="round"/>
<path d="M172.7,154.6L177.8,139.8M176.9,139.8a0.9,0.9 0 1,0 1.8,0a0.9,0.9 0 1,0 -1.8,0zM177.8,139.8L195.1,123.6M194.2,123.6a0.9,0.9 0 1,0 1.8,0a0.9,0.9 0 1,0 -1.8,0zM195.1,123.6L213.6,106.1M212.7,106.1a0.9,0.9 0 1,0 1.8,0a0.9,0.9 0 1,0 -1.8,0zM213.6,106.1L229.9,90.2M229.0,90.2a0.9,0.9 0 1,0 1.8,0a0.9,0.9 0 1,0 -1.8,0z" fill="#d63636" stroke="#d63636" stroke-width="0.75" opacity="0.82" stroke-linejoin="round"/>
<path d="M207.3,217.3L201.6,210.0M200.7,210.0a0.9,0.9 0 1,0 1.8,0a0.9,0.9 0 1,0 -1.8,0zM201.6,210.0L199.9,205.5M199.0,205.5a0.9,0.9 0 1,0 1.8,0a0.9,0.9 0 1,0 -1.8,0zM199.9,205.5L188.7,202.5M187.8,202.5a0.9,0.9 0 1,0 1.8,0a0.9,0.9 0 1,0 -1.8,0zM188.7,202.5L182.9,190.9M182.0,190.9a0.9,0.9 0 1,0 1.8,0a0.9,0.9 0 1,0 -1.8,0z" fill="#1fc652" stroke="#1fc652" stroke-width="0.75" opacity="0.82" stroke-linejoin="round"/>
<path d="M182.9,190.9L174.2,181.8M173.3,181.8a0.9,0.9 0 1,0 1.8,0a0.9,0.9 0 1,0 -1.8,0zM174.2,181.8L163.9,176.5M163.0,176.5a0.9,0.9 0 1,0 1.8,0a0.9,0.9 0 1,0 -1.8,0zM163.9,176.5L160.1,169.7M159.2,169.7a0.9,0.9 0 1,0 1.8,0a0.9,0.9 0 1,0 -1.8,0zM160.1,169.7L159.4,152.5M158.5,152.5a0.9,0.9 0 1,0 1.8,0a0.9,0.9 0 1,0 -1.8,0zM159.4,152.5L162.0,144.9M161.1,144.9a0.9,0.9 0 1,0 1.8,0a0.9,0.9 0 1,0 -1.8,0z" fill="#3273e0" stroke="#3273e0" stroke-width="0.75" opacity="0.82" stroke-linejoin="round"/>
<path d="M162.0,144.9L166.5,132.8M165.6,132.8a0.9,0.9 0 1,0 1.8,0a0.9,0.9 0 1,0 -1.8,0zM166.5,132.8L179.4,130.1M178.5,130.1a0.9,0.9 0 1,0 1.8,0a0.9,0.9 0 1,0 -1.8,0zM179.4,130.1L185.9,124.3M185.0,124.3a0.9,0.9 0 1,0 1.8,0a0.9,0.9 0 1,0 -1.8,0zM185.9,124.3L195.6,111.8M194.7,111.8a0.9,0.9 0 1,0 1.8,0a0.9,0.9 0 1,0 -1.8,0zM195.6,111.8L202.5,105.2M201.6,105.2a0.9,0.9 0 1,0 1.8,0a0.9,0.9 0 1,0 -1.8,0z" fill="#d63636" stroke="#d63636" stroke-width="0.75" opacity="0.82" stroke-linejoin="round"/>
<path d="M204.9,219.8L198.3,213.8M197.4,213.8a0.9,0.9 0 1,0 1.8,0a0.9,0.9 0 1,0 -1.8,0zM198.3,213.8L188.7,200.8M187.8,200.8a0.9,0.9 0 1,0 1.8,0a0.9,0.9 0 1,0 -1.8,0zM188.7,200.8L181.2,196.9M180.3,196.9a0.9,0.9 0 1,0 1.8,0a0.9,0.9 0 1,0 -1.8,0zM181.2,196.9L179.1,186.5M178.2,186.5a0.9,0.9 0 1,0 1.8,0a0.9,0.9 0 1,0 -1.8,0zM179.1,186.5L159.5,183.6M158.6,183.6a0.9,0.9 0 1,0 1.8,0a0.9,0.9 0 1,0 -1.8,0zM159.5,183.6L154.3,169.2M153.4,169.2a0.9,0.9 0 1,0 1.8,0a0.9,0.9 0 1,0 -1.8,0z" fill="#1fc652" stroke="#1fc652" stroke-width="0.75" opacity="0.82" stroke-linejoin="round"/>
<path d="M154.3,169.2L153.2,157.9M152.3,157.9a0.9,0.9 0 1,0 1.8,0a0.9,0.9 0 1,0 -1.8,0zM153.2,157.9L153.3,145.9M152.4,145.9a0.9,0.9 0 1,0 1.8,0a0.9,0.9 0 1,0 -1.8,0zM153.3,145.9L163.4,132.1M162.5,132.1a0.9,0.9 0 1,0 1.8,0a0.9,0.9 0 1,0 -1.8,0zM163.4,132.1L169.6,119.9M168.7,119.9a0.9,0.9 0 1,0 1.8,0a0.9,0.9 0 1,0 -1.8,0zM169.6,119.9L182.8,111.4M181.9,111.4a0.9,0.9 0 1,0 1.8,0a0.9,0.9 0 1,0 -1.8,0zM182.8,111.4L189.8,101.6M188.9,101.6a0.9,0.9 0 1,0 1.8,0a0.9,0.9 0 1,0 -1.8,0zM189.8,101.6L200.9,88.4M200.0,88.4a0.9,0.9 0 1,0 1.8,0a0.9,0.9 0 1,0 -1.8,0zM200.9,88.4L209.7,74.2M208.8,74.2a0.9,0.9 0 1,0 1.8,0a0.9,0.9 0 1,0 -1.8,0zM209.7,74.2L211.3,70.9M210.4,70.9a0.9,0.9 0 1,0 1.8,0a0.9,0.9 0 1,0 -1.8,0zM211.3,70.9L220.6,57.5M219.7,57.5a0.9,0.9 0 1,0 1.8,0a0.9,0.9 0 1,0 -1.8,0zM220.6,57.5L226.3,42.4M225.4,42.4a0.9,0.9 0 1,0 1.8,0a0.9,0.9 0 1,0 -1.8,0zM226.3,42.4L224.7,36.7M223.8,36.7a0.9,0.9 0 1,0 1.8,0a0.9,0.9 0 1,0 -1.8,0z" fill="#3273e0" stroke="#3273e0" stroke-width="0.75" opacity="0.82" stroke-linejoin="round"/>
<path d="M207.3,216.6L206.6,210.5M205.7,210.5a0.9,0.9 0 1,0 1.8,0a0.9,0.9 0 1,0 -1.8,0zM206.6,210.5L200.0,209.4M199.1,209.4a0.9,0.9 0 1,0 1.8,0a0.9,0.9 0 1,0 -1.8,0zM200.0,209.4L193.2,196.2M192.3,196.2a0.9,0.9 0 1,0 1.8,0a0.9,0.9 0 1,0 -1.8,0zM193.2,196.2L191.2,191.1M190.3,191.1a0.9,0.9 0 1,0 1.8,0a0.9,0.9 0 1,0 -1.8,0zM191.2,191.1L183.0,187.9M182.1,187.9a0.9,0.9 0 1,0 1.8,0a0.9,0.9 0 1,0 -1.8,0zM183.0,187.9L182.6,180.9M181.7,180.9a0.9,0.9 0 1,0 1.8,0a0.9,0.9 0 1,0 -1.8,0zM182.6,180.9L178.2,178.5M177.3,178.5a0.9,0.9 0 1,0 1.8,0a0.9,0.9 0 1,0 -1.8,0z" fill="#1fc652" stroke="#1fc652" stroke-width="0.75" opacity="0.82" stroke-linejoin="round"/>
<path d="M178.2,178.5L167.3,173.1M166.4,173.1a0.9,0.9 0 1,0 1.8,0a0.9,0.9 0 1,0 -1.8,0zM167.3,173.1L168.2,166.4M167.3,166.4a0.9,0.9 0 1,0 1.8,0a0.9,0.9 0 1,0 -1.8,0zM168.2,166.4L168.6,159.0M167.7,159.0a0.9,0.9 0 1,0 1.8,0a0.9,0.9 0 1,0 -1.8,0zM168.6,159.0L166.4,148.5M165.5,148.5a0.9,0.9 0 1,0 1.8,0a0.9,0.9 0 1,0 -1.8,0zM166.4,148.5L169.0,147.5M168.1,147.5a0.9,0.9 0 1,0 1.8,0a0.9,0.9 0 1,0 -1.8,0zM169.0,147.5L175.2,142.8M174.3,142.8a0.9,0.9 0 1,0 1.8,0a0.9,0.9 0 1,0 -1.8,0zM175.2,142.8L179.2,137.9M178.3,137.9a0.9,0.9 0 1,0 1.8,0a0.9,0.9 0 1,0 -1.8,0zM179.2,137.9L187.5,129.5M186.6,129.5a0.9,0.9 0 1,0 1.8,0a0.9,0.9 0 1,0 -1.8,0zM187.5,129.5L190.4,124.6M189.5,124.6a0.9,0.9 0 1,0 1.8,0a0.9,0.9 0 1,0 -1.8,0zM190.4,124.6L197.5,121.2M196.6,121.2a0.9,0.9 0 1,0 1.8,0a0.9,0.9 0 1,0 -1.8,0zM197.5,121.2L203.4,111.5M202.5,111.5a0.9,0.9 0 1,0 1.8,0a0.9,0.9 0 1,0 -1.8,0zM203.4,111.5L212.0,106.1M211.1,106.1a0.9,0.9 0 1,0 1.8,0a0.9,0.9 0 1,0 -1.8,0z" fill="#3273e0" stroke="#3273e0" stroke-width="0.75" opacity="0.82" stroke-linejoin="round"/>
<path d="M215.3,218.3L202.7,197.2M201.8,197.2a0.9,0.9 0 1,0 1.8,0a0.9,0.9 0 1,0 -1.8,0zM202.7,197.2L190.6,187.4M189.7,187.4a0.9,0.9 0 1,0 1.8,0a0.9,0.9 0 1,0 -1.8,0zM269.9,73.3L282.2,59.0M281.3,59.0a0.9,0.9 0 1,0 1.8,0a0.9,0.9 0 1,0 -1.8,0z" fill="#1fc652" stroke="#1fc652" stroke-width="0.75" opacity="0.82" stroke-linejoin="round"/>
<path d="M190.6,187.4L176.9,171.5M176.0,171.5a0.9,0.9 0 1,0 1.8,0a0.9,0.9 0 1,0 -1.8,0zM176.9,171.5L175.1,159.0M174.2,159.0a0.9,0.9 0 1,0 1.8,0a0.9,0.9 0 1,0 -1.8,0zM231.1,120.1L253.2,99.0M252.3,99.0a0.9,0.9 0 1,0 1.8,0a0.9,0.9 0 1,0 -1.8,0zM253.2,99.0L269.9,73.3M269.0,73.3a0.9,0.9 0 1,0 1.8,0a0.9,0.9 0 1,0 -1.8,0zM282.2,59.0L291.1,38.2M290.2,38.2a0.9,0.9 0 1,0 1.8,0a0.9,0.9 0 1,0 -1.8,0z" fill="#3273e0" stroke="#3273e0" stroke-width="0.75" opacity="0.82" stroke-linejoin="round"/>
<path d="M175.1,159.0L183.0,149.3M182.1,149.3a0.9,0.9 0 1,0 1.8,0a0.9,0.9 0 1,0 -1.8,0zM183.0,149.3L191.4,138.4M190.5,138.4a0.9,0.9 0 1,0 1.8,0a0.9,0.9 0 1,0 -1.8,0zM191.4,138.4L207.3,129.6M206.4,129.6a0.9,0.9 0 1,0 1.8,0a0.9,0.9 0 1,0 -1.8,0zM207.3,129.6L231.1,120.1M230.2,120.1a0.9,0.9 0 1,0 1.8,0a0.9,0.9 0 1,0 -1.8,0z" fill="#d63636" stroke="#d63636" stroke-width="0.75" opacity="0.82" stroke-linejoin="round"/>
<path d="M150,170L142,160M142,160L140,150M140,150L143,138M143,138L161,113M161,113L178,100M178,100L186,76M152,165L146,150M146,150L146,135M146,135L165,120M165,120L190,108M190,108L203,88M203,88L214,58M148,180L138,172M138,172L135,160M135,160L135,142M135,142L145,130M145,130L160,118M160,175L150,168M150,168L142,175M142,175L138,190M175,160L165,150M165,150L158,135M158,135L165,122M165,122L185,110M185,110L205,95M205,95L225,60M225,60L240,37M20,237L28,246L40,254L58,268L66,277" fill="none" stroke="#3273e0" stroke-width="0.9" opacity="0.8" stroke-linejoin="round"/>
<path d="M140.9,158.9h2.2v2.2h-2.2zM138.9,148.9h2.2v2.2h-2.2zM141.9,136.9h2.2v2.2h-2.2zM159.9,111.9h2.2v2.2h-2.2zM176.9,98.9h2.2v2.2h-2.2zM184.9,74.9h2.2v2.2h-2.2zM144.9,148.9h2.2v2.2h-2.2zM144.9,133.9h2.2v2.2h-2.2zM163.9,118.9h2.2v2.2h-2.2zM188.9,106.9h2.2v2.2h-2.2zM201.9,86.9h2.2v2.2h-2.2zM212.9,56.9h2.2v2.2h-2.2zM136.9,170.9h2.2v2.2h-2.2zM133.9,158.9h2.2v2.2h-2.2zM133.9,140.9h2.2v2.2h-2.2zM143.9,128.9h2.2v2.2h-2.2zM158.9,116.9h2.2v2.2h-2.2zM148.9,166.9h2.2v2.2h-2.2zM140.9,173.9h2.2v2.2h-2.2zM136.9,188.9h2.2v2.2h-2.2zM163.9,148.9h2.2v2.2h-2.2zM156.9,133.9h2.2v2.2h-2.2zM163.9,120.9h2.2v2.2h-2.2zM183.9,108.9h2.2v2.2h-2.2zM203.9,93.9h2.2v2.2h-2.2zM223.9,58.9h2.2v2.2h-2.2zM238.9,35.9h2.2v2.2h-2.2z" fill="#3273e0" opacity="0.8"/>
</g>
<path d="M548.7,341.8L561.2,352.8L551,371 M552,344L581.6,353.6L603.6,359.1 M556,347L600,355L635,356.7 M11.8,49L19.6,52 M15,262L19,263 M16,277L19,276" fill="none" stroke="#b4b4b4" stroke-width="0.8"/>
<path d="M12,259L19,266 M12,272L20,265 M13,284L19,279" fill="none" stroke="#3fd070" stroke-width="0.8"/>
<rect x="19.0" y="37.0" width="722.1" height="316.2" fill="none" stroke="#000" stroke-width="2"/>
<g font-family="'Liberation Sans',sans-serif" font-size="13.4" fill="#222" stroke="#222" stroke-width="0.35"><line x1="99.3" y1="353.2" x2="99.3" y2="357.2" stroke="#555" stroke-width="0.9"/><text x="85.7" y="367.8" textLength="27.4" lengthAdjust="spacingAndGlyphs">100W</text><line x1="259.8" y1="353.2" x2="259.8" y2="357.2" stroke="#555" stroke-width="0.9"/><text x="249.6" y="367.8" textLength="20.6" lengthAdjust="spacingAndGlyphs">90W</text><line x1="420.3" y1="353.2" x2="420.3" y2="357.2" stroke="#555" stroke-width="0.9"/><text x="410.1" y="367.8" textLength="20.6" lengthAdjust="spacingAndGlyphs">80W</text><line x1="580.8" y1="353.2" x2="580.8" y2="357.2" stroke="#555" stroke-width="0.9"/><text x="570.6" y="367.8" textLength="20.6" lengthAdjust="spacingAndGlyphs">70W</text><line x1="741.3" y1="353.2" x2="741.3" y2="357.2" stroke="#555" stroke-width="0.9"/><text x="731.1" y="367.8" textLength="20.6" lengthAdjust="spacingAndGlyphs">60W</text><line x1="741.1" y1="86.2" x2="745.1" y2="86.2" stroke="#555" stroke-width="0.9"/><text x="747.3" y="90.7" textLength="21.4" lengthAdjust="spacingAndGlyphs">30N</text><line x1="741.1" y1="156.6" x2="745.1" y2="156.6" stroke="#555" stroke-width="0.9"/><text x="747.3" y="161.1" textLength="21.4" lengthAdjust="spacingAndGlyphs">25N</text><line x1="741.1" y1="226.9" x2="745.1" y2="226.9" stroke="#555" stroke-width="0.9"/><text x="747.3" y="231.4" textLength="21.4" lengthAdjust="spacingAndGlyphs">20N</text><line x1="741.1" y1="297.2" x2="745.1" y2="297.2" stroke="#555" stroke-width="0.9"/><text x="747.3" y="301.8" textLength="21.4" lengthAdjust="spacingAndGlyphs">15N</text></g>
<g font-family="'Liberation Sans',sans-serif" font-weight="bold" font-size="11.8" fill="#2e2e2e"><text x="26.3" y="16.7" textLength="301.5" lengthAdjust="spacing">ECMWF EPS | Cyclone Locations --&gt; Next [5-days]</text><text x="26.3" y="30.4" textLength="348.6" lengthAdjust="spacing">FORECAST INIT: 00Z09SEP2024 --&gt; UNTIL 00Z14SEP2024</text></g>
<text x="542" y="12.5" font-family="'Liberation Sans',sans-serif" font-size="8.5" font-weight="normal" fill="#a5a5a5" textLength="60" lengthAdjust="spacingAndGlyphs">o-o &gt; 1005 hPa</text>
<text x="542" y="20.8" font-family="'Liberation Sans',sans-serif" font-size="8.5" font-weight="bold" fill="#1fbf4a" textLength="79" lengthAdjust="spacingAndGlyphs">o-o 1000 - 1005 hPa</text>
<text x="542" y="29.1" font-family="'Liberation Sans',sans-serif" font-size="8.5" font-weight="bold" fill="#3f78e0" textLength="70" lengthAdjust="spacingAndGlyphs">o-o 980 - 999 hPa</text>
<text x="666" y="12.5" font-family="'Liberation Sans',sans-serif" font-size="8.5" font-weight="bold" fill="#e03535" textLength="71" lengthAdjust="spacingAndGlyphs">o-o 960 - 979 hPa</text>
<text x="666" y="20.8" font-family="'Liberation Sans',sans-serif" font-size="8.5" font-weight="normal" fill="#ee7c7c" textLength="71" lengthAdjust="spacingAndGlyphs">o-o 950 - 959 hPa</text>
<text x="666" y="29.1" font-family="'Liberation Sans',sans-serif" font-size="8.5" font-weight="bold" fill="#ee22ee" textLength="55" lengthAdjust="spacingAndGlyphs">o-o &lt; 950 hPa</text>
<text x="609" y="374.6" font-family="'Liberation Sans',sans-serif" font-weight="bold" font-size="12" fill="#5050ff" textLength="118" lengthAdjust="spacingAndGlyphs">weathermodels.com</text>
<text x="26.3" y="396.3" font-family="'Liberation Sans',sans-serif" font-weight="bold" font-size="14.4" fill="#000" textLength="721" lengthAdjust="spacingAndGlyphs">This is the ECMWF 51 ensemble forecast. The storm tracks that are in red are stronger central pressure</text>
</svg>
</figure>
<figure class="panel" id="chart-panel">
<svg width="1540" height="535" viewBox="0 0 1540 535">
<rect x="844.5" y="226.3" width="576.0" height="119.7" fill="#a1ffb4"/>
<rect x="844.5" y="150.5" width="576.0" height="75.8" fill="#ffffb3"/>
<rect x="844.5" y="98.7" width="576.0" height="51.9" fill="#ffdcb0"/>
<rect x="844.5" y="62.7" width="576.0" height="36.0" fill="#ffb0b0"/>
<line x1="844.5" y1="346.0" x2="1420.5" y2="346.0" stroke="#7fdc9c" stroke-width="1.1" stroke-dasharray="4.1,1.9"/>
<line x1="844.5" y1="226.3" x2="1420.5" y2="226.3" stroke="#b4c078" stroke-width="1.1" stroke-dasharray="4.1,1.9"/>
<line x1="844.5" y1="150.5" x2="1420.5" y2="150.5" stroke="#cda87a" stroke-width="1.1" stroke-dasharray="4.1,1.9"/>
<line x1="844.5" y1="98.7" x2="1420.5" y2="98.7" stroke="#dc8682" stroke-width="1.1" stroke-dasharray="4.1,1.9"/>
<text x="851" y="337.6" font-family="'DejaVu Sans',sans-serif" font-weight="bold" font-size="11.85" fill="#1fae55">TS</text>
<text x="851" y="217.9" font-family="'DejaVu Sans',sans-serif" font-weight="bold" font-size="11.85" fill="#a9ad5c">Cat 1</text>
<text x="851" y="142.1" font-family="'DejaVu Sans',sans-serif" font-weight="bold" font-size="11.85" fill="#a9804f">Cat 2</text>
<text x="851" y="90.2" font-family="'DejaVu Sans',sans-serif" font-weight="bold" font-size="11.85" fill="#b23b3b">Cat 3</text>
<clipPath id="cc"><rect x="844.5" y="62.5" width="576.0" height="419.0"/></clipPath>
<g clip-path="url(#cc)"><path d="M844.5,302.1 L882.9,242.3 L921.3,182.4" fill="none" stroke="#ff6a33" stroke-width="1.35" stroke-linejoin="round" opacity="0.85"/><g fill="#ff6a33"><circle cx="882.9" cy="242.3" r="2.2"/><circle cx="921.3" cy="182.4" r="2.2"/></g><path d="M844.5,302.1 L882.9,250.3 L921.3,202.4" fill="none" stroke="#0f9d78" stroke-width="1.35" stroke-linejoin="round" opacity="0.85"/><g fill="#0f9d78"><circle cx="882.9" cy="250.3" r="2.2"/><circle cx="921.3" cy="202.4" r="2.2"/></g><path d="M844.5,302.1 L882.9,274.2 L921.3,254.3" fill="none" stroke="#0b4d1c" stroke-width="1.35" stroke-linejoin="round" opacity="0.85"/><g fill="#0b4d1c"><circle cx="882.9" cy="274.2" r="2.2"/><circle cx="921.3" cy="254.3" r="2.2"/></g><path d="M844.5,302.1 L882.9,262.2 L921.3,226.3 L959.7,150.5 L998.1,122.6 L1036.5,222.3 L1074.9,330.1 L1113.3,358.0 L1151.7,389.9 L1190.1,413.9 L1228.5,429.8 L1266.9,445.8" fill="none" stroke="#0f9d78" stroke-width="1.35" stroke-linejoin="round" opacity="0.85"/><g fill="#0f9d78"><circle cx="882.9" cy="262.2" r="2.2"/><circle cx="921.3" cy="226.3" r="2.2"/><circle cx="959.7" cy="150.5" r="2.2"/><circle cx="998.1" cy="122.6" r="2.2"/><circle cx="1036.5" cy="222.3" r="2.2"/><circle cx="1074.9" cy="330.1" r="2.2"/><circle cx="1113.3" cy="358.0" r="2.2"/><circle cx="1151.7" cy="389.9" r="2.2"/><circle cx="1190.1" cy="413.9" r="2.2"/><circle cx="1228.5" cy="429.8" r="2.2"/><circle cx="1266.9" cy="445.8" r="2.2"/></g><path d="M844.5,302.1 L882.9,266.2 L921.3,250.3 L959.7,150.5 L998.1,142.5 L1036.5,234.3 L1074.9,330.1 L1113.3,342.0 L1151.7,342.0 L1190.1,350.0 L1228.5,370.0" fill="none" stroke="#2aa9d4" stroke-width="1.35" stroke-linejoin="round" opacity="0.85"/><g fill="#2aa9d4"><circle cx="882.9" cy="266.2" r="2.2"/><circle cx="921.3" cy="250.3" r="2.2"/><circle cx="959.7" cy="150.5" r="2.2"/><circle cx="998.1" cy="142.5" r="2.2"/><circle cx="1036.5" cy="234.3" r="2.2"/><circle cx="1074.9" cy="330.1" r="2.2"/><circle cx="1113.3" cy="342.0" r="2.2"/><circle cx="1151.7" cy="342.0" r="2.2"/><circle cx="1190.1" cy="350.0" r="2.2"/><circle cx="1228.5" cy="370.0" r="2.2"/></g><path d="M844.5,302.1 L882.9,266.2 L921.3,246.3 L959.7,194.4 L998.1,146.5 L1036.5,242.3 L1074.9,370.0 L1113.3,393.9 L1151.7,405.9 L1190.1,405.9 L1228.5,397.9" fill="none" stroke="#1f60a5" stroke-width="1.35" stroke-linejoin="round" opacity="0.85"/><g fill="#1f60a5"><circle cx="882.9" cy="266.2" r="2.2"/><circle cx="921.3" cy="246.3" r="2.2"/><circle cx="959.7" cy="194.4" r="2.2"/><circle cx="998.1" cy="146.5" r="2.2"/><circle cx="1036.5" cy="242.3" r="2.2"/><circle cx="1074.9" cy="370.0" r="2.2"/><circle cx="1113.3" cy="393.9" r="2.2"/><circle cx="1151.7" cy="405.9" r="2.2"/><circle cx="1190.1" cy="405.9" r="2.2"/><circle cx="1228.5" cy="397.9" r="2.2"/></g><path d="M844.5,302.1 L882.9,294.2 L921.3,262.2 L959.7,202.4 L998.1,154.5 L1036.5,230.3 L1074.9,302.1 L1113.3,354.0 L1151.7,393.9 L1190.1,421.8 L1228.5,441.8 L1266.9,465.7" fill="none" stroke="#6a1b9a" stroke-width="1.35" stroke-linejoin="round" opacity="0.85"/><g fill="#6a1b9a"><circle cx="882.9" cy="294.2" r="2.2"/><circle cx="921.3" cy="262.2" r="2.2"/><circle cx="959.7" cy="202.4" r="2.2"/><circle cx="998.1" cy="154.5" r="2.2"/><circle cx="1036.5" cy="230.3" r="2.2"/><circle cx="1074.9" cy="302.1" r="2.2"/><circle cx="1113.3" cy="354.0" r="2.2"/><circle cx="1151.7" cy="393.9" r="2.2"/><circle cx="1190.1" cy="421.8" r="2.2"/><circle cx="1228.5" cy="441.8" r="2.2"/><circle cx="1266.9" cy="465.7" r="2.2"/></g><path d="M844.5,302.1 L882.9,274.2 L921.3,242.3 L959.7,206.4 L998.1,174.5 L1036.5,178.5 L1074.9,194.4 L1113.3,230.3 L1151.7,294.2 L1190.1,346.0 L1228.5,370.0" fill="none" stroke="#0f9d78" stroke-width="1.35" stroke-linejoin="round" opacity="0.85"/><g fill="#0f9d78"><circle cx="882.9" cy="274.2" r="2.2"/><circle cx="921.3" cy="242.3" r="2.2"/><circle cx="959.7" cy="206.4" r="2.2"/><circle cx="998.1" cy="174.5" r="2.2"/><circle cx="1036.5" cy="178.5" r="2.2"/><circle cx="1074.9" cy="194.4" r="2.2"/><circle cx="1113.3" cy="230.3" r="2.2"/><circle cx="1151.7" cy="294.2" r="2.2"/><circle cx="1190.1" cy="346.0" r="2.2"/><circle cx="1228.5" cy="370.0" r="2.2"/></g><path d="M844.5,302.1 L882.9,282.2 L921.3,254.3 L959.7,222.3 L998.1,182.4 L1036.5,182.4 L1074.9,302.1 L1113.3,346.0 L1151.7,374.0 L1190.1,389.9 L1228.5,401.9" fill="none" stroke="#000000" stroke-width="1.35" stroke-linejoin="round" opacity="0.85"/><g fill="#000000"><circle cx="882.9" cy="282.2" r="2.2"/><circle cx="921.3" cy="254.3" r="2.2"/><circle cx="959.7" cy="222.3" r="2.2"/><circle cx="998.1" cy="182.4" r="2.2"/><circle cx="1036.5" cy="182.4" r="2.2"/><circle cx="1074.9" cy="302.1" r="2.2"/><circle cx="1113.3" cy="346.0" r="2.2"/><circle cx="1151.7" cy="374.0" r="2.2"/><circle cx="1190.1" cy="389.9" r="2.2"/><circle cx="1228.5" cy="401.9" r="2.2"/></g><path d="M844.5,302.1 L882.9,278.2 L921.3,266.2 L959.7,226.3 L998.1,186.4 L1036.5,234.3 L1074.9,334.1 L1113.3,358.0 L1151.7,378.0 L1190.1,393.9 L1228.5,393.9" fill="none" stroke="#2aa9d4" stroke-width="1.35" stroke-linejoin="round" opacity="0.85"/><g fill="#2aa9d4"><circle cx="882.9" cy="278.2" r="2.2"/><circle cx="921.3" cy="266.2" r="2.2"/><circle cx="959.7" cy="226.3" r="2.2"/><circle cx="998.1" cy="186.4" r="2.2"/><circle cx="1036.5" cy="234.3" r="2.2"/><circle cx="1074.9" cy="334.1" r="2.2"/><circle cx="1113.3" cy="358.0" r="2.2"/><circle cx="1151.7" cy="378.0" r="2.2"/><circle cx="1190.1" cy="393.9" r="2.2"/><circle cx="1228.5" cy="393.9" r="2.2"/></g><path d="M844.5,302.1 L882.9,290.2 L921.3,270.2 L959.7,234.3 L998.1,190.4 L1036.5,218.4 L1074.9,322.1 L1113.3,350.0 L1151.7,370.0 L1190.1,374.0 L1228.5,370.0" fill="none" stroke="#0b4d1c" stroke-width="1.35" stroke-linejoin="round" opacity="0.85"/><g fill="#0b4d1c"><circle cx="882.9" cy="290.2" r="2.2"/><circle cx="921.3" cy="270.2" r="2.2"/><circle cx="959.7" cy="234.3" r="2.2"/><circle cx="998.1" cy="190.4" r="2.2"/><circle cx="1036.5" cy="218.4" r="2.2"/><circle cx="1074.9" cy="322.1" r="2.2"/><circle cx="1113.3" cy="350.0" r="2.2"/><circle cx="1151.7" cy="370.0" r="2.2"/><circle cx="1190.1" cy="374.0" r="2.2"/><circle cx="1228.5" cy="370.0" r="2.2"/></g><path d="M844.5,302.1 L882.9,286.2 L921.3,258.3 L959.7,238.3 L998.1,222.3 L1036.5,250.3 L1074.9,306.1 L1113.3,346.0 L1151.7,381.9 L1190.1,401.9 L1228.5,417.9" fill="none" stroke="#000000" stroke-width="1.35" stroke-linejoin="round" opacity="0.85"/><g fill="#000000"><circle cx="882.9" cy="286.2" r="2.2"/><circle cx="921.3" cy="258.3" r="2.2"/><circle cx="959.7" cy="238.3" r="2.2"/><circle cx="998.1" cy="222.3" r="2.2"/><circle cx="1036.5" cy="250.3" r="2.2"/><circle cx="1074.9" cy="306.1" r="2.2"/><circle cx="1113.3" cy="346.0" r="2.2"/><circle cx="1151.7" cy="381.9" r="2.2"/><circle cx="1190.1" cy="401.9" r="2.2"/><circle cx="1228.5" cy="417.9" r="2.2"/></g><path d="M844.5,302.1 L882.9,278.2 L921.3,274.2 L959.7,254.3 L998.1,214.4 L1036.5,246.3 L1074.9,342.0 L1113.3,370.0 L1151.7,385.9 L1190.1,401.9 L1228.5,413.9 L1266.9,445.8" fill="none" stroke="#555555" stroke-width="1.35" stroke-linejoin="round" opacity="0.85"/><g fill="#555555"><circle cx="882.9" cy="278.2" r="2.2"/><circle cx="921.3" cy="274.2" r="2.2"/><circle cx="959.7" cy="254.3" r="2.2"/><circle cx="998.1" cy="214.4" r="2.2"/><circle cx="1036.5" cy="246.3" r="2.2"/><circle cx="1074.9" cy="342.0" r="2.2"/><circle cx="1113.3" cy="370.0" r="2.2"/><circle cx="1151.7" cy="385.9" r="2.2"/><circle cx="1190.1" cy="401.9" r="2.2"/><circle cx="1228.5" cy="413.9" r="2.2"/><circle cx="1266.9" cy="445.8" r="2.2"/></g><path d="M844.5,302.1 L882.9,282.2 L921.3,282.2 L959.7,262.2 L998.1,234.3 L1036.5,266.2 L1074.9,346.0 L1113.3,358.0 L1151.7,378.0 L1190.1,385.9 L1228.5,385.9" fill="none" stroke="#0f9d78" stroke-width="1.35" stroke-linejoin="round" opacity="0.85"/><g fill="#0f9d78"><circle cx="882.9" cy="282.2" r="2.2"/><circle cx="921.3" cy="282.2" r="2.2"/><circle cx="959.7" cy="262.2" r="2.2"/><circle cx="998.1" cy="234.3" r="2.2"/><circle cx="1036.5" cy="266.2" r="2.2"/><circle cx="1074.9" cy="346.0" r="2.2"/><circle cx="1113.3" cy="358.0" r="2.2"/><circle cx="1151.7" cy="378.0" r="2.2"/><circle cx="1190.1" cy="385.9" r="2.2"/><circle cx="1228.5" cy="385.9" r="2.2"/></g><path d="M844.5,302.1 L882.9,286.2 L921.3,278.2 L959.7,258.3 L998.1,234.3 L1036.5,262.2 L1074.9,338.1 L1113.3,366.0 L1151.7,401.9 L1190.1,413.9 L1228.5,425.8 L1266.9,445.8" fill="none" stroke="#0f9d78" stroke-width="1.35" stroke-linejoin="round" opacity="0.85"/><g fill="#0f9d78"><circle cx="882.9" cy="286.2" r="2.2"/><circle cx="921.3" cy="278.2" r="2.2"/><circle cx="959.7" cy="258.3" r="2.2"/><circle cx="998.1" cy="234.3" r="2.2"/><circle cx="1036.5" cy="262.2" r="2.2"/><circle cx="1074.9" cy="338.1" r="2.2"/><circle cx="1113.3" cy="366.0" r="2.2"/><circle cx="1151.7" cy="401.9" r="2.2"/><circle cx="1190.1" cy="413.9" r="2.2"/><circle cx="1228.5" cy="425.8" r="2.2"/><circle cx="1266.9" cy="445.8" r="2.2"/></g><path d="M844.5,302.1 L882.9,298.2 L921.3,294.2 L959.7,274.2 L998.1,234.3 L1036.5,278.2 L1074.9,330.1 L1113.3,362.0 L1151.7,385.9 L1190.1,409.9 L1228.5,429.8 L1266.9,433.8 L1305.3,429.8 L1343.7,433.8 L1382.1,429.8" fill="none" stroke="#ff3030" stroke-width="1.35" stroke-linejoin="round" opacity="0.85"/><g fill="#ff3030"><circle cx="882.9" cy="298.2" r="2.2"/><circle cx="921.3" cy="294.2" r="2.2"/><circle cx="959.7" cy="274.2" r="2.2"/><circle cx="998.1" cy="234.3" r="2.2"/><circle cx="1036.5" cy="278.2" r="2.2"/><circle cx="1074.9" cy="330.1" r="2.2"/><circle cx="1113.3" cy="362.0" r="2.2"/><circle cx="1151.7" cy="385.9" r="2.2"/><circle cx="1190.1" cy="409.9" r="2.2"/><circle cx="1228.5" cy="429.8" r="2.2"/><circle cx="1266.9" cy="433.8" r="2.2"/><circle cx="1305.3" cy="429.8" r="2.2"/><circle cx="1343.7" cy="433.8" r="2.2"/><circle cx="1382.1" cy="429.8" r="2.2"/></g><path d="M844.5,302.1 L882.9,310.1 L921.3,302.1 L959.7,290.2 L998.1,270.2 L1036.5,294.2 L1074.9,322.1 L1113.3,350.0 L1151.7,374.0 L1190.1,385.9 L1228.5,389.9 L1266.9,389.9 L1305.3,389.9 L1343.7,385.9 L1382.1,381.9" fill="none" stroke="#ff7a2f" stroke-width="1.35" stroke-linejoin="round" opacity="0.85"/><g fill="#ff7a2f"><circle cx="882.9" cy="310.1" r="2.2"/><circle cx="921.3" cy="302.1" r="2.2"/><circle cx="959.7" cy="290.2" r="2.2"/><circle cx="998.1" cy="270.2" r="2.2"/><circle cx="1036.5" cy="294.2" r="2.2"/><circle cx="1074.9" cy="322.1" r="2.2"/><circle cx="1113.3" cy="350.0" r="2.2"/><circle cx="1151.7" cy="374.0" r="2.2"/><circle cx="1190.1" cy="385.9" r="2.2"/><circle cx="1228.5" cy="389.9" r="2.2"/><circle cx="1266.9" cy="389.9" r="2.2"/><circle cx="1305.3" cy="389.9" r="2.2"/><circle cx="1343.7" cy="385.9" r="2.2"/><circle cx="1382.1" cy="381.9" r="2.2"/></g><path d="M844.5,302.1 L882.9,306.1 L921.3,310.1 L959.7,302.1 L998.1,290.2 L1036.5,306.1 L1074.9,334.1 L1113.3,362.0 L1151.7,378.0 L1190.1,385.9 L1228.5,389.9 L1266.9,393.9 L1305.3,385.9 L1343.7,381.9 L1382.1,381.9" fill="none" stroke="#ff80f0" stroke-width="1.35" stroke-linejoin="round" opacity="0.85"/><g fill="#ff80f0"><circle cx="882.9" cy="306.1" r="2.2"/><circle cx="921.3" cy="310.1" r="2.2"/><circle cx="959.7" cy="302.1" r="2.2"/><circle cx="998.1" cy="290.2" r="2.2"/><circle cx="1036.5" cy="306.1" r="2.2"/><circle cx="1074.9" cy="334.1" r="2.2"/><circle cx="1113.3" cy="362.0" r="2.2"/><circle cx="1151.7" cy="378.0" r="2.2"/><circle cx="1190.1" cy="385.9" r="2.2"/><circle cx="1228.5" cy="389.9" r="2.2"/><circle cx="1266.9" cy="393.9" r="2.2"/><circle cx="1305.3" cy="385.9" r="2.2"/><circle cx="1343.7" cy="381.9" r="2.2"/><circle cx="1382.1" cy="381.9" r="2.2"/></g><path d="M844.5,302.1 L882.9,298.2 L921.3,298.2 L959.7,294.2 L998.1,294.2 L1036.5,318.1 L1074.9,350.0 L1113.3,362.0 L1151.7,378.0 L1190.1,397.9 L1228.5,378.0" fill="none" stroke="#3a1fff" stroke-width="1.35" stroke-linejoin="round" opacity="0.85"/><g fill="#3a1fff"><circle cx="882.9" cy="298.2" r="2.2"/><circle cx="921.3" cy="298.2" r="2.2"/><circle cx="959.7" cy="294.2" r="2.2"/><circle cx="998.1" cy="294.2" r="2.2"/><circle cx="1036.5" cy="318.1" r="2.2"/><circle cx="1074.9" cy="350.0" r="2.2"/><circle cx="1113.3" cy="362.0" r="2.2"/><circle cx="1151.7" cy="378.0" r="2.2"/><circle cx="1190.1" cy="397.9" r="2.2"/><circle cx="1228.5" cy="378.0" r="2.2"/></g><path d="M844.5,302.1 L882.9,302.1 L921.3,318.1 L959.7,314.1 L998.1,266.2 L1036.5,242.3 L1074.9,314.1 L1113.3,366.0 L1151.7,393.9 L1190.1,409.9 L1228.5,425.8 L1266.9,433.8" fill="none" stroke="#6a1b9a" stroke-width="1.35" stroke-linejoin="round" opacity="0.85"/><g fill="#6a1b9a"><circle cx="882.9" cy="302.1" r="2.2"/><circle cx="921.3" cy="318.1" r="2.2"/><circle cx="959.7" cy="314.1" r="2.2"/><circle cx="998.1" cy="266.2" r="2.2"/><circle cx="1036.5" cy="242.3" r="2.2"/><circle cx="1074.9" cy="314.1" r="2.2"/><circle cx="1113.3" cy="366.0" r="2.2"/><circle cx="1151.7" cy="393.9" r="2.2"/><circle cx="1190.1" cy="409.9" r="2.2"/><circle cx="1228.5" cy="425.8" r="2.2"/><circle cx="1266.9" cy="433.8" r="2.2"/></g><path d="M844.5,302.1 L882.9,302.1 L921.3,322.1 L959.7,322.1 L998.1,270.2 L1036.5,258.3 L1074.9,310.1 L1113.3,362.0 L1151.7,389.9 L1190.1,405.9 L1228.5,421.8 L1266.9,441.8" fill="none" stroke="#6a1b9a" stroke-width="1.35" stroke-linejoin="round" opacity="0.85"/><g fill="#6a1b9a"><circle cx="882.9" cy="302.1" r="2.2"/><circle cx="921.3" cy="322.1" r="2.2"/><circle cx="959.7" cy="322.1" r="2.2"/><circle cx="998.1" cy="270.2" r="2.2"/><circle cx="1036.5" cy="258.3" r="2.2"/><circle cx="1074.9" cy="310.1" r="2.2"/><circle cx="1113.3" cy="362.0" r="2.2"/><circle cx="1151.7" cy="389.9" r="2.2"/><circle cx="1190.1" cy="405.9" r="2.2"/><circle cx="1228.5" cy="421.8" r="2.2"/><circle cx="1266.9" cy="441.8" r="2.2"/></g><path d="M844.5,302.1 L882.9,282.2 L921.3,270.2 L959.7,242.3 L998.1,218.4 L1036.5,242.3 L1074.9,338.1 L1113.3,366.0 L1151.7,381.9 L1190.1,397.9 L1228.5,409.9" fill="none" stroke="#555555" stroke-width="1.35" stroke-linejoin="round" opacity="0.85"/><g fill="#555555"><circle cx="882.9" cy="282.2" r="2.2"/><circle cx="921.3" cy="270.2" r="2.2"/><circle cx="959.7" cy="242.3" r="2.2"/><circle cx="998.1" cy="218.4" r="2.2"/><circle cx="1036.5" cy="242.3" r="2.2"/><circle cx="1074.9" cy="338.1" r="2.2"/><circle cx="1113.3" cy="366.0" r="2.2"/><circle cx="1151.7" cy="381.9" r="2.2"/><circle cx="1190.1" cy="397.9" r="2.2"/><circle cx="1228.5" cy="409.9" r="2.2"/></g><path d="M844.5,302.1 L882.9,286.2 L921.3,262.2 L959.7,230.3 L998.1,194.4 L1036.5,226.3 L1074.9,318.1 L1113.3,354.0 L1151.7,374.0 L1190.1,393.9 L1228.5,413.9" fill="none" stroke="#000000" stroke-width="1.35" stroke-linejoin="round" opacity="0.85"/><g fill="#000000"><circle cx="882.9" cy="286.2" r="2.2"/><circle cx="921.3" cy="262.2" r="2.2"/><circle cx="959.7" cy="230.3" r="2.2"/><circle cx="998.1" cy="194.4" r="2.2"/><circle cx="1036.5" cy="226.3" r="2.2"/><circle cx="1074.9" cy="318.1" r="2.2"/><circle cx="1113.3" cy="354.0" r="2.2"/><circle cx="1151.7" cy="374.0" r="2.2"/><circle cx="1190.1" cy="393.9" r="2.2"/><circle cx="1228.5" cy="413.9" r="2.2"/></g><circle cx="854.1" cy="302.9" r="2.2" fill="#000"/><circle cx="845.3" cy="302.1" r="2.3" fill="#2b1fff"/></g>
<g font-family="'DejaVu Sans',sans-serif" font-weight="bold" font-size="11.6"><text x="1228.5" y="386.3" text-anchor="middle" fill="#0f9d78">TABM</text><text x="1228.5" y="370.4" text-anchor="middle" fill="#6a1b9a">HWF2</text><text x="1266.9" y="438.2" text-anchor="middle" fill="#2e8b6f">HAFS</text><text x="1266.9" y="438.2" text-anchor="middle" fill="#0f9d78">HMNI</text><text x="921.3" y="174.8" text-anchor="middle" fill="#ff6a33">RI30</text><text x="921.3" y="194.8" text-anchor="middle" fill="#0f9d78">RI25</text><text x="921.3" y="246.7" text-anchor="middle" fill="#0b4d1c">IVRI</text><text x="1228.5" y="362.4" text-anchor="middle" fill="#2aa9d4">NNIC</text><text x="1266.9" y="458.1" text-anchor="middle" fill="#6a1b9a">HFAI</text><text x="1228.5" y="362.4" text-anchor="middle" fill="#0f9d78">DSHP</text><text x="1228.5" y="394.3" text-anchor="middle" fill="#000000">OFCL</text><text x="1228.5" y="386.3" text-anchor="middle" fill="#2aa9d4">NNIB</text><text x="1228.5" y="362.4" text-anchor="middle" fill="#0b4d1c">LGEM</text><text x="1228.5" y="410.3" text-anchor="middle" fill="#000000">OFCI</text><text x="1266.9" y="438.2" text-anchor="middle" fill="#555555">IVCN</text><text x="1228.5" y="378.3" text-anchor="middle" fill="#0f9d78">SHIP</text><text x="1382.1" y="422.2" text-anchor="middle" fill="#ff3030">AVNI</text><text x="1382.1" y="374.3" text-anchor="middle" fill="#ff7a2f">AEMI</text><text x="1382.1" y="374.3" text-anchor="middle" fill="#ff80f0">CEMI</text><text x="1228.5" y="370.4" text-anchor="middle" fill="#3a1fff">UKX2</text><text x="1266.9" y="426.2" text-anchor="middle" fill="#6a1b9a">HWFI</text></g>
<rect x="844.5" y="62.5" width="576.0" height="419.0" fill="none" stroke="#2a2a2a" stroke-width="1"/>
<g font-family="'DejaVu Sans',sans-serif" font-size="11.3" fill="#262626"><line x1="844.5" y1="481.5" x2="844.5" y2="485.5" stroke="#222" stroke-width="1"/><text x="844.5" y="499" text-anchor="middle">0</text><line x1="882.9" y1="481.5" x2="882.9" y2="485.5" stroke="#222" stroke-width="1"/><text x="882.9" y="499" text-anchor="middle">12</text><line x1="921.3" y1="481.5" x2="921.3" y2="485.5" stroke="#222" stroke-width="1"/><text x="921.3" y="499" text-anchor="middle">24</text><line x1="959.7" y1="481.5" x2="959.7" y2="485.5" stroke="#222" stroke-width="1"/><text x="959.7" y="499" text-anchor="middle">36</text><line x1="998.1" y1="481.5" x2="998.1" y2="485.5" stroke="#222" stroke-width="1"/><text x="998.1" y="499" text-anchor="middle">48</text><line x1="1036.5" y1="481.5" x2="1036.5" y2="485.5" stroke="#222" stroke-width="1"/><text x="1036.5" y="499" text-anchor="middle">60</text><line x1="1074.9" y1="481.5" x2="1074.9" y2="485.5" stroke="#222" stroke-width="1"/><text x="1074.9" y="499" text-anchor="middle">72</text><line x1="1113.3" y1="481.5" x2="1113.3" y2="485.5" stroke="#222" stroke-width="1"/><text x="1113.3" y="499" text-anchor="middle">84</text><line x1="1151.7" y1="481.5" x2="1151.7" y2="485.5" stroke="#222" stroke-width="1"/><text x="1151.7" y="499" text-anchor="middle">96</text><line x1="1190.1" y1="481.5" x2="1190.1" y2="485.5" stroke="#222" stroke-width="1"/><text x="1190.1" y="499" text-anchor="middle">108</text><line x1="1228.5" y1="481.5" x2="1228.5" y2="485.5" stroke="#222" stroke-width="1"/><text x="1228.5" y="499" text-anchor="middle">120</text><line x1="1266.9" y1="481.5" x2="1266.9" y2="485.5" stroke="#222" stroke-width="1"/><text x="1266.9" y="499" text-anchor="middle">132</text><line x1="1305.3" y1="481.5" x2="1305.3" y2="485.5" stroke="#222" stroke-width="1"/><text x="1305.3" y="499" text-anchor="middle">144</text><line x1="1343.7" y1="481.5" x2="1343.7" y2="485.5" stroke="#222" stroke-width="1"/><text x="1343.7" y="499" text-anchor="middle">156</text><line x1="1382.1" y1="481.5" x2="1382.1" y2="485.5" stroke="#222" stroke-width="1"/><text x="1382.1" y="499" text-anchor="middle">168</text><line x1="840.5" y1="481.7" x2="844.5" y2="481.7" stroke="#222" stroke-width="1"/><text x="836.3" y="485.7" text-anchor="end">0</text><line x1="840.5" y1="421.8" x2="844.5" y2="421.8" stroke="#222" stroke-width="1"/><text x="836.3" y="425.8" text-anchor="end">15</text><line x1="840.5" y1="362.0" x2="844.5" y2="362.0" stroke="#222" stroke-width="1"/><text x="836.3" y="366.0" text-anchor="end">30</text><line x1="840.5" y1="302.1" x2="844.5" y2="302.1" stroke="#222" stroke-width="1"/><text x="836.3" y="306.1" text-anchor="end">45</text><line x1="840.5" y1="242.3" x2="844.5" y2="242.3" stroke="#222" stroke-width="1"/><text x="836.3" y="246.3" text-anchor="end">60</text><line x1="840.5" y1="182.4" x2="844.5" y2="182.4" stroke="#222" stroke-width="1"/><text x="836.3" y="186.4" text-anchor="end">75</text><line x1="840.5" y1="122.6" x2="844.5" y2="122.6" stroke="#222" stroke-width="1"/><text x="836.3" y="126.6" text-anchor="end">90</text></g>
<text x="1131.5" y="515.9" text-anchor="middle" font-family="'DejaVu Sans',sans-serif" font-size="14" fill="#262626">Forecast Hour</text>
<text transform="translate(813.3,273.3) rotate(-90)" text-anchor="middle" font-family="'DejaVu Sans',sans-serif" font-size="14" fill="#262626">Wind Speed (kt)</text>
<text x="844.2" y="37" font-family="'DejaVu Sans',sans-serif" font-weight="bold" font-size="19.2" fill="#000" textLength="547.4" lengthAdjust="spacingAndGlyphs">Tropical Storm FRANCINE Model Intensity Guidance</text>
<text x="844.0" y="58.3" font-family="'DejaVu Sans',sans-serif" font-weight="bold" font-size="14" fill="#000" textLength="236" lengthAdjust="spacingAndGlyphs">Initialized at 12z Sep 09 2024</text>
<text x="1419.5" y="58.3" text-anchor="end" font-family="'DejaVu Sans',sans-serif" font-size="11.8" fill="#262626">Levi Cowan - tropicaltidbits.com</text>
<rect x="991.4" y="62.7" width="62.0" height="439.4" fill="none" stroke="#000" stroke-width="4.5"/>
<text x="961" y="527.3" font-family="'Liberation Sans',sans-serif" font-weight="bold" font-size="14.8" fill="#000" textLength="120" lengthAdjust="spacingAndGlyphs">Landfall Window</text>
</svg>
</figure>
</body>
</html>
